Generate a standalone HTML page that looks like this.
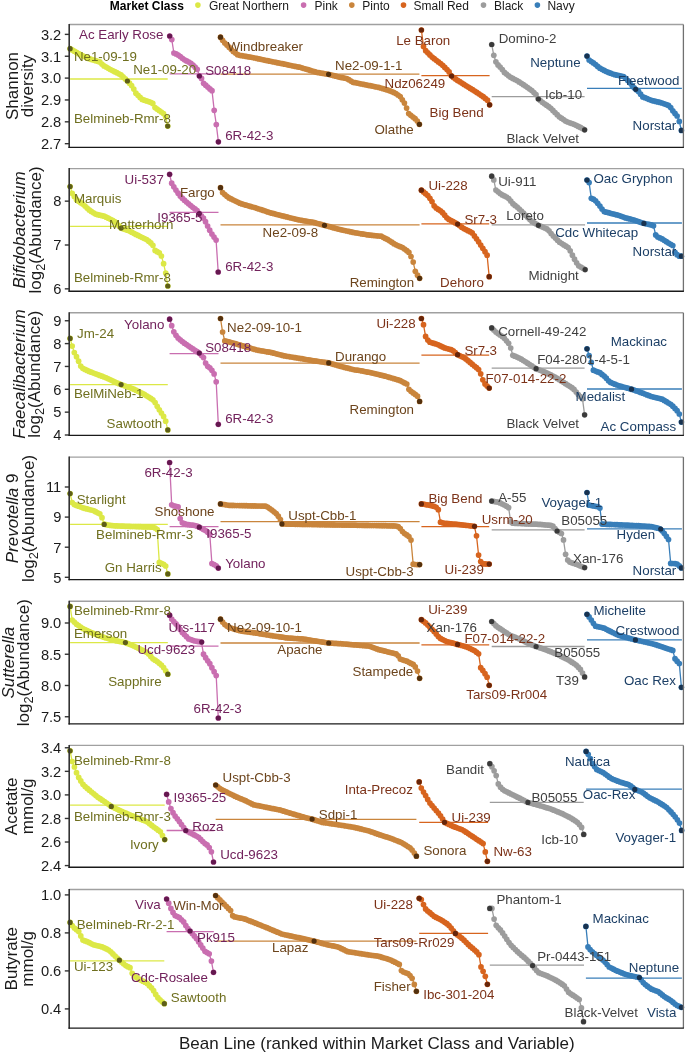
<!DOCTYPE html>
<html><head><meta charset="utf-8"><style>
html,body{margin:0;padding:0;background:#fff;}
svg{display:block;font-family:"Liberation Sans", sans-serif;will-change:transform;}
</style></head><body>
<svg width="685" height="1053" viewBox="0 0 685 1053">
<rect width="685" height="1053" fill="#fff"/>
<text x="109.8" y="9.5" font-size="12" fill="#000" font-weight="bold">Market Class</text>
<circle cx="197.9" cy="5.1" r="2.8" fill="#dce846"/>
<text x="209.0" y="9.5" font-size="12" fill="#1a1a1a">Great Northern</text>
<circle cx="303.6" cy="5.1" r="2.8" fill="#c96eb0"/>
<text x="314.5" y="9.5" font-size="12" fill="#1a1a1a">Pink</text>
<circle cx="351.8" cy="5.1" r="2.8" fill="#c9853c"/>
<text x="362.3" y="9.5" font-size="12" fill="#1a1a1a">Pinto</text>
<circle cx="403.5" cy="5.1" r="2.8" fill="#d7641e"/>
<text x="413.6" y="9.5" font-size="12" fill="#1a1a1a">Small Red</text>
<circle cx="483.5" cy="5.1" r="2.8" fill="#9c9c9c"/>
<text x="494.0" y="9.5" font-size="12" fill="#1a1a1a">Black</text>
<circle cx="537.4" cy="5.1" r="2.8" fill="#387eb9"/>
<text x="547.4" y="9.5" font-size="12" fill="#1a1a1a">Navy</text>
<line x1="64.8" y1="34.38" x2="69.20" y2="34.38" stroke="#333" stroke-width="1.4"/>
<text x="61.3" y="39.6" font-size="14.7" fill="#1a1a1a" text-anchor="end">3.2</text>
<line x1="64.8" y1="56.24" x2="69.20" y2="56.24" stroke="#333" stroke-width="1.4"/>
<text x="61.3" y="61.5" font-size="14.7" fill="#1a1a1a" text-anchor="end">3.1</text>
<line x1="64.8" y1="78.10" x2="69.20" y2="78.10" stroke="#333" stroke-width="1.4"/>
<text x="61.3" y="83.4" font-size="14.7" fill="#1a1a1a" text-anchor="end">3.0</text>
<line x1="64.8" y1="99.96" x2="69.20" y2="99.96" stroke="#333" stroke-width="1.4"/>
<text x="61.3" y="105.2" font-size="14.7" fill="#1a1a1a" text-anchor="end">2.9</text>
<line x1="64.8" y1="121.82" x2="69.20" y2="121.82" stroke="#333" stroke-width="1.4"/>
<text x="61.3" y="127.1" font-size="14.7" fill="#1a1a1a" text-anchor="end">2.8</text>
<line x1="64.8" y1="143.68" x2="69.20" y2="143.68" stroke="#333" stroke-width="1.4"/>
<text x="61.3" y="148.9" font-size="14.7" fill="#1a1a1a" text-anchor="end">2.7</text>
<text transform="translate(17.5,86.0) rotate(-90)" font-size="17" text-anchor="middle" fill="#1a1a1a">Shannon</text>
<text transform="translate(32.9,86.0) rotate(-90)" font-size="17" text-anchor="middle" fill="#1a1a1a">diversity</text>
<g>
<line x1="70.1" y1="79.0" x2="167.7" y2="79.0" stroke="#dce846" stroke-width="1.3"/>
<path d="M70.1,48.7 L72.2,49.9 L74.3,51.2 L76.5,52.4 L78.6,53.7 L80.7,54.7 L82.8,55.8 L85.0,56.8 L87.1,57.9 L89.2,58.7 L91.3,59.4 L93.4,60.0 L95.6,60.7 L97.7,61.3 L99.8,61.9 L101.9,64.0 L104.0,65.9 L106.2,67.1 L108.3,68.3 L110.4,69.5 L112.5,70.6 L114.7,71.7 L116.8,72.7 L118.9,73.8 L121.0,74.9 L123.1,76.9 L125.3,78.9 L127.4,81.0 L129.5,83.2 L131.6,85.5 L133.8,89.1 L135.9,93.2 L138.0,95.3 L140.1,97.4 L142.2,99.4 L144.4,100.2 L146.5,100.9 L148.6,101.6 L150.7,102.3 L152.8,103.4 L155.0,107.6 L157.1,109.1 L159.2,110.5 L161.3,112.0 L163.5,113.5 L165.6,116.8 L167.7,126.1" fill="none" stroke="#dce846" stroke-width="1.3"/>
<g fill="#dce846"><circle cx="70.1" cy="48.7" r="2.85"/><circle cx="72.2" cy="49.9" r="2.85"/><circle cx="74.3" cy="51.2" r="2.85"/><circle cx="76.5" cy="52.4" r="2.85"/><circle cx="78.6" cy="53.7" r="2.85"/><circle cx="80.7" cy="54.7" r="2.85"/><circle cx="82.8" cy="55.8" r="2.85"/><circle cx="85.0" cy="56.8" r="2.85"/><circle cx="87.1" cy="57.9" r="2.85"/><circle cx="89.2" cy="58.7" r="2.85"/><circle cx="91.3" cy="59.4" r="2.85"/><circle cx="93.4" cy="60.0" r="2.85"/><circle cx="95.6" cy="60.7" r="2.85"/><circle cx="97.7" cy="61.3" r="2.85"/><circle cx="99.8" cy="61.9" r="2.85"/><circle cx="101.9" cy="64.0" r="2.85"/><circle cx="104.0" cy="65.9" r="2.85"/><circle cx="106.2" cy="67.1" r="2.85"/><circle cx="108.3" cy="68.3" r="2.85"/><circle cx="110.4" cy="69.5" r="2.85"/><circle cx="112.5" cy="70.6" r="2.85"/><circle cx="114.7" cy="71.7" r="2.85"/><circle cx="116.8" cy="72.7" r="2.85"/><circle cx="118.9" cy="73.8" r="2.85"/><circle cx="121.0" cy="74.9" r="2.85"/><circle cx="123.1" cy="76.9" r="2.85"/><circle cx="125.3" cy="78.9" r="2.85"/><circle cx="127.4" cy="81.0" r="2.85"/><circle cx="129.5" cy="83.2" r="2.85"/><circle cx="131.6" cy="85.5" r="2.85"/><circle cx="133.8" cy="89.1" r="2.85"/><circle cx="135.9" cy="93.2" r="2.85"/><circle cx="138.0" cy="95.3" r="2.85"/><circle cx="140.1" cy="97.4" r="2.85"/><circle cx="142.2" cy="99.4" r="2.85"/><circle cx="144.4" cy="100.2" r="2.85"/><circle cx="146.5" cy="100.9" r="2.85"/><circle cx="148.6" cy="101.6" r="2.85"/><circle cx="150.7" cy="102.3" r="2.85"/><circle cx="152.8" cy="103.4" r="2.85"/><circle cx="155.0" cy="107.6" r="2.85"/><circle cx="157.1" cy="109.1" r="2.85"/><circle cx="159.2" cy="110.5" r="2.85"/><circle cx="161.3" cy="112.0" r="2.85"/><circle cx="163.5" cy="113.5" r="2.85"/><circle cx="165.6" cy="116.8" r="2.85"/><circle cx="167.7" cy="126.1" r="2.85"/></g>
<g fill="#5e5e18"><circle cx="70.1" cy="48.7" r="2.6"/><circle cx="167.7" cy="126.1" r="2.6"/><circle cx="127.4" cy="81.0" r="2.6"/></g>
<line x1="169.7" y1="73.8" x2="220.0" y2="73.8" stroke="#c96eb0" stroke-width="1.3"/>
<path d="M169.7,36.0 L171.8,39.6 L173.9,53.0 L176.1,53.9 L178.2,55.1 L180.3,56.5 L182.4,58.3 L184.5,59.8 L186.6,60.9 L188.8,62.0 L190.9,63.4 L193.0,65.1 L195.1,67.2 L197.2,69.3 L199.3,75.8 L201.5,78.4 L203.6,83.3 L205.7,85.2 L207.8,87.1 L209.9,88.9 L212.0,90.7 L214.2,110.3 L216.3,124.5 L218.4,141.8" fill="none" stroke="#c96eb0" stroke-width="1.3"/>
<g fill="#c96eb0"><circle cx="169.7" cy="36.0" r="2.85"/><circle cx="171.8" cy="39.6" r="2.85"/><circle cx="173.9" cy="53.0" r="2.85"/><circle cx="176.1" cy="53.9" r="2.85"/><circle cx="178.2" cy="55.1" r="2.85"/><circle cx="180.3" cy="56.5" r="2.85"/><circle cx="182.4" cy="58.3" r="2.85"/><circle cx="184.5" cy="59.8" r="2.85"/><circle cx="186.6" cy="60.9" r="2.85"/><circle cx="188.8" cy="62.0" r="2.85"/><circle cx="190.9" cy="63.4" r="2.85"/><circle cx="193.0" cy="65.1" r="2.85"/><circle cx="195.1" cy="67.2" r="2.85"/><circle cx="197.2" cy="69.3" r="2.85"/><circle cx="199.3" cy="75.8" r="2.85"/><circle cx="201.5" cy="78.4" r="2.85"/><circle cx="203.6" cy="83.3" r="2.85"/><circle cx="205.7" cy="85.2" r="2.85"/><circle cx="207.8" cy="87.1" r="2.85"/><circle cx="209.9" cy="88.9" r="2.85"/><circle cx="212.0" cy="90.7" r="2.85"/><circle cx="214.2" cy="110.3" r="2.85"/><circle cx="216.3" cy="124.5" r="2.85"/><circle cx="218.4" cy="141.8" r="2.85"/></g>
<g fill="#64184f"><circle cx="169.7" cy="36.0" r="2.6"/><circle cx="218.4" cy="141.8" r="2.6"/><circle cx="199.4" cy="76.0" r="2.6"/></g>
<line x1="220.5" y1="74.1" x2="419.4" y2="74.1" stroke="#c9853c" stroke-width="1.3"/>
<path d="M220.5,37.2 L222.6,40.3 L224.8,43.0 L226.9,45.1 L229.1,47.2 L231.2,49.3 L233.3,51.4 L235.5,53.1 L237.6,54.7 L239.7,55.3 L241.9,55.7 L244.0,56.0 L246.2,56.4 L248.3,56.8 L250.4,57.1 L252.6,57.5 L254.7,58.0 L256.9,58.4 L259.0,58.9 L261.1,59.3 L263.3,59.8 L265.4,60.3 L267.6,60.7 L269.7,61.2 L271.8,61.6 L274.0,62.0 L276.1,62.4 L278.2,62.9 L280.4,63.3 L282.5,63.7 L284.7,64.2 L286.8,64.6 L288.9,65.1 L291.1,65.5 L293.2,66.0 L295.4,66.4 L297.5,66.8 L299.6,67.2 L301.8,67.8 L303.9,68.5 L306.0,69.1 L308.2,69.7 L310.3,70.4 L312.5,71.0 L314.6,71.6 L316.7,72.3 L318.9,72.7 L321.0,73.1 L323.2,73.4 L325.3,73.8 L327.4,74.1 L329.6,74.6 L331.7,75.1 L333.9,75.7 L336.0,76.2 L338.1,76.8 L340.3,77.3 L342.4,77.7 L344.5,78.1 L346.7,78.6 L348.8,79.7 L351.0,81.1 L353.1,82.3 L355.2,82.7 L357.4,83.1 L359.5,83.6 L361.7,84.0 L363.8,84.4 L365.9,84.8 L368.1,85.3 L370.2,85.7 L372.3,86.1 L374.5,86.6 L376.6,87.0 L378.8,87.4 L380.9,88.0 L383.0,88.7 L385.2,89.3 L387.3,89.9 L389.5,90.7 L391.6,91.5 L393.7,92.4 L395.9,93.5 L398.0,95.0 L400.2,96.6 L402.3,99.8 L404.4,103.1 L406.6,108.1 L408.7,113.6 L410.8,115.3 L413.0,117.0 L415.1,118.7 L417.3,121.0 L419.4,124.3" fill="none" stroke="#c9853c" stroke-width="1.3"/>
<g fill="#c9853c"><circle cx="220.5" cy="37.2" r="2.85"/><circle cx="222.6" cy="40.3" r="2.85"/><circle cx="224.8" cy="43.0" r="2.85"/><circle cx="226.9" cy="45.1" r="2.85"/><circle cx="229.1" cy="47.2" r="2.85"/><circle cx="231.2" cy="49.3" r="2.85"/><circle cx="233.3" cy="51.4" r="2.85"/><circle cx="235.5" cy="53.1" r="2.85"/><circle cx="237.6" cy="54.7" r="2.85"/><circle cx="239.7" cy="55.3" r="2.85"/><circle cx="241.9" cy="55.7" r="2.85"/><circle cx="244.0" cy="56.0" r="2.85"/><circle cx="246.2" cy="56.4" r="2.85"/><circle cx="248.3" cy="56.8" r="2.85"/><circle cx="250.4" cy="57.1" r="2.85"/><circle cx="252.6" cy="57.5" r="2.85"/><circle cx="254.7" cy="58.0" r="2.85"/><circle cx="256.9" cy="58.4" r="2.85"/><circle cx="259.0" cy="58.9" r="2.85"/><circle cx="261.1" cy="59.3" r="2.85"/><circle cx="263.3" cy="59.8" r="2.85"/><circle cx="265.4" cy="60.3" r="2.85"/><circle cx="267.6" cy="60.7" r="2.85"/><circle cx="269.7" cy="61.2" r="2.85"/><circle cx="271.8" cy="61.6" r="2.85"/><circle cx="274.0" cy="62.0" r="2.85"/><circle cx="276.1" cy="62.4" r="2.85"/><circle cx="278.2" cy="62.9" r="2.85"/><circle cx="280.4" cy="63.3" r="2.85"/><circle cx="282.5" cy="63.7" r="2.85"/><circle cx="284.7" cy="64.2" r="2.85"/><circle cx="286.8" cy="64.6" r="2.85"/><circle cx="288.9" cy="65.1" r="2.85"/><circle cx="291.1" cy="65.5" r="2.85"/><circle cx="293.2" cy="66.0" r="2.85"/><circle cx="295.4" cy="66.4" r="2.85"/><circle cx="297.5" cy="66.8" r="2.85"/><circle cx="299.6" cy="67.2" r="2.85"/><circle cx="301.8" cy="67.8" r="2.85"/><circle cx="303.9" cy="68.5" r="2.85"/><circle cx="306.0" cy="69.1" r="2.85"/><circle cx="308.2" cy="69.7" r="2.85"/><circle cx="310.3" cy="70.4" r="2.85"/><circle cx="312.5" cy="71.0" r="2.85"/><circle cx="314.6" cy="71.6" r="2.85"/><circle cx="316.7" cy="72.3" r="2.85"/><circle cx="318.9" cy="72.7" r="2.85"/><circle cx="321.0" cy="73.1" r="2.85"/><circle cx="323.2" cy="73.4" r="2.85"/><circle cx="325.3" cy="73.8" r="2.85"/><circle cx="327.4" cy="74.1" r="2.85"/><circle cx="329.6" cy="74.6" r="2.85"/><circle cx="331.7" cy="75.1" r="2.85"/><circle cx="333.9" cy="75.7" r="2.85"/><circle cx="336.0" cy="76.2" r="2.85"/><circle cx="338.1" cy="76.8" r="2.85"/><circle cx="340.3" cy="77.3" r="2.85"/><circle cx="342.4" cy="77.7" r="2.85"/><circle cx="344.5" cy="78.1" r="2.85"/><circle cx="346.7" cy="78.6" r="2.85"/><circle cx="348.8" cy="79.7" r="2.85"/><circle cx="351.0" cy="81.1" r="2.85"/><circle cx="353.1" cy="82.3" r="2.85"/><circle cx="355.2" cy="82.7" r="2.85"/><circle cx="357.4" cy="83.1" r="2.85"/><circle cx="359.5" cy="83.6" r="2.85"/><circle cx="361.7" cy="84.0" r="2.85"/><circle cx="363.8" cy="84.4" r="2.85"/><circle cx="365.9" cy="84.8" r="2.85"/><circle cx="368.1" cy="85.3" r="2.85"/><circle cx="370.2" cy="85.7" r="2.85"/><circle cx="372.3" cy="86.1" r="2.85"/><circle cx="374.5" cy="86.6" r="2.85"/><circle cx="376.6" cy="87.0" r="2.85"/><circle cx="378.8" cy="87.4" r="2.85"/><circle cx="380.9" cy="88.0" r="2.85"/><circle cx="383.0" cy="88.7" r="2.85"/><circle cx="385.2" cy="89.3" r="2.85"/><circle cx="387.3" cy="89.9" r="2.85"/><circle cx="389.5" cy="90.7" r="2.85"/><circle cx="391.6" cy="91.5" r="2.85"/><circle cx="393.7" cy="92.4" r="2.85"/><circle cx="395.9" cy="93.5" r="2.85"/><circle cx="398.0" cy="95.0" r="2.85"/><circle cx="400.2" cy="96.6" r="2.85"/><circle cx="402.3" cy="99.8" r="2.85"/><circle cx="404.4" cy="103.1" r="2.85"/><circle cx="406.6" cy="108.1" r="2.85"/><circle cx="408.7" cy="113.6" r="2.85"/><circle cx="410.8" cy="115.3" r="2.85"/><circle cx="413.0" cy="117.0" r="2.85"/><circle cx="415.1" cy="118.7" r="2.85"/><circle cx="417.3" cy="121.0" r="2.85"/><circle cx="419.4" cy="124.3" r="2.85"/></g>
<g fill="#52300e"><circle cx="220.5" cy="37.2" r="2.6"/><circle cx="419.4" cy="124.3" r="2.6"/><circle cx="328.6" cy="74.3" r="2.6"/></g>
<line x1="421.4" y1="75.6" x2="489.6" y2="75.6" stroke="#d7641e" stroke-width="1.3"/>
<path d="M421.4,30.0 L423.5,46.6 L425.7,50.7 L427.8,52.8 L429.9,54.9 L432.1,57.1 L434.2,58.7 L436.3,60.3 L438.4,61.9 L440.6,63.5 L442.7,65.3 L444.8,67.4 L447.0,69.6 L449.1,71.9 L451.2,75.5 L453.4,77.4 L455.5,78.9 L457.6,80.4 L459.8,81.7 L461.9,83.1 L464.0,84.4 L466.2,85.8 L468.3,87.1 L470.4,88.4 L472.6,89.7 L474.7,91.1 L476.8,92.4 L478.9,93.8 L481.1,95.3 L483.2,96.7 L485.3,98.4 L487.5,100.2 L489.6,104.8" fill="none" stroke="#d7641e" stroke-width="1.3"/>
<g fill="#d7641e"><circle cx="421.4" cy="30.0" r="2.85"/><circle cx="423.5" cy="46.6" r="2.85"/><circle cx="425.7" cy="50.7" r="2.85"/><circle cx="427.8" cy="52.8" r="2.85"/><circle cx="429.9" cy="54.9" r="2.85"/><circle cx="432.1" cy="57.1" r="2.85"/><circle cx="434.2" cy="58.7" r="2.85"/><circle cx="436.3" cy="60.3" r="2.85"/><circle cx="438.4" cy="61.9" r="2.85"/><circle cx="440.6" cy="63.5" r="2.85"/><circle cx="442.7" cy="65.3" r="2.85"/><circle cx="444.8" cy="67.4" r="2.85"/><circle cx="447.0" cy="69.6" r="2.85"/><circle cx="449.1" cy="71.9" r="2.85"/><circle cx="451.2" cy="75.5" r="2.85"/><circle cx="453.4" cy="77.4" r="2.85"/><circle cx="455.5" cy="78.9" r="2.85"/><circle cx="457.6" cy="80.4" r="2.85"/><circle cx="459.8" cy="81.7" r="2.85"/><circle cx="461.9" cy="83.1" r="2.85"/><circle cx="464.0" cy="84.4" r="2.85"/><circle cx="466.2" cy="85.8" r="2.85"/><circle cx="468.3" cy="87.1" r="2.85"/><circle cx="470.4" cy="88.4" r="2.85"/><circle cx="472.6" cy="89.7" r="2.85"/><circle cx="474.7" cy="91.1" r="2.85"/><circle cx="476.8" cy="92.4" r="2.85"/><circle cx="478.9" cy="93.8" r="2.85"/><circle cx="481.1" cy="95.3" r="2.85"/><circle cx="483.2" cy="96.7" r="2.85"/><circle cx="485.3" cy="98.4" r="2.85"/><circle cx="487.5" cy="100.2" r="2.85"/><circle cx="489.6" cy="104.8" r="2.85"/></g>
<g fill="#66250a"><circle cx="421.4" cy="30.0" r="2.6"/><circle cx="489.6" cy="104.8" r="2.6"/><circle cx="451.6" cy="76.1" r="2.6"/></g>
<line x1="491.7" y1="96.6" x2="584.6" y2="96.6" stroke="#9c9c9c" stroke-width="1.3"/>
<path d="M491.7,44.5 L493.8,55.3 L495.9,61.8 L498.0,64.9 L500.1,67.0 L502.3,69.6 L504.4,72.4 L506.5,74.1 L508.6,75.8 L510.7,77.4 L512.8,78.4 L514.9,79.5 L517.0,80.5 L519.1,81.9 L521.3,83.3 L523.4,84.7 L525.5,86.1 L527.6,87.5 L529.7,89.0 L531.8,90.5 L533.9,92.6 L536.0,94.6 L538.1,98.5 L540.3,100.5 L542.4,102.3 L544.5,103.8 L546.6,105.2 L548.7,106.7 L550.8,108.3 L552.9,110.4 L555.0,112.5 L557.2,114.7 L559.3,116.8 L561.4,118.2 L563.5,119.6 L565.6,121.1 L567.7,122.0 L569.8,122.8 L571.9,123.5 L574.0,124.3 L576.2,125.3 L578.3,126.4 L580.4,127.4 L582.5,128.6 L584.6,129.8" fill="none" stroke="#9c9c9c" stroke-width="1.3"/>
<g fill="#9c9c9c"><circle cx="491.7" cy="44.5" r="2.85"/><circle cx="493.8" cy="55.3" r="2.85"/><circle cx="495.9" cy="61.8" r="2.85"/><circle cx="498.0" cy="64.9" r="2.85"/><circle cx="500.1" cy="67.0" r="2.85"/><circle cx="502.3" cy="69.6" r="2.85"/><circle cx="504.4" cy="72.4" r="2.85"/><circle cx="506.5" cy="74.1" r="2.85"/><circle cx="508.6" cy="75.8" r="2.85"/><circle cx="510.7" cy="77.4" r="2.85"/><circle cx="512.8" cy="78.4" r="2.85"/><circle cx="514.9" cy="79.5" r="2.85"/><circle cx="517.0" cy="80.5" r="2.85"/><circle cx="519.1" cy="81.9" r="2.85"/><circle cx="521.3" cy="83.3" r="2.85"/><circle cx="523.4" cy="84.7" r="2.85"/><circle cx="525.5" cy="86.1" r="2.85"/><circle cx="527.6" cy="87.5" r="2.85"/><circle cx="529.7" cy="89.0" r="2.85"/><circle cx="531.8" cy="90.5" r="2.85"/><circle cx="533.9" cy="92.6" r="2.85"/><circle cx="536.0" cy="94.6" r="2.85"/><circle cx="538.1" cy="98.5" r="2.85"/><circle cx="540.3" cy="100.5" r="2.85"/><circle cx="542.4" cy="102.3" r="2.85"/><circle cx="544.5" cy="103.8" r="2.85"/><circle cx="546.6" cy="105.2" r="2.85"/><circle cx="548.7" cy="106.7" r="2.85"/><circle cx="550.8" cy="108.3" r="2.85"/><circle cx="552.9" cy="110.4" r="2.85"/><circle cx="555.0" cy="112.5" r="2.85"/><circle cx="557.2" cy="114.7" r="2.85"/><circle cx="559.3" cy="116.8" r="2.85"/><circle cx="561.4" cy="118.2" r="2.85"/><circle cx="563.5" cy="119.6" r="2.85"/><circle cx="565.6" cy="121.1" r="2.85"/><circle cx="567.7" cy="122.0" r="2.85"/><circle cx="569.8" cy="122.8" r="2.85"/><circle cx="571.9" cy="123.5" r="2.85"/><circle cx="574.0" cy="124.3" r="2.85"/><circle cx="576.2" cy="125.3" r="2.85"/><circle cx="578.3" cy="126.4" r="2.85"/><circle cx="580.4" cy="127.4" r="2.85"/><circle cx="582.5" cy="128.6" r="2.85"/><circle cx="584.6" cy="129.8" r="2.85"/></g>
<g fill="#3a3a3a"><circle cx="491.7" cy="44.5" r="2.6"/><circle cx="584.6" cy="129.8" r="2.6"/><circle cx="538.4" cy="99.0" r="2.6"/></g>
<line x1="587.0" y1="88.4" x2="681.9" y2="88.4" stroke="#387eb9" stroke-width="1.3"/>
<path d="M587.0,56.1 L589.1,60.0 L591.3,61.5 L593.4,62.9 L595.6,64.6 L597.7,66.4 L599.9,68.2 L602.0,69.3 L604.2,70.4 L606.3,71.5 L608.5,72.4 L610.6,73.2 L612.7,74.0 L614.9,74.7 L617.0,75.2 L619.2,75.6 L621.3,76.1 L623.5,76.5 L625.6,78.3 L627.8,80.5 L629.9,82.8 L632.1,85.6 L634.2,87.8 L636.3,89.8 L638.5,91.4 L640.6,94.2 L642.8,96.9 L644.9,97.7 L647.1,98.6 L649.2,99.5 L651.4,100.3 L653.5,100.9 L655.7,101.4 L657.8,101.9 L659.9,102.4 L662.1,103.0 L664.2,103.8 L666.4,104.6 L668.5,105.4 L670.7,107.6 L672.8,110.8 L675.0,113.4 L677.1,116.0 L679.3,121.4 L681.4,130.4" fill="none" stroke="#387eb9" stroke-width="1.3"/>
<g fill="#387eb9"><circle cx="587.0" cy="56.1" r="2.85"/><circle cx="589.1" cy="60.0" r="2.85"/><circle cx="591.3" cy="61.5" r="2.85"/><circle cx="593.4" cy="62.9" r="2.85"/><circle cx="595.6" cy="64.6" r="2.85"/><circle cx="597.7" cy="66.4" r="2.85"/><circle cx="599.9" cy="68.2" r="2.85"/><circle cx="602.0" cy="69.3" r="2.85"/><circle cx="604.2" cy="70.4" r="2.85"/><circle cx="606.3" cy="71.5" r="2.85"/><circle cx="608.5" cy="72.4" r="2.85"/><circle cx="610.6" cy="73.2" r="2.85"/><circle cx="612.7" cy="74.0" r="2.85"/><circle cx="614.9" cy="74.7" r="2.85"/><circle cx="617.0" cy="75.2" r="2.85"/><circle cx="619.2" cy="75.6" r="2.85"/><circle cx="621.3" cy="76.1" r="2.85"/><circle cx="623.5" cy="76.5" r="2.85"/><circle cx="625.6" cy="78.3" r="2.85"/><circle cx="627.8" cy="80.5" r="2.85"/><circle cx="629.9" cy="82.8" r="2.85"/><circle cx="632.1" cy="85.6" r="2.85"/><circle cx="634.2" cy="87.8" r="2.85"/><circle cx="636.3" cy="89.8" r="2.85"/><circle cx="638.5" cy="91.4" r="2.85"/><circle cx="640.6" cy="94.2" r="2.85"/><circle cx="642.8" cy="96.9" r="2.85"/><circle cx="644.9" cy="97.7" r="2.85"/><circle cx="647.1" cy="98.6" r="2.85"/><circle cx="649.2" cy="99.5" r="2.85"/><circle cx="651.4" cy="100.3" r="2.85"/><circle cx="653.5" cy="100.9" r="2.85"/><circle cx="655.7" cy="101.4" r="2.85"/><circle cx="657.8" cy="101.9" r="2.85"/><circle cx="659.9" cy="102.4" r="2.85"/><circle cx="662.1" cy="103.0" r="2.85"/><circle cx="664.2" cy="103.8" r="2.85"/><circle cx="666.4" cy="104.6" r="2.85"/><circle cx="668.5" cy="105.4" r="2.85"/><circle cx="670.7" cy="107.6" r="2.85"/><circle cx="672.8" cy="110.8" r="2.85"/><circle cx="675.0" cy="113.4" r="2.85"/><circle cx="677.1" cy="116.0" r="2.85"/><circle cx="679.3" cy="121.4" r="2.85"/><circle cx="681.4" cy="130.4" r="2.85"/></g>
<g fill="#18324f"><circle cx="587.0" cy="56.1" r="2.6"/><circle cx="681.4" cy="130.4" r="2.6"/><circle cx="635.7" cy="89.3" r="2.6"/></g>
</g>
<text x="79.0" y="38.6" font-size="13.33" fill="#72225c">Ac Early Rose</text>
<text x="73.9" y="60.6" font-size="13.33" fill="#6f6f1f">Ne1-09-19</text>
<text x="133.2" y="73.7" font-size="13.33" fill="#6f6f1f">Ne1-09-20</text>
<text x="73.9" y="122.5" font-size="13.33" fill="#6f6f1f">Belmineb-Rmr-8</text>
<text x="205.2" y="75.3" font-size="13.33" fill="#72225c">S08418</text>
<text x="225.2" y="140.2" font-size="13.33" fill="#72225c">6R-42-3</text>
<text x="227.5" y="50.8" font-size="13.33" fill="#6c441c">Windbreaker</text>
<text x="335.0" y="70.2" font-size="13.33" fill="#6c441c">Ne2-09-1-1</text>
<text x="374.5" y="133.7" font-size="13.33" fill="#6c441c">Olathe</text>
<text x="396.2" y="44.5" font-size="13.33" fill="#7c3218">Le Baron</text>
<text x="384.5" y="88.1" font-size="13.33" fill="#7c3218">Ndz06249</text>
<text x="429.6" y="116.6" font-size="13.33" fill="#7c3218">Big Bend</text>
<text x="498.7" y="43.1" font-size="13.33" fill="#3f3f3f">Domino-2</text>
<text x="545.0" y="98.9" font-size="13.33" fill="#3f3f3f">Icb-10</text>
<text x="506.4" y="143.0" font-size="13.33" fill="#3f3f3f">Black Velvet</text>
<text x="530.2" y="67.1" font-size="13.33" fill="#1c3f66">Neptune</text>
<text x="618.0" y="84.6" font-size="13.33" fill="#1c3f66">Fleetwood</text>
<text x="632.6" y="129.9" font-size="13.33" fill="#1c3f66">Norstar</text>
<line x1="69.20" y1="24.50" x2="683.40" y2="24.50" stroke="#a0a0a0" stroke-width="1.4"/>
<line x1="683.40" y1="24.50" x2="683.40" y2="147.40" stroke="#707070" stroke-width="1.3"/>
<line x1="69.20" y1="24.00" x2="69.20" y2="148.00" stroke="#333" stroke-width="1.6"/>
<line x1="68.50" y1="147.40" x2="683.90" y2="147.40" stroke="#1a1a1a" stroke-width="1.4"/>
<line x1="64.8" y1="201.15" x2="69.20" y2="201.15" stroke="#333" stroke-width="1.4"/>
<text x="61.3" y="206.4" font-size="14.7" fill="#1a1a1a" text-anchor="end">8</text>
<line x1="64.8" y1="245.00" x2="69.20" y2="245.00" stroke="#333" stroke-width="1.4"/>
<text x="61.3" y="250.3" font-size="14.7" fill="#1a1a1a" text-anchor="end">7</text>
<line x1="64.8" y1="288.85" x2="69.20" y2="288.85" stroke="#333" stroke-width="1.4"/>
<text x="61.3" y="294.1" font-size="14.7" fill="#1a1a1a" text-anchor="end">6</text>
<text transform="translate(25.3,229.9) rotate(-90)" font-size="17" text-anchor="middle" fill="#1a1a1a"><tspan font-style="italic">Bifidobacterium</tspan></text>
<text transform="translate(40.6,229.9) rotate(-90)" font-size="17" text-anchor="middle" fill="#1a1a1a">log<tspan font-size="12.75" dy="4">2</tspan><tspan dy="-4">(Abundance)</tspan></text>
<g>
<line x1="70.1" y1="226.4" x2="167.8" y2="226.4" stroke="#dce846" stroke-width="1.3"/>
<path d="M70.1,186.5 L72.2,193.3 L74.3,196.5 L76.5,199.7 L78.6,201.3 L80.7,202.7 L82.8,204.1 L85.0,206.0 L87.1,208.1 L89.2,209.9 L91.3,211.4 L93.5,212.8 L95.6,214.1 L97.7,214.7 L99.8,215.2 L102.0,215.7 L104.1,216.2 L106.2,217.2 L108.3,218.2 L110.5,219.3 L112.6,220.3 L114.7,221.7 L116.8,223.8 L119.0,225.9 L121.1,228.1 L123.2,228.8 L125.3,229.5 L127.4,230.2 L129.6,231.1 L131.7,232.2 L133.8,233.3 L135.9,234.4 L138.1,235.4 L140.2,236.5 L142.3,237.5 L144.4,238.5 L146.6,239.6 L148.7,241.2 L150.8,242.9 L152.9,245.3 L155.1,250.4 L157.2,251.7 L159.3,252.9 L161.4,256.0 L163.6,263.7 L165.7,273.0 L167.8,286.0" fill="none" stroke="#dce846" stroke-width="1.3"/>
<g fill="#dce846"><circle cx="70.1" cy="186.5" r="2.85"/><circle cx="72.2" cy="193.3" r="2.85"/><circle cx="74.3" cy="196.5" r="2.85"/><circle cx="76.5" cy="199.7" r="2.85"/><circle cx="78.6" cy="201.3" r="2.85"/><circle cx="80.7" cy="202.7" r="2.85"/><circle cx="82.8" cy="204.1" r="2.85"/><circle cx="85.0" cy="206.0" r="2.85"/><circle cx="87.1" cy="208.1" r="2.85"/><circle cx="89.2" cy="209.9" r="2.85"/><circle cx="91.3" cy="211.4" r="2.85"/><circle cx="93.5" cy="212.8" r="2.85"/><circle cx="95.6" cy="214.1" r="2.85"/><circle cx="97.7" cy="214.7" r="2.85"/><circle cx="99.8" cy="215.2" r="2.85"/><circle cx="102.0" cy="215.7" r="2.85"/><circle cx="104.1" cy="216.2" r="2.85"/><circle cx="106.2" cy="217.2" r="2.85"/><circle cx="108.3" cy="218.2" r="2.85"/><circle cx="110.5" cy="219.3" r="2.85"/><circle cx="112.6" cy="220.3" r="2.85"/><circle cx="114.7" cy="221.7" r="2.85"/><circle cx="116.8" cy="223.8" r="2.85"/><circle cx="119.0" cy="225.9" r="2.85"/><circle cx="121.1" cy="228.1" r="2.85"/><circle cx="123.2" cy="228.8" r="2.85"/><circle cx="125.3" cy="229.5" r="2.85"/><circle cx="127.4" cy="230.2" r="2.85"/><circle cx="129.6" cy="231.1" r="2.85"/><circle cx="131.7" cy="232.2" r="2.85"/><circle cx="133.8" cy="233.3" r="2.85"/><circle cx="135.9" cy="234.4" r="2.85"/><circle cx="138.1" cy="235.4" r="2.85"/><circle cx="140.2" cy="236.5" r="2.85"/><circle cx="142.3" cy="237.5" r="2.85"/><circle cx="144.4" cy="238.5" r="2.85"/><circle cx="146.6" cy="239.6" r="2.85"/><circle cx="148.7" cy="241.2" r="2.85"/><circle cx="150.8" cy="242.9" r="2.85"/><circle cx="152.9" cy="245.3" r="2.85"/><circle cx="155.1" cy="250.4" r="2.85"/><circle cx="157.2" cy="251.7" r="2.85"/><circle cx="159.3" cy="252.9" r="2.85"/><circle cx="161.4" cy="256.0" r="2.85"/><circle cx="163.6" cy="263.7" r="2.85"/><circle cx="165.7" cy="273.0" r="2.85"/><circle cx="167.8" cy="286.0" r="2.85"/></g>
<g fill="#5e5e18"><circle cx="70.1" cy="186.5" r="2.6"/><circle cx="167.8" cy="286.0" r="2.6"/><circle cx="121.1" cy="228.1" r="2.6"/></g>
<line x1="169.6" y1="212.4" x2="218.5" y2="212.4" stroke="#c96eb0" stroke-width="1.3"/>
<path d="M169.6,174.3 L171.7,183.2 L173.8,186.8 L175.9,190.1 L178.1,193.2 L180.2,196.1 L182.3,198.2 L184.4,200.2 L186.5,202.0 L188.6,203.8 L190.7,205.6 L192.8,207.3 L195.0,208.9 L197.1,210.6 L199.2,213.4 L201.3,215.8 L203.4,218.1 L205.5,221.7 L207.6,226.0 L209.7,230.2 L211.9,234.0 L214.0,237.1 L216.1,240.1 L218.2,272.0" fill="none" stroke="#c96eb0" stroke-width="1.3"/>
<g fill="#c96eb0"><circle cx="169.6" cy="174.3" r="2.85"/><circle cx="171.7" cy="183.2" r="2.85"/><circle cx="173.8" cy="186.8" r="2.85"/><circle cx="175.9" cy="190.1" r="2.85"/><circle cx="178.1" cy="193.2" r="2.85"/><circle cx="180.2" cy="196.1" r="2.85"/><circle cx="182.3" cy="198.2" r="2.85"/><circle cx="184.4" cy="200.2" r="2.85"/><circle cx="186.5" cy="202.0" r="2.85"/><circle cx="188.6" cy="203.8" r="2.85"/><circle cx="190.7" cy="205.6" r="2.85"/><circle cx="192.8" cy="207.3" r="2.85"/><circle cx="195.0" cy="208.9" r="2.85"/><circle cx="197.1" cy="210.6" r="2.85"/><circle cx="199.2" cy="213.4" r="2.85"/><circle cx="201.3" cy="215.8" r="2.85"/><circle cx="203.4" cy="218.1" r="2.85"/><circle cx="205.5" cy="221.7" r="2.85"/><circle cx="207.6" cy="226.0" r="2.85"/><circle cx="209.7" cy="230.2" r="2.85"/><circle cx="211.9" cy="234.0" r="2.85"/><circle cx="214.0" cy="237.1" r="2.85"/><circle cx="216.1" cy="240.1" r="2.85"/><circle cx="218.2" cy="272.0" r="2.85"/></g>
<g fill="#64184f"><circle cx="169.6" cy="174.3" r="2.6"/><circle cx="218.2" cy="272.0" r="2.6"/><circle cx="199.3" cy="213.6" r="2.6"/></g>
<line x1="220.5" y1="224.9" x2="419.6" y2="224.9" stroke="#c9853c" stroke-width="1.3"/>
<path d="M220.5,187.7 L222.6,192.6 L224.8,194.6 L226.9,196.3 L229.1,197.9 L231.2,198.9 L233.3,200.0 L235.5,201.1 L237.6,202.1 L239.8,203.2 L241.9,203.9 L244.0,204.6 L246.2,205.2 L248.3,205.8 L250.5,206.4 L252.6,207.0 L254.8,207.6 L256.9,208.3 L259.0,209.0 L261.2,209.7 L263.3,210.4 L265.5,211.1 L267.6,211.9 L269.7,212.6 L271.9,213.2 L274.0,213.7 L276.2,214.3 L278.3,214.8 L280.4,215.3 L282.6,215.9 L284.7,216.4 L286.9,216.9 L289.0,217.5 L291.1,218.0 L293.3,218.5 L295.4,219.1 L297.6,219.6 L299.7,220.0 L301.9,220.4 L304.0,220.8 L306.1,221.1 L308.3,221.5 L310.4,221.8 L312.6,222.2 L314.7,222.7 L316.8,223.3 L319.0,223.8 L321.1,224.4 L323.3,225.0 L325.4,225.6 L327.5,226.1 L329.7,226.7 L331.8,227.3 L334.0,227.9 L336.1,228.5 L338.2,229.1 L340.4,229.6 L342.5,230.1 L344.7,230.5 L346.8,231.0 L349.0,231.4 L351.1,231.9 L353.2,232.4 L355.4,232.8 L357.5,233.1 L359.7,233.5 L361.8,233.9 L363.9,234.2 L366.1,234.6 L368.2,234.9 L370.4,235.2 L372.5,235.4 L374.6,235.6 L376.8,235.8 L378.9,236.0 L381.1,236.2 L383.2,237.3 L385.3,238.4 L387.5,239.4 L389.6,240.8 L391.8,242.2 L393.9,243.7 L396.1,244.8 L398.2,245.8 L400.3,246.7 L402.5,247.6 L404.6,249.0 L406.8,250.7 L408.9,252.4 L411.0,256.5 L413.2,262.1 L415.3,271.3 L417.5,275.2 L419.6,278.3" fill="none" stroke="#c9853c" stroke-width="1.3"/>
<g fill="#c9853c"><circle cx="220.5" cy="187.7" r="2.85"/><circle cx="222.6" cy="192.6" r="2.85"/><circle cx="224.8" cy="194.6" r="2.85"/><circle cx="226.9" cy="196.3" r="2.85"/><circle cx="229.1" cy="197.9" r="2.85"/><circle cx="231.2" cy="198.9" r="2.85"/><circle cx="233.3" cy="200.0" r="2.85"/><circle cx="235.5" cy="201.1" r="2.85"/><circle cx="237.6" cy="202.1" r="2.85"/><circle cx="239.8" cy="203.2" r="2.85"/><circle cx="241.9" cy="203.9" r="2.85"/><circle cx="244.0" cy="204.6" r="2.85"/><circle cx="246.2" cy="205.2" r="2.85"/><circle cx="248.3" cy="205.8" r="2.85"/><circle cx="250.5" cy="206.4" r="2.85"/><circle cx="252.6" cy="207.0" r="2.85"/><circle cx="254.8" cy="207.6" r="2.85"/><circle cx="256.9" cy="208.3" r="2.85"/><circle cx="259.0" cy="209.0" r="2.85"/><circle cx="261.2" cy="209.7" r="2.85"/><circle cx="263.3" cy="210.4" r="2.85"/><circle cx="265.5" cy="211.1" r="2.85"/><circle cx="267.6" cy="211.9" r="2.85"/><circle cx="269.7" cy="212.6" r="2.85"/><circle cx="271.9" cy="213.2" r="2.85"/><circle cx="274.0" cy="213.7" r="2.85"/><circle cx="276.2" cy="214.3" r="2.85"/><circle cx="278.3" cy="214.8" r="2.85"/><circle cx="280.4" cy="215.3" r="2.85"/><circle cx="282.6" cy="215.9" r="2.85"/><circle cx="284.7" cy="216.4" r="2.85"/><circle cx="286.9" cy="216.9" r="2.85"/><circle cx="289.0" cy="217.5" r="2.85"/><circle cx="291.1" cy="218.0" r="2.85"/><circle cx="293.3" cy="218.5" r="2.85"/><circle cx="295.4" cy="219.1" r="2.85"/><circle cx="297.6" cy="219.6" r="2.85"/><circle cx="299.7" cy="220.0" r="2.85"/><circle cx="301.9" cy="220.4" r="2.85"/><circle cx="304.0" cy="220.8" r="2.85"/><circle cx="306.1" cy="221.1" r="2.85"/><circle cx="308.3" cy="221.5" r="2.85"/><circle cx="310.4" cy="221.8" r="2.85"/><circle cx="312.6" cy="222.2" r="2.85"/><circle cx="314.7" cy="222.7" r="2.85"/><circle cx="316.8" cy="223.3" r="2.85"/><circle cx="319.0" cy="223.8" r="2.85"/><circle cx="321.1" cy="224.4" r="2.85"/><circle cx="323.3" cy="225.0" r="2.85"/><circle cx="325.4" cy="225.6" r="2.85"/><circle cx="327.5" cy="226.1" r="2.85"/><circle cx="329.7" cy="226.7" r="2.85"/><circle cx="331.8" cy="227.3" r="2.85"/><circle cx="334.0" cy="227.9" r="2.85"/><circle cx="336.1" cy="228.5" r="2.85"/><circle cx="338.2" cy="229.1" r="2.85"/><circle cx="340.4" cy="229.6" r="2.85"/><circle cx="342.5" cy="230.1" r="2.85"/><circle cx="344.7" cy="230.5" r="2.85"/><circle cx="346.8" cy="231.0" r="2.85"/><circle cx="349.0" cy="231.4" r="2.85"/><circle cx="351.1" cy="231.9" r="2.85"/><circle cx="353.2" cy="232.4" r="2.85"/><circle cx="355.4" cy="232.8" r="2.85"/><circle cx="357.5" cy="233.1" r="2.85"/><circle cx="359.7" cy="233.5" r="2.85"/><circle cx="361.8" cy="233.9" r="2.85"/><circle cx="363.9" cy="234.2" r="2.85"/><circle cx="366.1" cy="234.6" r="2.85"/><circle cx="368.2" cy="234.9" r="2.85"/><circle cx="370.4" cy="235.2" r="2.85"/><circle cx="372.5" cy="235.4" r="2.85"/><circle cx="374.6" cy="235.6" r="2.85"/><circle cx="376.8" cy="235.8" r="2.85"/><circle cx="378.9" cy="236.0" r="2.85"/><circle cx="381.1" cy="236.2" r="2.85"/><circle cx="383.2" cy="237.3" r="2.85"/><circle cx="385.3" cy="238.4" r="2.85"/><circle cx="387.5" cy="239.4" r="2.85"/><circle cx="389.6" cy="240.8" r="2.85"/><circle cx="391.8" cy="242.2" r="2.85"/><circle cx="393.9" cy="243.7" r="2.85"/><circle cx="396.1" cy="244.8" r="2.85"/><circle cx="398.2" cy="245.8" r="2.85"/><circle cx="400.3" cy="246.7" r="2.85"/><circle cx="402.5" cy="247.6" r="2.85"/><circle cx="404.6" cy="249.0" r="2.85"/><circle cx="406.8" cy="250.7" r="2.85"/><circle cx="408.9" cy="252.4" r="2.85"/><circle cx="411.0" cy="256.5" r="2.85"/><circle cx="413.2" cy="262.1" r="2.85"/><circle cx="415.3" cy="271.3" r="2.85"/><circle cx="417.5" cy="275.2" r="2.85"/><circle cx="419.6" cy="278.3" r="2.85"/></g>
<g fill="#52300e"><circle cx="220.5" cy="187.7" r="2.6"/><circle cx="419.6" cy="278.3" r="2.6"/><circle cx="324.5" cy="225.3" r="2.6"/></g>
<line x1="421.4" y1="223.9" x2="489.2" y2="223.9" stroke="#d7641e" stroke-width="1.3"/>
<path d="M421.4,190.2 L423.5,191.9 L425.6,193.7 L427.8,195.5 L429.9,198.3 L432.0,201.6 L434.1,205.8 L436.2,208.0 L438.3,209.4 L440.5,210.8 L442.6,212.7 L444.7,215.2 L446.8,217.8 L448.9,219.4 L451.1,220.6 L453.2,221.7 L455.3,222.9 L457.4,224.0 L459.5,225.6 L461.7,227.2 L463.8,228.6 L465.9,229.6 L468.0,230.7 L470.1,231.7 L472.2,232.9 L474.4,235.9 L476.5,238.8 L478.6,241.8 L480.7,245.0 L482.8,248.3 L485.0,251.7 L487.1,255.2 L489.2,276.7" fill="none" stroke="#d7641e" stroke-width="1.3"/>
<g fill="#d7641e"><circle cx="421.4" cy="190.2" r="2.85"/><circle cx="423.5" cy="191.9" r="2.85"/><circle cx="425.6" cy="193.7" r="2.85"/><circle cx="427.8" cy="195.5" r="2.85"/><circle cx="429.9" cy="198.3" r="2.85"/><circle cx="432.0" cy="201.6" r="2.85"/><circle cx="434.1" cy="205.8" r="2.85"/><circle cx="436.2" cy="208.0" r="2.85"/><circle cx="438.3" cy="209.4" r="2.85"/><circle cx="440.5" cy="210.8" r="2.85"/><circle cx="442.6" cy="212.7" r="2.85"/><circle cx="444.7" cy="215.2" r="2.85"/><circle cx="446.8" cy="217.8" r="2.85"/><circle cx="448.9" cy="219.4" r="2.85"/><circle cx="451.1" cy="220.6" r="2.85"/><circle cx="453.2" cy="221.7" r="2.85"/><circle cx="455.3" cy="222.9" r="2.85"/><circle cx="457.4" cy="224.0" r="2.85"/><circle cx="459.5" cy="225.6" r="2.85"/><circle cx="461.7" cy="227.2" r="2.85"/><circle cx="463.8" cy="228.6" r="2.85"/><circle cx="465.9" cy="229.6" r="2.85"/><circle cx="468.0" cy="230.7" r="2.85"/><circle cx="470.1" cy="231.7" r="2.85"/><circle cx="472.2" cy="232.9" r="2.85"/><circle cx="474.4" cy="235.9" r="2.85"/><circle cx="476.5" cy="238.8" r="2.85"/><circle cx="478.6" cy="241.8" r="2.85"/><circle cx="480.7" cy="245.0" r="2.85"/><circle cx="482.8" cy="248.3" r="2.85"/><circle cx="485.0" cy="251.7" r="2.85"/><circle cx="487.1" cy="255.2" r="2.85"/><circle cx="489.2" cy="276.7" r="2.85"/></g>
<g fill="#66250a"><circle cx="421.4" cy="190.2" r="2.6"/><circle cx="489.2" cy="276.7" r="2.6"/><circle cx="457.6" cy="224.1" r="2.6"/></g>
<line x1="491.7" y1="224.9" x2="585.1" y2="224.9" stroke="#9c9c9c" stroke-width="1.3"/>
<path d="M491.7,176.2 L493.8,179.9 L495.9,190.1 L498.1,191.8 L500.2,193.5 L502.3,194.9 L504.4,195.9 L506.6,197.0 L508.7,198.5 L510.8,201.2 L512.9,203.7 L515.0,205.4 L517.2,207.1 L519.3,209.0 L521.4,211.1 L523.5,213.2 L525.7,215.4 L527.8,217.5 L529.9,219.6 L532.0,221.5 L534.2,222.8 L536.3,224.0 L538.4,225.3 L540.5,226.2 L542.6,227.1 L544.8,228.0 L546.9,228.9 L549.0,230.8 L551.1,233.5 L553.3,236.0 L555.4,238.1 L557.5,240.2 L559.6,242.2 L561.8,243.6 L563.9,244.9 L566.0,246.2 L568.1,247.5 L570.2,250.8 L572.4,255.2 L574.5,259.2 L576.6,262.8 L578.7,265.8 L580.9,267.1 L583.0,268.3 L585.1,269.6" fill="none" stroke="#9c9c9c" stroke-width="1.3"/>
<g fill="#9c9c9c"><circle cx="491.7" cy="176.2" r="2.85"/><circle cx="493.8" cy="179.9" r="2.85"/><circle cx="495.9" cy="190.1" r="2.85"/><circle cx="498.1" cy="191.8" r="2.85"/><circle cx="500.2" cy="193.5" r="2.85"/><circle cx="502.3" cy="194.9" r="2.85"/><circle cx="504.4" cy="195.9" r="2.85"/><circle cx="506.6" cy="197.0" r="2.85"/><circle cx="508.7" cy="198.5" r="2.85"/><circle cx="510.8" cy="201.2" r="2.85"/><circle cx="512.9" cy="203.7" r="2.85"/><circle cx="515.0" cy="205.4" r="2.85"/><circle cx="517.2" cy="207.1" r="2.85"/><circle cx="519.3" cy="209.0" r="2.85"/><circle cx="521.4" cy="211.1" r="2.85"/><circle cx="523.5" cy="213.2" r="2.85"/><circle cx="525.7" cy="215.4" r="2.85"/><circle cx="527.8" cy="217.5" r="2.85"/><circle cx="529.9" cy="219.6" r="2.85"/><circle cx="532.0" cy="221.5" r="2.85"/><circle cx="534.2" cy="222.8" r="2.85"/><circle cx="536.3" cy="224.0" r="2.85"/><circle cx="538.4" cy="225.3" r="2.85"/><circle cx="540.5" cy="226.2" r="2.85"/><circle cx="542.6" cy="227.1" r="2.85"/><circle cx="544.8" cy="228.0" r="2.85"/><circle cx="546.9" cy="228.9" r="2.85"/><circle cx="549.0" cy="230.8" r="2.85"/><circle cx="551.1" cy="233.5" r="2.85"/><circle cx="553.3" cy="236.0" r="2.85"/><circle cx="555.4" cy="238.1" r="2.85"/><circle cx="557.5" cy="240.2" r="2.85"/><circle cx="559.6" cy="242.2" r="2.85"/><circle cx="561.8" cy="243.6" r="2.85"/><circle cx="563.9" cy="244.9" r="2.85"/><circle cx="566.0" cy="246.2" r="2.85"/><circle cx="568.1" cy="247.5" r="2.85"/><circle cx="570.2" cy="250.8" r="2.85"/><circle cx="572.4" cy="255.2" r="2.85"/><circle cx="574.5" cy="259.2" r="2.85"/><circle cx="576.6" cy="262.8" r="2.85"/><circle cx="578.7" cy="265.8" r="2.85"/><circle cx="580.9" cy="267.1" r="2.85"/><circle cx="583.0" cy="268.3" r="2.85"/><circle cx="585.1" cy="269.6" r="2.85"/></g>
<g fill="#3a3a3a"><circle cx="491.7" cy="176.2" r="2.6"/><circle cx="585.1" cy="269.6" r="2.6"/><circle cx="538.4" cy="225.3" r="2.6"/></g>
<line x1="587.0" y1="223.0" x2="681.9" y2="223.0" stroke="#387eb9" stroke-width="1.3"/>
<path d="M587.0,180.1 L589.1,182.6 L591.3,198.3 L593.4,199.2 L595.6,200.8 L597.7,203.3 L599.9,206.0 L602.0,209.0 L604.2,211.6 L606.3,212.2 L608.5,212.7 L610.6,213.3 L612.7,213.8 L614.9,214.3 L617.0,214.9 L619.2,215.5 L621.3,216.3 L623.5,217.1 L625.6,217.9 L627.8,218.4 L629.9,218.9 L632.1,219.5 L634.2,220.1 L636.3,220.8 L638.5,221.6 L640.6,222.3 L642.8,223.0 L644.9,223.6 L647.1,224.0 L649.2,224.4 L651.4,224.9 L653.5,225.8 L655.7,234.9 L657.8,237.0 L659.9,237.9 L662.1,238.9 L664.2,240.3 L666.4,241.7 L668.5,243.1 L670.7,244.3 L672.8,245.5 L675.0,252.3 L677.1,254.7 L679.3,256.2 L681.4,256.2" fill="none" stroke="#387eb9" stroke-width="1.3"/>
<g fill="#387eb9"><circle cx="587.0" cy="180.1" r="2.85"/><circle cx="589.1" cy="182.6" r="2.85"/><circle cx="591.3" cy="198.3" r="2.85"/><circle cx="593.4" cy="199.2" r="2.85"/><circle cx="595.6" cy="200.8" r="2.85"/><circle cx="597.7" cy="203.3" r="2.85"/><circle cx="599.9" cy="206.0" r="2.85"/><circle cx="602.0" cy="209.0" r="2.85"/><circle cx="604.2" cy="211.6" r="2.85"/><circle cx="606.3" cy="212.2" r="2.85"/><circle cx="608.5" cy="212.7" r="2.85"/><circle cx="610.6" cy="213.3" r="2.85"/><circle cx="612.7" cy="213.8" r="2.85"/><circle cx="614.9" cy="214.3" r="2.85"/><circle cx="617.0" cy="214.9" r="2.85"/><circle cx="619.2" cy="215.5" r="2.85"/><circle cx="621.3" cy="216.3" r="2.85"/><circle cx="623.5" cy="217.1" r="2.85"/><circle cx="625.6" cy="217.9" r="2.85"/><circle cx="627.8" cy="218.4" r="2.85"/><circle cx="629.9" cy="218.9" r="2.85"/><circle cx="632.1" cy="219.5" r="2.85"/><circle cx="634.2" cy="220.1" r="2.85"/><circle cx="636.3" cy="220.8" r="2.85"/><circle cx="638.5" cy="221.6" r="2.85"/><circle cx="640.6" cy="222.3" r="2.85"/><circle cx="642.8" cy="223.0" r="2.85"/><circle cx="644.9" cy="223.6" r="2.85"/><circle cx="647.1" cy="224.0" r="2.85"/><circle cx="649.2" cy="224.4" r="2.85"/><circle cx="651.4" cy="224.9" r="2.85"/><circle cx="653.5" cy="225.8" r="2.85"/><circle cx="655.7" cy="234.9" r="2.85"/><circle cx="657.8" cy="237.0" r="2.85"/><circle cx="659.9" cy="237.9" r="2.85"/><circle cx="662.1" cy="238.9" r="2.85"/><circle cx="664.2" cy="240.3" r="2.85"/><circle cx="666.4" cy="241.7" r="2.85"/><circle cx="668.5" cy="243.1" r="2.85"/><circle cx="670.7" cy="244.3" r="2.85"/><circle cx="672.8" cy="245.5" r="2.85"/><circle cx="675.0" cy="252.3" r="2.85"/><circle cx="677.1" cy="254.7" r="2.85"/><circle cx="679.3" cy="256.2" r="2.85"/><circle cx="681.4" cy="256.2" r="2.85"/></g>
<g fill="#18324f"><circle cx="587.0" cy="180.1" r="2.6"/><circle cx="681.4" cy="256.2" r="2.6"/><circle cx="643.9" cy="223.4" r="2.6"/></g>
</g>
<text x="124.6" y="183.6" font-size="13.33" fill="#72225c">Ui-537</text>
<text x="73.9" y="202.8" font-size="13.33" fill="#6f6f1f">Marquis</text>
<text x="108.9" y="228.9" font-size="13.33" fill="#6f6f1f">Matterhorn</text>
<text x="73.9" y="281.5" font-size="13.33" fill="#6f6f1f">Belmineb-Rmr-8</text>
<text x="179.9" y="196.9" font-size="13.33" fill="#6c441c">Fargo</text>
<text x="157.3" y="221.5" font-size="13.33" fill="#72225c">I9365-5</text>
<text x="225.2" y="270.5" font-size="13.33" fill="#72225c">6R-42-3</text>
<text x="262.6" y="236.6" font-size="13.33" fill="#6c441c">Ne2-09-8</text>
<text x="349.7" y="287.3" font-size="13.33" fill="#6c441c">Remington</text>
<text x="428.4" y="189.9" font-size="13.33" fill="#7c3218">Ui-228</text>
<text x="464.4" y="223.8" font-size="13.33" fill="#7c3218">Sr7-3</text>
<text x="440.1" y="287.3" font-size="13.33" fill="#7c3218">Dehoro</text>
<text x="498.2" y="186.4" font-size="13.33" fill="#3f3f3f">Ui-911</text>
<text x="506.2" y="220.3" font-size="13.33" fill="#3f3f3f">Loreto</text>
<text x="528.4" y="280.3" font-size="13.33" fill="#3f3f3f">Midnight</text>
<text x="593.4" y="182.8" font-size="13.33" fill="#1c3f66">Oac Gryphon</text>
<text x="555.2" y="237.0" font-size="13.33" fill="#1c3f66">Cdc Whitecap</text>
<text x="632.6" y="255.7" font-size="13.33" fill="#1c3f66">Norstar</text>
<line x1="69.20" y1="168.60" x2="683.40" y2="168.60" stroke="#a0a0a0" stroke-width="1.4"/>
<line x1="683.40" y1="168.60" x2="683.40" y2="291.20" stroke="#707070" stroke-width="1.3"/>
<line x1="69.20" y1="168.10" x2="69.20" y2="291.80" stroke="#333" stroke-width="1.6"/>
<line x1="68.50" y1="291.20" x2="683.90" y2="291.20" stroke="#1a1a1a" stroke-width="1.4"/>
<line x1="64.8" y1="320.75" x2="69.20" y2="320.75" stroke="#333" stroke-width="1.4"/>
<text x="61.3" y="326.0" font-size="14.7" fill="#1a1a1a" text-anchor="end">9</text>
<line x1="64.8" y1="343.60" x2="69.20" y2="343.60" stroke="#333" stroke-width="1.4"/>
<text x="61.3" y="348.9" font-size="14.7" fill="#1a1a1a" text-anchor="end">8</text>
<line x1="64.8" y1="366.45" x2="69.20" y2="366.45" stroke="#333" stroke-width="1.4"/>
<text x="61.3" y="371.7" font-size="14.7" fill="#1a1a1a" text-anchor="end">7</text>
<line x1="64.8" y1="389.30" x2="69.20" y2="389.30" stroke="#333" stroke-width="1.4"/>
<text x="61.3" y="394.6" font-size="14.7" fill="#1a1a1a" text-anchor="end">6</text>
<line x1="64.8" y1="412.15" x2="69.20" y2="412.15" stroke="#333" stroke-width="1.4"/>
<text x="61.3" y="417.4" font-size="14.7" fill="#1a1a1a" text-anchor="end">5</text>
<line x1="64.8" y1="435.00" x2="69.20" y2="435.00" stroke="#333" stroke-width="1.4"/>
<text x="61.3" y="440.3" font-size="14.7" fill="#1a1a1a" text-anchor="end">4</text>
<text transform="translate(24.9,374.1) rotate(-90)" font-size="17" text-anchor="middle" fill="#1a1a1a"><tspan font-style="italic">Faecalibacterium</tspan></text>
<text transform="translate(40.3,374.1) rotate(-90)" font-size="17" text-anchor="middle" fill="#1a1a1a">log<tspan font-size="12.75" dy="4">2</tspan><tspan dy="-4">(Abundance)</tspan></text>
<g>
<line x1="70.1" y1="384.6" x2="167.8" y2="384.6" stroke="#dce846" stroke-width="1.3"/>
<path d="M70.1,338.4 L72.2,346.1 L74.3,352.5 L76.5,356.7 L78.6,361.2 L80.7,366.1 L82.8,368.3 L85.0,369.4 L87.1,370.4 L89.2,371.4 L91.3,372.2 L93.5,373.0 L95.6,373.8 L97.7,374.6 L99.8,375.4 L102.0,376.2 L104.1,377.0 L106.2,377.8 L108.3,378.8 L110.5,379.8 L112.6,380.8 L114.7,381.9 L116.8,382.8 L119.0,383.7 L121.1,384.6 L123.2,385.3 L125.3,386.1 L127.4,386.8 L129.6,387.5 L131.7,388.3 L133.8,389.2 L135.9,390.2 L138.1,391.3 L140.2,392.3 L142.3,393.4 L144.4,394.4 L146.6,395.8 L148.7,397.1 L150.8,398.4 L152.9,399.8 L155.1,402.5 L157.2,406.3 L159.3,409.8 L161.4,413.0 L163.6,416.4 L165.7,421.2 L167.8,429.9" fill="none" stroke="#dce846" stroke-width="1.3"/>
<g fill="#dce846"><circle cx="70.1" cy="338.4" r="2.85"/><circle cx="72.2" cy="346.1" r="2.85"/><circle cx="74.3" cy="352.5" r="2.85"/><circle cx="76.5" cy="356.7" r="2.85"/><circle cx="78.6" cy="361.2" r="2.85"/><circle cx="80.7" cy="366.1" r="2.85"/><circle cx="82.8" cy="368.3" r="2.85"/><circle cx="85.0" cy="369.4" r="2.85"/><circle cx="87.1" cy="370.4" r="2.85"/><circle cx="89.2" cy="371.4" r="2.85"/><circle cx="91.3" cy="372.2" r="2.85"/><circle cx="93.5" cy="373.0" r="2.85"/><circle cx="95.6" cy="373.8" r="2.85"/><circle cx="97.7" cy="374.6" r="2.85"/><circle cx="99.8" cy="375.4" r="2.85"/><circle cx="102.0" cy="376.2" r="2.85"/><circle cx="104.1" cy="377.0" r="2.85"/><circle cx="106.2" cy="377.8" r="2.85"/><circle cx="108.3" cy="378.8" r="2.85"/><circle cx="110.5" cy="379.8" r="2.85"/><circle cx="112.6" cy="380.8" r="2.85"/><circle cx="114.7" cy="381.9" r="2.85"/><circle cx="116.8" cy="382.8" r="2.85"/><circle cx="119.0" cy="383.7" r="2.85"/><circle cx="121.1" cy="384.6" r="2.85"/><circle cx="123.2" cy="385.3" r="2.85"/><circle cx="125.3" cy="386.1" r="2.85"/><circle cx="127.4" cy="386.8" r="2.85"/><circle cx="129.6" cy="387.5" r="2.85"/><circle cx="131.7" cy="388.3" r="2.85"/><circle cx="133.8" cy="389.2" r="2.85"/><circle cx="135.9" cy="390.2" r="2.85"/><circle cx="138.1" cy="391.3" r="2.85"/><circle cx="140.2" cy="392.3" r="2.85"/><circle cx="142.3" cy="393.4" r="2.85"/><circle cx="144.4" cy="394.4" r="2.85"/><circle cx="146.6" cy="395.8" r="2.85"/><circle cx="148.7" cy="397.1" r="2.85"/><circle cx="150.8" cy="398.4" r="2.85"/><circle cx="152.9" cy="399.8" r="2.85"/><circle cx="155.1" cy="402.5" r="2.85"/><circle cx="157.2" cy="406.3" r="2.85"/><circle cx="159.3" cy="409.8" r="2.85"/><circle cx="161.4" cy="413.0" r="2.85"/><circle cx="163.6" cy="416.4" r="2.85"/><circle cx="165.7" cy="421.2" r="2.85"/><circle cx="167.8" cy="429.9" r="2.85"/></g>
<g fill="#5e5e18"><circle cx="70.1" cy="338.4" r="2.6"/><circle cx="167.8" cy="429.9" r="2.6"/><circle cx="121.1" cy="384.6" r="2.6"/></g>
<line x1="169.6" y1="353.7" x2="218.5" y2="353.7" stroke="#c96eb0" stroke-width="1.3"/>
<path d="M169.6,319.2 L171.7,325.7 L173.8,331.8 L176.0,335.3 L178.1,338.0 L180.2,339.8 L182.3,341.5 L184.4,343.2 L186.5,344.6 L188.7,346.1 L190.8,347.5 L192.9,348.9 L195.0,350.3 L197.1,351.7 L199.2,353.1 L201.4,355.3 L203.5,357.6 L205.6,363.1 L207.7,366.3 L209.8,367.8 L211.9,370.3 L214.1,373.9 L216.2,381.8 L218.3,424.3" fill="none" stroke="#c96eb0" stroke-width="1.3"/>
<g fill="#c96eb0"><circle cx="169.6" cy="319.2" r="2.85"/><circle cx="171.7" cy="325.7" r="2.85"/><circle cx="173.8" cy="331.8" r="2.85"/><circle cx="176.0" cy="335.3" r="2.85"/><circle cx="178.1" cy="338.0" r="2.85"/><circle cx="180.2" cy="339.8" r="2.85"/><circle cx="182.3" cy="341.5" r="2.85"/><circle cx="184.4" cy="343.2" r="2.85"/><circle cx="186.5" cy="344.6" r="2.85"/><circle cx="188.7" cy="346.1" r="2.85"/><circle cx="190.8" cy="347.5" r="2.85"/><circle cx="192.9" cy="348.9" r="2.85"/><circle cx="195.0" cy="350.3" r="2.85"/><circle cx="197.1" cy="351.7" r="2.85"/><circle cx="199.2" cy="353.1" r="2.85"/><circle cx="201.4" cy="355.3" r="2.85"/><circle cx="203.5" cy="357.6" r="2.85"/><circle cx="205.6" cy="363.1" r="2.85"/><circle cx="207.7" cy="366.3" r="2.85"/><circle cx="209.8" cy="367.8" r="2.85"/><circle cx="211.9" cy="370.3" r="2.85"/><circle cx="214.1" cy="373.9" r="2.85"/><circle cx="216.2" cy="381.8" r="2.85"/><circle cx="218.3" cy="424.3" r="2.85"/></g>
<g fill="#64184f"><circle cx="169.6" cy="319.2" r="2.6"/><circle cx="218.3" cy="424.3" r="2.6"/><circle cx="199.3" cy="353.1" r="2.6"/></g>
<line x1="220.5" y1="363.1" x2="419.6" y2="363.1" stroke="#c9853c" stroke-width="1.3"/>
<path d="M220.5,318.5 L222.6,332.0 L224.8,340.9 L226.9,341.4 L229.1,341.9 L231.2,342.5 L233.3,343.0 L235.5,343.6 L237.6,344.3 L239.8,344.9 L241.9,345.6 L244.0,346.2 L246.2,346.9 L248.3,347.5 L250.5,348.1 L252.6,348.8 L254.8,349.4 L256.9,350.0 L259.0,350.4 L261.2,350.8 L263.3,351.1 L265.5,351.5 L267.6,351.9 L269.7,352.2 L271.9,352.7 L274.0,353.2 L276.2,353.8 L278.3,354.3 L280.4,354.8 L282.6,355.4 L284.7,355.9 L286.9,356.3 L289.0,356.6 L291.1,357.0 L293.3,357.3 L295.4,357.7 L297.6,358.0 L299.7,358.4 L301.9,358.7 L304.0,359.1 L306.1,359.5 L308.3,359.8 L310.4,360.2 L312.6,360.6 L314.7,360.9 L316.8,361.2 L319.0,361.5 L321.1,361.8 L323.3,362.1 L325.4,362.4 L327.5,362.7 L329.7,363.2 L331.8,363.8 L334.0,364.4 L336.1,365.0 L338.2,365.7 L340.4,366.3 L342.5,366.8 L344.7,367.4 L346.8,367.9 L349.0,368.4 L351.1,369.0 L353.2,369.5 L355.4,370.0 L357.5,370.2 L359.7,370.5 L361.8,370.9 L363.9,371.3 L366.1,371.8 L368.2,372.2 L370.4,372.6 L372.5,373.1 L374.6,373.6 L376.8,374.1 L378.9,374.6 L381.1,375.2 L383.2,375.7 L385.3,376.2 L387.5,376.8 L389.6,377.4 L391.8,378.0 L393.9,378.7 L396.1,379.3 L398.2,379.9 L400.3,380.7 L402.5,381.8 L404.6,382.9 L406.8,384.0 L408.9,389.3 L411.0,391.3 L413.2,392.9 L415.3,394.4 L417.5,396.2 L419.6,401.4" fill="none" stroke="#c9853c" stroke-width="1.3"/>
<g fill="#c9853c"><circle cx="220.5" cy="318.5" r="2.85"/><circle cx="222.6" cy="332.0" r="2.85"/><circle cx="224.8" cy="340.9" r="2.85"/><circle cx="226.9" cy="341.4" r="2.85"/><circle cx="229.1" cy="341.9" r="2.85"/><circle cx="231.2" cy="342.5" r="2.85"/><circle cx="233.3" cy="343.0" r="2.85"/><circle cx="235.5" cy="343.6" r="2.85"/><circle cx="237.6" cy="344.3" r="2.85"/><circle cx="239.8" cy="344.9" r="2.85"/><circle cx="241.9" cy="345.6" r="2.85"/><circle cx="244.0" cy="346.2" r="2.85"/><circle cx="246.2" cy="346.9" r="2.85"/><circle cx="248.3" cy="347.5" r="2.85"/><circle cx="250.5" cy="348.1" r="2.85"/><circle cx="252.6" cy="348.8" r="2.85"/><circle cx="254.8" cy="349.4" r="2.85"/><circle cx="256.9" cy="350.0" r="2.85"/><circle cx="259.0" cy="350.4" r="2.85"/><circle cx="261.2" cy="350.8" r="2.85"/><circle cx="263.3" cy="351.1" r="2.85"/><circle cx="265.5" cy="351.5" r="2.85"/><circle cx="267.6" cy="351.9" r="2.85"/><circle cx="269.7" cy="352.2" r="2.85"/><circle cx="271.9" cy="352.7" r="2.85"/><circle cx="274.0" cy="353.2" r="2.85"/><circle cx="276.2" cy="353.8" r="2.85"/><circle cx="278.3" cy="354.3" r="2.85"/><circle cx="280.4" cy="354.8" r="2.85"/><circle cx="282.6" cy="355.4" r="2.85"/><circle cx="284.7" cy="355.9" r="2.85"/><circle cx="286.9" cy="356.3" r="2.85"/><circle cx="289.0" cy="356.6" r="2.85"/><circle cx="291.1" cy="357.0" r="2.85"/><circle cx="293.3" cy="357.3" r="2.85"/><circle cx="295.4" cy="357.7" r="2.85"/><circle cx="297.6" cy="358.0" r="2.85"/><circle cx="299.7" cy="358.4" r="2.85"/><circle cx="301.9" cy="358.7" r="2.85"/><circle cx="304.0" cy="359.1" r="2.85"/><circle cx="306.1" cy="359.5" r="2.85"/><circle cx="308.3" cy="359.8" r="2.85"/><circle cx="310.4" cy="360.2" r="2.85"/><circle cx="312.6" cy="360.6" r="2.85"/><circle cx="314.7" cy="360.9" r="2.85"/><circle cx="316.8" cy="361.2" r="2.85"/><circle cx="319.0" cy="361.5" r="2.85"/><circle cx="321.1" cy="361.8" r="2.85"/><circle cx="323.3" cy="362.1" r="2.85"/><circle cx="325.4" cy="362.4" r="2.85"/><circle cx="327.5" cy="362.7" r="2.85"/><circle cx="329.7" cy="363.2" r="2.85"/><circle cx="331.8" cy="363.8" r="2.85"/><circle cx="334.0" cy="364.4" r="2.85"/><circle cx="336.1" cy="365.0" r="2.85"/><circle cx="338.2" cy="365.7" r="2.85"/><circle cx="340.4" cy="366.3" r="2.85"/><circle cx="342.5" cy="366.8" r="2.85"/><circle cx="344.7" cy="367.4" r="2.85"/><circle cx="346.8" cy="367.9" r="2.85"/><circle cx="349.0" cy="368.4" r="2.85"/><circle cx="351.1" cy="369.0" r="2.85"/><circle cx="353.2" cy="369.5" r="2.85"/><circle cx="355.4" cy="370.0" r="2.85"/><circle cx="357.5" cy="370.2" r="2.85"/><circle cx="359.7" cy="370.5" r="2.85"/><circle cx="361.8" cy="370.9" r="2.85"/><circle cx="363.9" cy="371.3" r="2.85"/><circle cx="366.1" cy="371.8" r="2.85"/><circle cx="368.2" cy="372.2" r="2.85"/><circle cx="370.4" cy="372.6" r="2.85"/><circle cx="372.5" cy="373.1" r="2.85"/><circle cx="374.6" cy="373.6" r="2.85"/><circle cx="376.8" cy="374.1" r="2.85"/><circle cx="378.9" cy="374.6" r="2.85"/><circle cx="381.1" cy="375.2" r="2.85"/><circle cx="383.2" cy="375.7" r="2.85"/><circle cx="385.3" cy="376.2" r="2.85"/><circle cx="387.5" cy="376.8" r="2.85"/><circle cx="389.6" cy="377.4" r="2.85"/><circle cx="391.8" cy="378.0" r="2.85"/><circle cx="393.9" cy="378.7" r="2.85"/><circle cx="396.1" cy="379.3" r="2.85"/><circle cx="398.2" cy="379.9" r="2.85"/><circle cx="400.3" cy="380.7" r="2.85"/><circle cx="402.5" cy="381.8" r="2.85"/><circle cx="404.6" cy="382.9" r="2.85"/><circle cx="406.8" cy="384.0" r="2.85"/><circle cx="408.9" cy="389.3" r="2.85"/><circle cx="411.0" cy="391.3" r="2.85"/><circle cx="413.2" cy="392.9" r="2.85"/><circle cx="415.3" cy="394.4" r="2.85"/><circle cx="417.5" cy="396.2" r="2.85"/><circle cx="419.6" cy="401.4" r="2.85"/></g>
<g fill="#52300e"><circle cx="220.5" cy="318.5" r="2.6"/><circle cx="419.6" cy="401.4" r="2.6"/><circle cx="328.7" cy="362.9" r="2.6"/></g>
<line x1="421.4" y1="355.2" x2="489.2" y2="355.2" stroke="#d7641e" stroke-width="1.3"/>
<path d="M421.4,318.5 L423.5,324.7 L425.6,336.4 L427.8,340.0 L429.9,342.2 L432.0,342.8 L434.1,343.4 L436.2,344.0 L438.3,344.8 L440.5,345.9 L442.6,346.9 L444.7,347.9 L446.8,348.5 L448.9,349.1 L451.1,349.7 L453.2,350.8 L455.3,352.7 L457.4,354.5 L459.5,355.6 L461.7,356.6 L463.8,357.6 L465.9,358.9 L468.0,360.7 L470.1,362.4 L472.2,364.2 L474.4,366.0 L476.5,367.7 L478.6,369.5 L480.7,373.8 L482.8,379.8 L485.0,383.9 L487.1,386.0 L489.2,388.1" fill="none" stroke="#d7641e" stroke-width="1.3"/>
<g fill="#d7641e"><circle cx="421.4" cy="318.5" r="2.85"/><circle cx="423.5" cy="324.7" r="2.85"/><circle cx="425.6" cy="336.4" r="2.85"/><circle cx="427.8" cy="340.0" r="2.85"/><circle cx="429.9" cy="342.2" r="2.85"/><circle cx="432.0" cy="342.8" r="2.85"/><circle cx="434.1" cy="343.4" r="2.85"/><circle cx="436.2" cy="344.0" r="2.85"/><circle cx="438.3" cy="344.8" r="2.85"/><circle cx="440.5" cy="345.9" r="2.85"/><circle cx="442.6" cy="346.9" r="2.85"/><circle cx="444.7" cy="347.9" r="2.85"/><circle cx="446.8" cy="348.5" r="2.85"/><circle cx="448.9" cy="349.1" r="2.85"/><circle cx="451.1" cy="349.7" r="2.85"/><circle cx="453.2" cy="350.8" r="2.85"/><circle cx="455.3" cy="352.7" r="2.85"/><circle cx="457.4" cy="354.5" r="2.85"/><circle cx="459.5" cy="355.6" r="2.85"/><circle cx="461.7" cy="356.6" r="2.85"/><circle cx="463.8" cy="357.6" r="2.85"/><circle cx="465.9" cy="358.9" r="2.85"/><circle cx="468.0" cy="360.7" r="2.85"/><circle cx="470.1" cy="362.4" r="2.85"/><circle cx="472.2" cy="364.2" r="2.85"/><circle cx="474.4" cy="366.0" r="2.85"/><circle cx="476.5" cy="367.7" r="2.85"/><circle cx="478.6" cy="369.5" r="2.85"/><circle cx="480.7" cy="373.8" r="2.85"/><circle cx="482.8" cy="379.8" r="2.85"/><circle cx="485.0" cy="383.9" r="2.85"/><circle cx="487.1" cy="386.0" r="2.85"/><circle cx="489.2" cy="388.1" r="2.85"/></g>
<g fill="#66250a"><circle cx="421.4" cy="318.5" r="2.6"/><circle cx="489.2" cy="388.1" r="2.6"/><circle cx="457.6" cy="354.7" r="2.6"/></g>
<line x1="491.7" y1="368.2" x2="584.6" y2="368.2" stroke="#9c9c9c" stroke-width="1.3"/>
<path d="M491.7,327.9 L493.8,330.0 L495.9,332.0 L498.0,333.6 L500.1,335.0 L502.3,336.4 L504.4,338.3 L506.5,340.8 L508.6,343.3 L510.7,348.0 L512.8,355.3 L514.9,356.2 L517.0,357.1 L519.1,358.0 L521.3,359.2 L523.4,360.5 L525.5,361.8 L527.6,363.2 L529.7,364.5 L531.8,365.9 L533.9,367.3 L536.0,368.7 L538.1,369.5 L540.3,370.3 L542.4,371.1 L544.5,371.9 L546.6,372.8 L548.7,373.9 L550.8,374.9 L552.9,376.0 L555.0,377.1 L557.2,378.4 L559.3,379.7 L561.4,381.0 L563.5,382.3 L565.6,383.7 L567.7,385.0 L569.8,386.3 L571.9,387.7 L574.0,389.4 L576.2,392.0 L578.3,394.6 L580.4,396.7 L582.5,398.8 L584.6,414.8" fill="none" stroke="#9c9c9c" stroke-width="1.3"/>
<g fill="#9c9c9c"><circle cx="491.7" cy="327.9" r="2.85"/><circle cx="493.8" cy="330.0" r="2.85"/><circle cx="495.9" cy="332.0" r="2.85"/><circle cx="498.0" cy="333.6" r="2.85"/><circle cx="500.1" cy="335.0" r="2.85"/><circle cx="502.3" cy="336.4" r="2.85"/><circle cx="504.4" cy="338.3" r="2.85"/><circle cx="506.5" cy="340.8" r="2.85"/><circle cx="508.6" cy="343.3" r="2.85"/><circle cx="510.7" cy="348.0" r="2.85"/><circle cx="512.8" cy="355.3" r="2.85"/><circle cx="514.9" cy="356.2" r="2.85"/><circle cx="517.0" cy="357.1" r="2.85"/><circle cx="519.1" cy="358.0" r="2.85"/><circle cx="521.3" cy="359.2" r="2.85"/><circle cx="523.4" cy="360.5" r="2.85"/><circle cx="525.5" cy="361.8" r="2.85"/><circle cx="527.6" cy="363.2" r="2.85"/><circle cx="529.7" cy="364.5" r="2.85"/><circle cx="531.8" cy="365.9" r="2.85"/><circle cx="533.9" cy="367.3" r="2.85"/><circle cx="536.0" cy="368.7" r="2.85"/><circle cx="538.1" cy="369.5" r="2.85"/><circle cx="540.3" cy="370.3" r="2.85"/><circle cx="542.4" cy="371.1" r="2.85"/><circle cx="544.5" cy="371.9" r="2.85"/><circle cx="546.6" cy="372.8" r="2.85"/><circle cx="548.7" cy="373.9" r="2.85"/><circle cx="550.8" cy="374.9" r="2.85"/><circle cx="552.9" cy="376.0" r="2.85"/><circle cx="555.0" cy="377.1" r="2.85"/><circle cx="557.2" cy="378.4" r="2.85"/><circle cx="559.3" cy="379.7" r="2.85"/><circle cx="561.4" cy="381.0" r="2.85"/><circle cx="563.5" cy="382.3" r="2.85"/><circle cx="565.6" cy="383.7" r="2.85"/><circle cx="567.7" cy="385.0" r="2.85"/><circle cx="569.8" cy="386.3" r="2.85"/><circle cx="571.9" cy="387.7" r="2.85"/><circle cx="574.0" cy="389.4" r="2.85"/><circle cx="576.2" cy="392.0" r="2.85"/><circle cx="578.3" cy="394.6" r="2.85"/><circle cx="580.4" cy="396.7" r="2.85"/><circle cx="582.5" cy="398.8" r="2.85"/><circle cx="584.6" cy="414.8" r="2.85"/></g>
<g fill="#3a3a3a"><circle cx="491.7" cy="327.9" r="2.6"/><circle cx="584.6" cy="414.8" r="2.6"/><circle cx="536.1" cy="368.7" r="2.6"/></g>
<line x1="587.0" y1="389.0" x2="681.9" y2="389.0" stroke="#387eb9" stroke-width="1.3"/>
<path d="M587.0,348.8 L589.1,355.5 L591.3,362.4 L593.4,370.2 L595.6,371.1 L597.7,371.9 L599.9,372.7 L602.0,374.4 L604.2,376.1 L606.3,378.2 L608.5,380.8 L610.6,382.4 L612.7,383.3 L614.9,384.2 L617.0,385.0 L619.2,385.8 L621.3,386.4 L623.5,387.0 L625.6,387.6 L627.8,388.2 L629.9,388.8 L632.1,389.4 L634.2,390.1 L636.3,390.9 L638.5,391.6 L640.6,392.4 L642.8,393.2 L644.9,394.0 L647.1,394.9 L649.2,395.7 L651.4,396.5 L653.5,397.1 L655.7,397.6 L657.8,398.1 L659.9,398.6 L662.1,399.2 L664.2,400.4 L666.4,401.7 L668.5,403.0 L670.7,404.3 L672.8,406.2 L675.0,408.4 L677.1,410.7 L679.3,414.0 L681.4,422.1" fill="none" stroke="#387eb9" stroke-width="1.3"/>
<g fill="#387eb9"><circle cx="587.0" cy="348.8" r="2.85"/><circle cx="589.1" cy="355.5" r="2.85"/><circle cx="591.3" cy="362.4" r="2.85"/><circle cx="593.4" cy="370.2" r="2.85"/><circle cx="595.6" cy="371.1" r="2.85"/><circle cx="597.7" cy="371.9" r="2.85"/><circle cx="599.9" cy="372.7" r="2.85"/><circle cx="602.0" cy="374.4" r="2.85"/><circle cx="604.2" cy="376.1" r="2.85"/><circle cx="606.3" cy="378.2" r="2.85"/><circle cx="608.5" cy="380.8" r="2.85"/><circle cx="610.6" cy="382.4" r="2.85"/><circle cx="612.7" cy="383.3" r="2.85"/><circle cx="614.9" cy="384.2" r="2.85"/><circle cx="617.0" cy="385.0" r="2.85"/><circle cx="619.2" cy="385.8" r="2.85"/><circle cx="621.3" cy="386.4" r="2.85"/><circle cx="623.5" cy="387.0" r="2.85"/><circle cx="625.6" cy="387.6" r="2.85"/><circle cx="627.8" cy="388.2" r="2.85"/><circle cx="629.9" cy="388.8" r="2.85"/><circle cx="632.1" cy="389.4" r="2.85"/><circle cx="634.2" cy="390.1" r="2.85"/><circle cx="636.3" cy="390.9" r="2.85"/><circle cx="638.5" cy="391.6" r="2.85"/><circle cx="640.6" cy="392.4" r="2.85"/><circle cx="642.8" cy="393.2" r="2.85"/><circle cx="644.9" cy="394.0" r="2.85"/><circle cx="647.1" cy="394.9" r="2.85"/><circle cx="649.2" cy="395.7" r="2.85"/><circle cx="651.4" cy="396.5" r="2.85"/><circle cx="653.5" cy="397.1" r="2.85"/><circle cx="655.7" cy="397.6" r="2.85"/><circle cx="657.8" cy="398.1" r="2.85"/><circle cx="659.9" cy="398.6" r="2.85"/><circle cx="662.1" cy="399.2" r="2.85"/><circle cx="664.2" cy="400.4" r="2.85"/><circle cx="666.4" cy="401.7" r="2.85"/><circle cx="668.5" cy="403.0" r="2.85"/><circle cx="670.7" cy="404.3" r="2.85"/><circle cx="672.8" cy="406.2" r="2.85"/><circle cx="675.0" cy="408.4" r="2.85"/><circle cx="677.1" cy="410.7" r="2.85"/><circle cx="679.3" cy="414.0" r="2.85"/><circle cx="681.4" cy="422.1" r="2.85"/></g>
<g fill="#18324f"><circle cx="587.0" cy="348.8" r="2.6"/><circle cx="681.4" cy="422.1" r="2.6"/><circle cx="631.5" cy="389.2" r="2.6"/></g>
</g>
<text x="124.1" y="329.4" font-size="13.33" fill="#72225c">Yolano</text>
<text x="77.1" y="337.6" font-size="13.33" fill="#6f6f1f">Jm-24</text>
<text x="73.9" y="398.3" font-size="13.33" fill="#6f6f1f">BelMiNeb-1</text>
<text x="106.6" y="427.5" font-size="13.33" fill="#6f6f1f">Sawtooth</text>
<text x="205.2" y="351.6" font-size="13.33" fill="#72225c">S08418</text>
<text x="225.2" y="422.9" font-size="13.33" fill="#72225c">6R-42-3</text>
<text x="227.1" y="331.8" font-size="13.33" fill="#6c441c">Ne2-09-10-1</text>
<text x="335.0" y="361.0" font-size="13.33" fill="#6c441c">Durango</text>
<text x="349.5" y="413.5" font-size="13.33" fill="#6c441c">Remington</text>
<text x="376.4" y="328.3" font-size="13.33" fill="#7c3218">Ui-228</text>
<text x="464.4" y="354.7" font-size="13.33" fill="#7c3218">Sr7-3</text>
<text x="485.6" y="382.9" font-size="13.33" fill="#7c3218">F07-014-22-2</text>
<text x="498.2" y="336.4" font-size="13.33" fill="#3f3f3f">Cornell-49-242</text>
<text x="537.2" y="363.8" font-size="13.33" fill="#3f3f3f">F04-2801-4-5-1</text>
<text x="506.4" y="428.0" font-size="13.33" fill="#3f3f3f">Black Velvet</text>
<text x="610.7" y="345.8" font-size="13.33" fill="#1c3f66">Mackinac</text>
<text x="575.6" y="400.6" font-size="13.33" fill="#1c3f66">Medalist</text>
<text x="600.6" y="430.8" font-size="13.33" fill="#1c3f66">Ac Compass</text>
<line x1="69.20" y1="312.80" x2="683.40" y2="312.80" stroke="#a0a0a0" stroke-width="1.4"/>
<line x1="683.40" y1="312.80" x2="683.40" y2="435.40" stroke="#707070" stroke-width="1.3"/>
<line x1="69.20" y1="312.30" x2="69.20" y2="436.00" stroke="#333" stroke-width="1.6"/>
<line x1="68.50" y1="435.40" x2="683.90" y2="435.40" stroke="#1a1a1a" stroke-width="1.4"/>
<line x1="64.8" y1="487.00" x2="69.20" y2="487.00" stroke="#333" stroke-width="1.4"/>
<text x="61.3" y="492.3" font-size="14.7" fill="#1a1a1a" text-anchor="end">11</text>
<line x1="64.8" y1="517.10" x2="69.20" y2="517.10" stroke="#333" stroke-width="1.4"/>
<text x="61.3" y="522.4" font-size="14.7" fill="#1a1a1a" text-anchor="end">9</text>
<line x1="64.8" y1="547.20" x2="69.20" y2="547.20" stroke="#333" stroke-width="1.4"/>
<text x="61.3" y="552.5" font-size="14.7" fill="#1a1a1a" text-anchor="end">7</text>
<line x1="64.8" y1="577.30" x2="69.20" y2="577.30" stroke="#333" stroke-width="1.4"/>
<text x="61.3" y="582.6" font-size="14.7" fill="#1a1a1a" text-anchor="end">5</text>
<text transform="translate(18.4,518.4) rotate(-90)" font-size="17" text-anchor="middle" fill="#1a1a1a"><tspan font-style="italic">Prevotella</tspan> 9</text>
<text transform="translate(33.8,518.4) rotate(-90)" font-size="17" text-anchor="middle" fill="#1a1a1a">log<tspan font-size="12.75" dy="4">2</tspan><tspan dy="-4">(Abundance)</tspan></text>
<g>
<line x1="70.1" y1="524.4" x2="167.8" y2="524.4" stroke="#dce846" stroke-width="1.3"/>
<path d="M70.1,493.6 L72.2,502.5 L74.3,504.6 L76.5,505.4 L78.6,506.2 L80.7,507.0 L82.8,507.8 L85.0,508.4 L87.1,508.9 L89.2,509.5 L91.3,510.0 L93.5,510.6 L95.6,511.7 L97.7,512.8 L99.8,513.8 L102.0,517.7 L104.1,524.0 L106.2,524.7 L108.3,525.1 L110.5,525.4 L112.6,525.6 L114.7,525.8 L116.8,525.9 L119.0,526.0 L121.1,526.1 L123.2,526.2 L125.3,526.3 L127.4,526.3 L129.6,526.4 L131.7,526.5 L133.8,526.5 L135.9,526.6 L138.1,526.7 L140.2,526.7 L142.3,526.8 L144.4,526.9 L146.6,526.9 L148.7,527.0 L150.8,527.1 L152.9,527.2 L155.1,528.0 L157.2,529.5 L159.3,562.4 L161.4,563.3 L163.6,564.3 L165.7,566.0 L167.8,573.9" fill="none" stroke="#dce846" stroke-width="1.3"/>
<g fill="#dce846"><circle cx="70.1" cy="493.6" r="2.85"/><circle cx="72.2" cy="502.5" r="2.85"/><circle cx="74.3" cy="504.6" r="2.85"/><circle cx="76.5" cy="505.4" r="2.85"/><circle cx="78.6" cy="506.2" r="2.85"/><circle cx="80.7" cy="507.0" r="2.85"/><circle cx="82.8" cy="507.8" r="2.85"/><circle cx="85.0" cy="508.4" r="2.85"/><circle cx="87.1" cy="508.9" r="2.85"/><circle cx="89.2" cy="509.5" r="2.85"/><circle cx="91.3" cy="510.0" r="2.85"/><circle cx="93.5" cy="510.6" r="2.85"/><circle cx="95.6" cy="511.7" r="2.85"/><circle cx="97.7" cy="512.8" r="2.85"/><circle cx="99.8" cy="513.8" r="2.85"/><circle cx="102.0" cy="517.7" r="2.85"/><circle cx="104.1" cy="524.0" r="2.85"/><circle cx="106.2" cy="524.7" r="2.85"/><circle cx="108.3" cy="525.1" r="2.85"/><circle cx="110.5" cy="525.4" r="2.85"/><circle cx="112.6" cy="525.6" r="2.85"/><circle cx="114.7" cy="525.8" r="2.85"/><circle cx="116.8" cy="525.9" r="2.85"/><circle cx="119.0" cy="526.0" r="2.85"/><circle cx="121.1" cy="526.1" r="2.85"/><circle cx="123.2" cy="526.2" r="2.85"/><circle cx="125.3" cy="526.3" r="2.85"/><circle cx="127.4" cy="526.3" r="2.85"/><circle cx="129.6" cy="526.4" r="2.85"/><circle cx="131.7" cy="526.5" r="2.85"/><circle cx="133.8" cy="526.5" r="2.85"/><circle cx="135.9" cy="526.6" r="2.85"/><circle cx="138.1" cy="526.7" r="2.85"/><circle cx="140.2" cy="526.7" r="2.85"/><circle cx="142.3" cy="526.8" r="2.85"/><circle cx="144.4" cy="526.9" r="2.85"/><circle cx="146.6" cy="526.9" r="2.85"/><circle cx="148.7" cy="527.0" r="2.85"/><circle cx="150.8" cy="527.1" r="2.85"/><circle cx="152.9" cy="527.2" r="2.85"/><circle cx="155.1" cy="528.0" r="2.85"/><circle cx="157.2" cy="529.5" r="2.85"/><circle cx="159.3" cy="562.4" r="2.85"/><circle cx="161.4" cy="563.3" r="2.85"/><circle cx="163.6" cy="564.3" r="2.85"/><circle cx="165.7" cy="566.0" r="2.85"/><circle cx="167.8" cy="573.9" r="2.85"/></g>
<g fill="#5e5e18"><circle cx="70.1" cy="493.6" r="2.6"/><circle cx="167.8" cy="573.9" r="2.6"/><circle cx="104.2" cy="524.4" r="2.6"/></g>
<line x1="169.6" y1="526.7" x2="218.5" y2="526.7" stroke="#c96eb0" stroke-width="1.3"/>
<path d="M169.6,462.5 L171.7,504.8 L173.8,505.8 L176.0,506.4 L178.1,506.9 L180.2,518.6 L182.3,522.8 L184.4,523.6 L186.5,524.4 L188.7,524.7 L190.8,525.0 L192.9,525.2 L195.0,525.5 L197.1,526.2 L199.2,527.2 L201.4,528.3 L203.5,529.4 L205.6,530.6 L207.7,532.2 L209.8,534.5 L211.9,563.5 L214.1,564.5 L216.2,565.8 L218.3,568.1" fill="none" stroke="#c96eb0" stroke-width="1.3"/>
<g fill="#c96eb0"><circle cx="169.6" cy="462.5" r="2.85"/><circle cx="171.7" cy="504.8" r="2.85"/><circle cx="173.8" cy="505.8" r="2.85"/><circle cx="176.0" cy="506.4" r="2.85"/><circle cx="178.1" cy="506.9" r="2.85"/><circle cx="180.2" cy="518.6" r="2.85"/><circle cx="182.3" cy="522.8" r="2.85"/><circle cx="184.4" cy="523.6" r="2.85"/><circle cx="186.5" cy="524.4" r="2.85"/><circle cx="188.7" cy="524.7" r="2.85"/><circle cx="190.8" cy="525.0" r="2.85"/><circle cx="192.9" cy="525.2" r="2.85"/><circle cx="195.0" cy="525.5" r="2.85"/><circle cx="197.1" cy="526.2" r="2.85"/><circle cx="199.2" cy="527.2" r="2.85"/><circle cx="201.4" cy="528.3" r="2.85"/><circle cx="203.5" cy="529.4" r="2.85"/><circle cx="205.6" cy="530.6" r="2.85"/><circle cx="207.7" cy="532.2" r="2.85"/><circle cx="209.8" cy="534.5" r="2.85"/><circle cx="211.9" cy="563.5" r="2.85"/><circle cx="214.1" cy="564.5" r="2.85"/><circle cx="216.2" cy="565.8" r="2.85"/><circle cx="218.3" cy="568.1" r="2.85"/></g>
<g fill="#64184f"><circle cx="169.6" cy="462.5" r="2.6"/><circle cx="218.3" cy="568.1" r="2.6"/><circle cx="199.3" cy="527.2" r="2.6"/></g>
<line x1="220.5" y1="521.6" x2="419.6" y2="521.6" stroke="#c9853c" stroke-width="1.3"/>
<path d="M220.5,503.9 L222.6,504.3 L224.8,504.6 L226.9,505.0 L229.1,505.3 L231.2,505.4 L233.3,505.4 L235.5,505.5 L237.6,505.5 L239.8,505.6 L241.9,505.6 L244.0,505.7 L246.2,505.7 L248.3,505.8 L250.5,505.8 L252.6,505.9 L254.8,505.9 L256.9,506.0 L259.0,506.0 L261.2,506.1 L263.3,506.1 L265.5,506.2 L267.6,507.2 L269.7,508.6 L271.9,510.1 L274.0,511.8 L276.2,513.6 L278.3,516.2 L280.4,519.6 L282.6,523.9 L284.7,524.0 L286.9,524.1 L289.0,524.1 L291.1,524.2 L293.3,524.2 L295.4,524.3 L297.6,524.3 L299.7,524.3 L301.9,524.4 L304.0,524.4 L306.1,524.4 L308.3,524.5 L310.4,524.5 L312.6,524.6 L314.7,524.6 L316.8,524.6 L319.0,524.7 L321.1,524.7 L323.3,524.7 L325.4,524.8 L327.5,524.8 L329.7,524.8 L331.8,524.9 L334.0,524.9 L336.1,525.0 L338.2,525.0 L340.4,525.0 L342.5,525.1 L344.7,525.1 L346.8,525.1 L349.0,525.1 L351.1,525.2 L353.2,525.2 L355.4,525.2 L357.5,525.3 L359.7,525.3 L361.8,525.3 L363.9,525.4 L366.1,525.4 L368.2,525.4 L370.4,525.5 L372.5,525.5 L374.6,525.5 L376.8,525.6 L378.9,525.6 L381.1,525.7 L383.2,525.7 L385.3,525.7 L387.5,525.8 L389.6,525.8 L391.8,525.9 L393.9,525.9 L396.1,526.0 L398.2,526.7 L400.3,528.6 L402.5,531.5 L404.6,533.5 L406.8,534.9 L408.9,536.5 L411.0,540.1 L413.2,564.2 L415.3,564.5 L417.5,564.6 L419.6,564.6" fill="none" stroke="#c9853c" stroke-width="1.3"/>
<g fill="#c9853c"><circle cx="220.5" cy="503.9" r="2.85"/><circle cx="222.6" cy="504.3" r="2.85"/><circle cx="224.8" cy="504.6" r="2.85"/><circle cx="226.9" cy="505.0" r="2.85"/><circle cx="229.1" cy="505.3" r="2.85"/><circle cx="231.2" cy="505.4" r="2.85"/><circle cx="233.3" cy="505.4" r="2.85"/><circle cx="235.5" cy="505.5" r="2.85"/><circle cx="237.6" cy="505.5" r="2.85"/><circle cx="239.8" cy="505.6" r="2.85"/><circle cx="241.9" cy="505.6" r="2.85"/><circle cx="244.0" cy="505.7" r="2.85"/><circle cx="246.2" cy="505.7" r="2.85"/><circle cx="248.3" cy="505.8" r="2.85"/><circle cx="250.5" cy="505.8" r="2.85"/><circle cx="252.6" cy="505.9" r="2.85"/><circle cx="254.8" cy="505.9" r="2.85"/><circle cx="256.9" cy="506.0" r="2.85"/><circle cx="259.0" cy="506.0" r="2.85"/><circle cx="261.2" cy="506.1" r="2.85"/><circle cx="263.3" cy="506.1" r="2.85"/><circle cx="265.5" cy="506.2" r="2.85"/><circle cx="267.6" cy="507.2" r="2.85"/><circle cx="269.7" cy="508.6" r="2.85"/><circle cx="271.9" cy="510.1" r="2.85"/><circle cx="274.0" cy="511.8" r="2.85"/><circle cx="276.2" cy="513.6" r="2.85"/><circle cx="278.3" cy="516.2" r="2.85"/><circle cx="280.4" cy="519.6" r="2.85"/><circle cx="282.6" cy="523.9" r="2.85"/><circle cx="284.7" cy="524.0" r="2.85"/><circle cx="286.9" cy="524.1" r="2.85"/><circle cx="289.0" cy="524.1" r="2.85"/><circle cx="291.1" cy="524.2" r="2.85"/><circle cx="293.3" cy="524.2" r="2.85"/><circle cx="295.4" cy="524.3" r="2.85"/><circle cx="297.6" cy="524.3" r="2.85"/><circle cx="299.7" cy="524.3" r="2.85"/><circle cx="301.9" cy="524.4" r="2.85"/><circle cx="304.0" cy="524.4" r="2.85"/><circle cx="306.1" cy="524.4" r="2.85"/><circle cx="308.3" cy="524.5" r="2.85"/><circle cx="310.4" cy="524.5" r="2.85"/><circle cx="312.6" cy="524.6" r="2.85"/><circle cx="314.7" cy="524.6" r="2.85"/><circle cx="316.8" cy="524.6" r="2.85"/><circle cx="319.0" cy="524.7" r="2.85"/><circle cx="321.1" cy="524.7" r="2.85"/><circle cx="323.3" cy="524.7" r="2.85"/><circle cx="325.4" cy="524.8" r="2.85"/><circle cx="327.5" cy="524.8" r="2.85"/><circle cx="329.7" cy="524.8" r="2.85"/><circle cx="331.8" cy="524.9" r="2.85"/><circle cx="334.0" cy="524.9" r="2.85"/><circle cx="336.1" cy="525.0" r="2.85"/><circle cx="338.2" cy="525.0" r="2.85"/><circle cx="340.4" cy="525.0" r="2.85"/><circle cx="342.5" cy="525.1" r="2.85"/><circle cx="344.7" cy="525.1" r="2.85"/><circle cx="346.8" cy="525.1" r="2.85"/><circle cx="349.0" cy="525.1" r="2.85"/><circle cx="351.1" cy="525.2" r="2.85"/><circle cx="353.2" cy="525.2" r="2.85"/><circle cx="355.4" cy="525.2" r="2.85"/><circle cx="357.5" cy="525.3" r="2.85"/><circle cx="359.7" cy="525.3" r="2.85"/><circle cx="361.8" cy="525.3" r="2.85"/><circle cx="363.9" cy="525.4" r="2.85"/><circle cx="366.1" cy="525.4" r="2.85"/><circle cx="368.2" cy="525.4" r="2.85"/><circle cx="370.4" cy="525.5" r="2.85"/><circle cx="372.5" cy="525.5" r="2.85"/><circle cx="374.6" cy="525.5" r="2.85"/><circle cx="376.8" cy="525.6" r="2.85"/><circle cx="378.9" cy="525.6" r="2.85"/><circle cx="381.1" cy="525.7" r="2.85"/><circle cx="383.2" cy="525.7" r="2.85"/><circle cx="385.3" cy="525.7" r="2.85"/><circle cx="387.5" cy="525.8" r="2.85"/><circle cx="389.6" cy="525.8" r="2.85"/><circle cx="391.8" cy="525.9" r="2.85"/><circle cx="393.9" cy="525.9" r="2.85"/><circle cx="396.1" cy="526.0" r="2.85"/><circle cx="398.2" cy="526.7" r="2.85"/><circle cx="400.3" cy="528.6" r="2.85"/><circle cx="402.5" cy="531.5" r="2.85"/><circle cx="404.6" cy="533.5" r="2.85"/><circle cx="406.8" cy="534.9" r="2.85"/><circle cx="408.9" cy="536.5" r="2.85"/><circle cx="411.0" cy="540.1" r="2.85"/><circle cx="413.2" cy="564.2" r="2.85"/><circle cx="415.3" cy="564.5" r="2.85"/><circle cx="417.5" cy="564.6" r="2.85"/><circle cx="419.6" cy="564.6" r="2.85"/></g>
<g fill="#52300e"><circle cx="220.5" cy="503.9" r="2.6"/><circle cx="419.6" cy="564.6" r="2.6"/><circle cx="281.9" cy="523.9" r="2.6"/></g>
<line x1="421.4" y1="526.7" x2="489.2" y2="526.7" stroke="#d7641e" stroke-width="1.3"/>
<path d="M421.4,503.9 L423.5,504.2 L425.6,504.6 L427.8,504.9 L429.9,505.3 L432.0,505.8 L434.1,506.4 L436.2,507.3 L438.3,509.7 L440.5,522.2 L442.6,522.8 L444.7,523.3 L446.8,523.4 L448.9,523.6 L451.1,523.8 L453.2,524.0 L455.3,524.2 L457.4,524.3 L459.5,524.6 L461.7,524.8 L463.8,525.1 L465.9,525.3 L468.0,525.5 L470.1,525.8 L472.2,526.0 L474.4,526.3 L476.5,535.8 L478.6,555.1 L480.7,561.6 L482.8,563.8 L485.0,563.9 L487.1,564.0 L489.2,564.1" fill="none" stroke="#d7641e" stroke-width="1.3"/>
<g fill="#d7641e"><circle cx="421.4" cy="503.9" r="2.85"/><circle cx="423.5" cy="504.2" r="2.85"/><circle cx="425.6" cy="504.6" r="2.85"/><circle cx="427.8" cy="504.9" r="2.85"/><circle cx="429.9" cy="505.3" r="2.85"/><circle cx="432.0" cy="505.8" r="2.85"/><circle cx="434.1" cy="506.4" r="2.85"/><circle cx="436.2" cy="507.3" r="2.85"/><circle cx="438.3" cy="509.7" r="2.85"/><circle cx="440.5" cy="522.2" r="2.85"/><circle cx="442.6" cy="522.8" r="2.85"/><circle cx="444.7" cy="523.3" r="2.85"/><circle cx="446.8" cy="523.4" r="2.85"/><circle cx="448.9" cy="523.6" r="2.85"/><circle cx="451.1" cy="523.8" r="2.85"/><circle cx="453.2" cy="524.0" r="2.85"/><circle cx="455.3" cy="524.2" r="2.85"/><circle cx="457.4" cy="524.3" r="2.85"/><circle cx="459.5" cy="524.6" r="2.85"/><circle cx="461.7" cy="524.8" r="2.85"/><circle cx="463.8" cy="525.1" r="2.85"/><circle cx="465.9" cy="525.3" r="2.85"/><circle cx="468.0" cy="525.5" r="2.85"/><circle cx="470.1" cy="525.8" r="2.85"/><circle cx="472.2" cy="526.0" r="2.85"/><circle cx="474.4" cy="526.3" r="2.85"/><circle cx="476.5" cy="535.8" r="2.85"/><circle cx="478.6" cy="555.1" r="2.85"/><circle cx="480.7" cy="561.6" r="2.85"/><circle cx="482.8" cy="563.8" r="2.85"/><circle cx="485.0" cy="563.9" r="2.85"/><circle cx="487.1" cy="564.0" r="2.85"/><circle cx="489.2" cy="564.1" r="2.85"/></g>
<g fill="#66250a"><circle cx="421.4" cy="503.9" r="2.6"/><circle cx="489.2" cy="564.1" r="2.6"/><circle cx="474.5" cy="526.3" r="2.6"/></g>
<line x1="491.7" y1="529.8" x2="584.6" y2="529.8" stroke="#9c9c9c" stroke-width="1.3"/>
<path d="M491.7,501.1 L493.8,501.4 L495.9,501.8 L498.0,502.1 L500.1,502.9 L502.3,504.0 L504.4,505.0 L506.5,506.2 L508.6,507.7 L510.7,521.9 L512.8,523.2 L514.9,523.3 L517.0,523.4 L519.1,523.5 L521.3,523.6 L523.4,523.7 L525.5,523.8 L527.6,523.9 L529.7,524.0 L531.8,524.1 L533.9,524.2 L536.0,524.2 L538.1,524.3 L540.3,524.4 L542.4,524.6 L544.5,524.8 L546.6,525.0 L548.7,525.2 L550.8,525.4 L552.9,526.2 L555.0,528.6 L557.2,531.0 L559.3,532.3 L561.4,533.5 L563.5,539.9 L565.6,554.3 L567.7,560.0 L569.8,562.1 L571.9,562.8 L574.0,563.5 L576.2,564.2 L578.3,565.1 L580.4,566.0 L582.5,566.8 L584.6,567.6" fill="none" stroke="#9c9c9c" stroke-width="1.3"/>
<g fill="#9c9c9c"><circle cx="491.7" cy="501.1" r="2.85"/><circle cx="493.8" cy="501.4" r="2.85"/><circle cx="495.9" cy="501.8" r="2.85"/><circle cx="498.0" cy="502.1" r="2.85"/><circle cx="500.1" cy="502.9" r="2.85"/><circle cx="502.3" cy="504.0" r="2.85"/><circle cx="504.4" cy="505.0" r="2.85"/><circle cx="506.5" cy="506.2" r="2.85"/><circle cx="508.6" cy="507.7" r="2.85"/><circle cx="510.7" cy="521.9" r="2.85"/><circle cx="512.8" cy="523.2" r="2.85"/><circle cx="514.9" cy="523.3" r="2.85"/><circle cx="517.0" cy="523.4" r="2.85"/><circle cx="519.1" cy="523.5" r="2.85"/><circle cx="521.3" cy="523.6" r="2.85"/><circle cx="523.4" cy="523.7" r="2.85"/><circle cx="525.5" cy="523.8" r="2.85"/><circle cx="527.6" cy="523.9" r="2.85"/><circle cx="529.7" cy="524.0" r="2.85"/><circle cx="531.8" cy="524.1" r="2.85"/><circle cx="533.9" cy="524.2" r="2.85"/><circle cx="536.0" cy="524.2" r="2.85"/><circle cx="538.1" cy="524.3" r="2.85"/><circle cx="540.3" cy="524.4" r="2.85"/><circle cx="542.4" cy="524.6" r="2.85"/><circle cx="544.5" cy="524.8" r="2.85"/><circle cx="546.6" cy="525.0" r="2.85"/><circle cx="548.7" cy="525.2" r="2.85"/><circle cx="550.8" cy="525.4" r="2.85"/><circle cx="552.9" cy="526.2" r="2.85"/><circle cx="555.0" cy="528.6" r="2.85"/><circle cx="557.2" cy="531.0" r="2.85"/><circle cx="559.3" cy="532.3" r="2.85"/><circle cx="561.4" cy="533.5" r="2.85"/><circle cx="563.5" cy="539.9" r="2.85"/><circle cx="565.6" cy="554.3" r="2.85"/><circle cx="567.7" cy="560.0" r="2.85"/><circle cx="569.8" cy="562.1" r="2.85"/><circle cx="571.9" cy="562.8" r="2.85"/><circle cx="574.0" cy="563.5" r="2.85"/><circle cx="576.2" cy="564.2" r="2.85"/><circle cx="578.3" cy="565.1" r="2.85"/><circle cx="580.4" cy="566.0" r="2.85"/><circle cx="582.5" cy="566.8" r="2.85"/><circle cx="584.6" cy="567.6" r="2.85"/></g>
<g fill="#3a3a3a"><circle cx="491.7" cy="501.1" r="2.6"/><circle cx="584.6" cy="567.6" r="2.6"/><circle cx="557.1" cy="531.0" r="2.6"/></g>
<line x1="587.0" y1="528.8" x2="681.9" y2="528.8" stroke="#387eb9" stroke-width="1.3"/>
<path d="M587.0,492.5 L589.1,505.2 L591.3,505.5 L593.4,505.9 L595.6,506.3 L597.7,506.7 L599.9,508.1 L602.0,524.1 L604.2,524.2 L606.3,524.3 L608.5,524.4 L610.6,524.4 L612.7,524.5 L614.9,524.6 L617.0,524.7 L619.2,524.8 L621.3,524.9 L623.5,525.0 L625.6,525.1 L627.8,525.2 L629.9,525.3 L632.1,525.4 L634.2,525.5 L636.3,525.6 L638.5,525.7 L640.6,525.9 L642.8,526.0 L644.9,526.1 L647.1,526.3 L649.2,526.4 L651.4,526.5 L653.5,527.1 L655.7,527.7 L657.8,528.2 L659.9,528.8 L662.1,530.7 L664.2,533.3 L666.4,536.3 L668.5,539.5 L670.7,563.4 L672.8,563.5 L675.0,563.6 L677.1,564.0 L679.3,565.9 L681.4,567.9" fill="none" stroke="#387eb9" stroke-width="1.3"/>
<g fill="#387eb9"><circle cx="587.0" cy="492.5" r="2.85"/><circle cx="589.1" cy="505.2" r="2.85"/><circle cx="591.3" cy="505.5" r="2.85"/><circle cx="593.4" cy="505.9" r="2.85"/><circle cx="595.6" cy="506.3" r="2.85"/><circle cx="597.7" cy="506.7" r="2.85"/><circle cx="599.9" cy="508.1" r="2.85"/><circle cx="602.0" cy="524.1" r="2.85"/><circle cx="604.2" cy="524.2" r="2.85"/><circle cx="606.3" cy="524.3" r="2.85"/><circle cx="608.5" cy="524.4" r="2.85"/><circle cx="610.6" cy="524.4" r="2.85"/><circle cx="612.7" cy="524.5" r="2.85"/><circle cx="614.9" cy="524.6" r="2.85"/><circle cx="617.0" cy="524.7" r="2.85"/><circle cx="619.2" cy="524.8" r="2.85"/><circle cx="621.3" cy="524.9" r="2.85"/><circle cx="623.5" cy="525.0" r="2.85"/><circle cx="625.6" cy="525.1" r="2.85"/><circle cx="627.8" cy="525.2" r="2.85"/><circle cx="629.9" cy="525.3" r="2.85"/><circle cx="632.1" cy="525.4" r="2.85"/><circle cx="634.2" cy="525.5" r="2.85"/><circle cx="636.3" cy="525.6" r="2.85"/><circle cx="638.5" cy="525.7" r="2.85"/><circle cx="640.6" cy="525.9" r="2.85"/><circle cx="642.8" cy="526.0" r="2.85"/><circle cx="644.9" cy="526.1" r="2.85"/><circle cx="647.1" cy="526.3" r="2.85"/><circle cx="649.2" cy="526.4" r="2.85"/><circle cx="651.4" cy="526.5" r="2.85"/><circle cx="653.5" cy="527.1" r="2.85"/><circle cx="655.7" cy="527.7" r="2.85"/><circle cx="657.8" cy="528.2" r="2.85"/><circle cx="659.9" cy="528.8" r="2.85"/><circle cx="662.1" cy="530.7" r="2.85"/><circle cx="664.2" cy="533.3" r="2.85"/><circle cx="666.4" cy="536.3" r="2.85"/><circle cx="668.5" cy="539.5" r="2.85"/><circle cx="670.7" cy="563.4" r="2.85"/><circle cx="672.8" cy="563.5" r="2.85"/><circle cx="675.0" cy="563.6" r="2.85"/><circle cx="677.1" cy="564.0" r="2.85"/><circle cx="679.3" cy="565.9" r="2.85"/><circle cx="681.4" cy="567.9" r="2.85"/></g>
<g fill="#18324f"><circle cx="587.0" cy="492.5" r="2.6"/><circle cx="681.4" cy="567.9" r="2.6"/><circle cx="660.7" cy="529.0" r="2.6"/></g>
</g>
<text x="144.4" y="476.9" font-size="13.33" fill="#72225c">6R-42-3</text>
<text x="76.7" y="504.3" font-size="13.33" fill="#6f6f1f">Starlight</text>
<text x="96.1" y="538.8" font-size="13.33" fill="#6f6f1f">Belmineb-Rmr-3</text>
<text x="104.7" y="571.5" font-size="13.33" fill="#6f6f1f">Gn Harris</text>
<text x="154.5" y="515.9" font-size="13.33" fill="#6c441c">Shoshone</text>
<text x="206.3" y="537.7" font-size="13.33" fill="#72225c">I9365-5</text>
<text x="225.2" y="568.0" font-size="13.33" fill="#72225c">Yolano</text>
<text x="288.3" y="520.1" font-size="13.33" fill="#6c441c">Uspt-Cbb-1</text>
<text x="345.5" y="576.2" font-size="13.33" fill="#6c441c">Uspt-Cbb-3</text>
<text x="428.4" y="502.6" font-size="13.33" fill="#7c3218">Big Bend</text>
<text x="481.7" y="523.6" font-size="13.33" fill="#7c3218">Usrm-20</text>
<text x="444.6" y="574.3" font-size="13.33" fill="#7c3218">Ui-239</text>
<text x="498.2" y="501.7" font-size="13.33" fill="#3f3f3f">A-55</text>
<text x="561.3" y="525.3" font-size="13.33" fill="#3f3f3f">B05055</text>
<text x="573.0" y="562.7" font-size="13.33" fill="#3f3f3f">Xan-176</text>
<text x="541.4" y="506.6" font-size="13.33" fill="#1c3f66">Voyager-1</text>
<text x="616.6" y="538.6" font-size="13.33" fill="#1c3f66">Hyden</text>
<text x="632.6" y="575.0" font-size="13.33" fill="#1c3f66">Norstar</text>
<line x1="69.20" y1="457.10" x2="683.40" y2="457.10" stroke="#a0a0a0" stroke-width="1.4"/>
<line x1="683.40" y1="457.10" x2="683.40" y2="579.60" stroke="#707070" stroke-width="1.3"/>
<line x1="69.20" y1="456.60" x2="69.20" y2="580.20" stroke="#333" stroke-width="1.6"/>
<line x1="68.50" y1="579.60" x2="683.90" y2="579.60" stroke="#1a1a1a" stroke-width="1.4"/>
<line x1="64.8" y1="623.00" x2="69.20" y2="623.00" stroke="#333" stroke-width="1.4"/>
<text x="61.3" y="628.3" font-size="14.7" fill="#1a1a1a" text-anchor="end">9.0</text>
<line x1="64.8" y1="654.25" x2="69.20" y2="654.25" stroke="#333" stroke-width="1.4"/>
<text x="61.3" y="659.5" font-size="14.7" fill="#1a1a1a" text-anchor="end">8.5</text>
<line x1="64.8" y1="685.50" x2="69.20" y2="685.50" stroke="#333" stroke-width="1.4"/>
<text x="61.3" y="690.8" font-size="14.7" fill="#1a1a1a" text-anchor="end">8.0</text>
<line x1="64.8" y1="716.75" x2="69.20" y2="716.75" stroke="#333" stroke-width="1.4"/>
<text x="61.3" y="722.0" font-size="14.7" fill="#1a1a1a" text-anchor="end">7.5</text>
<text transform="translate(13.9,662.6) rotate(-90)" font-size="17" text-anchor="middle" fill="#1a1a1a"><tspan font-style="italic">Sutterella</tspan></text>
<text transform="translate(29.1,662.6) rotate(-90)" font-size="17" text-anchor="middle" fill="#1a1a1a">log<tspan font-size="12.75" dy="4">2</tspan><tspan dy="-4">(Abundance)</tspan></text>
<g>
<line x1="70.1" y1="642.6" x2="167.8" y2="642.6" stroke="#dce846" stroke-width="1.3"/>
<path d="M70.1,606.4 L72.2,620.0 L74.3,622.1 L76.5,624.2 L78.6,625.6 L80.7,627.1 L82.8,628.5 L85.0,629.5 L87.1,630.6 L89.2,631.7 L91.3,632.6 L93.5,633.4 L95.6,634.3 L97.7,635.1 L99.8,635.9 L102.0,636.6 L104.1,637.3 L106.2,638.0 L108.3,638.6 L110.5,639.2 L112.6,639.7 L114.7,640.3 L116.8,640.9 L119.0,641.3 L121.1,641.7 L123.2,642.2 L125.3,642.6 L127.4,643.4 L129.6,644.3 L131.7,645.1 L133.8,646.0 L135.9,647.1 L138.1,648.1 L140.2,649.2 L142.3,650.2 L144.4,651.3 L146.6,652.3 L148.7,653.9 L150.8,656.4 L152.9,658.8 L155.1,660.2 L157.2,661.6 L159.3,663.3 L161.4,665.0 L163.6,667.6 L165.7,670.8 L167.8,674.2" fill="none" stroke="#dce846" stroke-width="1.3"/>
<g fill="#dce846"><circle cx="70.1" cy="606.4" r="2.85"/><circle cx="72.2" cy="620.0" r="2.85"/><circle cx="74.3" cy="622.1" r="2.85"/><circle cx="76.5" cy="624.2" r="2.85"/><circle cx="78.6" cy="625.6" r="2.85"/><circle cx="80.7" cy="627.1" r="2.85"/><circle cx="82.8" cy="628.5" r="2.85"/><circle cx="85.0" cy="629.5" r="2.85"/><circle cx="87.1" cy="630.6" r="2.85"/><circle cx="89.2" cy="631.7" r="2.85"/><circle cx="91.3" cy="632.6" r="2.85"/><circle cx="93.5" cy="633.4" r="2.85"/><circle cx="95.6" cy="634.3" r="2.85"/><circle cx="97.7" cy="635.1" r="2.85"/><circle cx="99.8" cy="635.9" r="2.85"/><circle cx="102.0" cy="636.6" r="2.85"/><circle cx="104.1" cy="637.3" r="2.85"/><circle cx="106.2" cy="638.0" r="2.85"/><circle cx="108.3" cy="638.6" r="2.85"/><circle cx="110.5" cy="639.2" r="2.85"/><circle cx="112.6" cy="639.7" r="2.85"/><circle cx="114.7" cy="640.3" r="2.85"/><circle cx="116.8" cy="640.9" r="2.85"/><circle cx="119.0" cy="641.3" r="2.85"/><circle cx="121.1" cy="641.7" r="2.85"/><circle cx="123.2" cy="642.2" r="2.85"/><circle cx="125.3" cy="642.6" r="2.85"/><circle cx="127.4" cy="643.4" r="2.85"/><circle cx="129.6" cy="644.3" r="2.85"/><circle cx="131.7" cy="645.1" r="2.85"/><circle cx="133.8" cy="646.0" r="2.85"/><circle cx="135.9" cy="647.1" r="2.85"/><circle cx="138.1" cy="648.1" r="2.85"/><circle cx="140.2" cy="649.2" r="2.85"/><circle cx="142.3" cy="650.2" r="2.85"/><circle cx="144.4" cy="651.3" r="2.85"/><circle cx="146.6" cy="652.3" r="2.85"/><circle cx="148.7" cy="653.9" r="2.85"/><circle cx="150.8" cy="656.4" r="2.85"/><circle cx="152.9" cy="658.8" r="2.85"/><circle cx="155.1" cy="660.2" r="2.85"/><circle cx="157.2" cy="661.6" r="2.85"/><circle cx="159.3" cy="663.3" r="2.85"/><circle cx="161.4" cy="665.0" r="2.85"/><circle cx="163.6" cy="667.6" r="2.85"/><circle cx="165.7" cy="670.8" r="2.85"/><circle cx="167.8" cy="674.2" r="2.85"/></g>
<g fill="#5e5e18"><circle cx="70.1" cy="606.4" r="2.6"/><circle cx="167.8" cy="674.2" r="2.6"/><circle cx="125.4" cy="642.6" r="2.6"/></g>
<line x1="169.6" y1="646.1" x2="218.5" y2="646.1" stroke="#c96eb0" stroke-width="1.3"/>
<path d="M169.6,615.2 L171.7,619.0 L173.8,621.7 L176.0,623.9 L178.1,626.4 L180.2,629.6 L182.3,632.5 L184.4,634.6 L186.5,636.7 L188.7,638.9 L190.8,639.6 L192.9,640.3 L195.0,641.0 L197.1,641.3 L199.2,641.7 L201.4,642.0 L203.5,654.2 L205.6,657.7 L207.7,660.8 L209.8,663.7 L211.9,667.7 L214.1,671.7 L216.2,675.6 L218.3,718.0" fill="none" stroke="#c96eb0" stroke-width="1.3"/>
<g fill="#c96eb0"><circle cx="169.6" cy="615.2" r="2.85"/><circle cx="171.7" cy="619.0" r="2.85"/><circle cx="173.8" cy="621.7" r="2.85"/><circle cx="176.0" cy="623.9" r="2.85"/><circle cx="178.1" cy="626.4" r="2.85"/><circle cx="180.2" cy="629.6" r="2.85"/><circle cx="182.3" cy="632.5" r="2.85"/><circle cx="184.4" cy="634.6" r="2.85"/><circle cx="186.5" cy="636.7" r="2.85"/><circle cx="188.7" cy="638.9" r="2.85"/><circle cx="190.8" cy="639.6" r="2.85"/><circle cx="192.9" cy="640.3" r="2.85"/><circle cx="195.0" cy="641.0" r="2.85"/><circle cx="197.1" cy="641.3" r="2.85"/><circle cx="199.2" cy="641.7" r="2.85"/><circle cx="201.4" cy="642.0" r="2.85"/><circle cx="203.5" cy="654.2" r="2.85"/><circle cx="205.6" cy="657.7" r="2.85"/><circle cx="207.7" cy="660.8" r="2.85"/><circle cx="209.8" cy="663.7" r="2.85"/><circle cx="211.9" cy="667.7" r="2.85"/><circle cx="214.1" cy="671.7" r="2.85"/><circle cx="216.2" cy="675.6" r="2.85"/><circle cx="218.3" cy="718.0" r="2.85"/></g>
<g fill="#64184f"><circle cx="169.6" cy="615.2" r="2.6"/><circle cx="218.3" cy="718.0" r="2.6"/><circle cx="201.7" cy="642.1" r="2.6"/></g>
<line x1="220.5" y1="643.0" x2="419.6" y2="643.0" stroke="#c9853c" stroke-width="1.3"/>
<path d="M220.5,619.2 L222.6,622.1 L224.8,624.5 L226.9,626.1 L229.1,627.5 L231.2,628.1 L233.3,628.8 L235.5,629.4 L237.6,630.1 L239.8,630.7 L241.9,631.1 L244.0,631.4 L246.2,631.7 L248.3,632.0 L250.5,632.3 L252.6,632.6 L254.8,632.9 L256.9,633.2 L259.0,633.6 L261.2,633.9 L263.3,634.3 L265.5,634.6 L267.6,635.0 L269.7,635.3 L271.9,635.7 L274.0,636.0 L276.2,636.3 L278.3,636.6 L280.4,636.9 L282.6,637.2 L284.7,637.6 L286.9,637.9 L289.0,638.0 L291.1,638.2 L293.3,638.3 L295.4,638.5 L297.6,638.6 L299.7,638.8 L301.9,638.9 L304.0,639.1 L306.1,639.4 L308.3,639.8 L310.4,640.1 L312.6,640.5 L314.7,640.8 L316.8,641.2 L319.0,641.5 L321.1,641.8 L323.3,642.2 L325.4,642.5 L327.5,642.8 L329.7,643.1 L331.8,643.2 L334.0,643.3 L336.1,643.4 L338.2,643.6 L340.4,643.7 L342.5,643.8 L344.7,644.0 L346.8,644.2 L349.0,644.4 L351.1,644.6 L353.2,644.8 L355.4,644.9 L357.5,645.1 L359.7,645.3 L361.8,645.5 L363.9,645.7 L366.1,645.8 L368.2,646.0 L370.4,646.5 L372.5,647.3 L374.6,648.1 L376.8,648.9 L378.9,649.7 L381.1,650.2 L383.2,650.7 L385.3,651.2 L387.5,651.8 L389.6,652.3 L391.8,652.8 L393.9,653.3 L396.1,653.9 L398.2,655.8 L400.3,659.1 L402.5,659.8 L404.6,660.5 L406.8,661.2 L408.9,662.3 L411.0,663.4 L413.2,664.4 L415.3,666.9 L417.5,671.1 L419.6,678.3" fill="none" stroke="#c9853c" stroke-width="1.3"/>
<g fill="#c9853c"><circle cx="220.5" cy="619.2" r="2.85"/><circle cx="222.6" cy="622.1" r="2.85"/><circle cx="224.8" cy="624.5" r="2.85"/><circle cx="226.9" cy="626.1" r="2.85"/><circle cx="229.1" cy="627.5" r="2.85"/><circle cx="231.2" cy="628.1" r="2.85"/><circle cx="233.3" cy="628.8" r="2.85"/><circle cx="235.5" cy="629.4" r="2.85"/><circle cx="237.6" cy="630.1" r="2.85"/><circle cx="239.8" cy="630.7" r="2.85"/><circle cx="241.9" cy="631.1" r="2.85"/><circle cx="244.0" cy="631.4" r="2.85"/><circle cx="246.2" cy="631.7" r="2.85"/><circle cx="248.3" cy="632.0" r="2.85"/><circle cx="250.5" cy="632.3" r="2.85"/><circle cx="252.6" cy="632.6" r="2.85"/><circle cx="254.8" cy="632.9" r="2.85"/><circle cx="256.9" cy="633.2" r="2.85"/><circle cx="259.0" cy="633.6" r="2.85"/><circle cx="261.2" cy="633.9" r="2.85"/><circle cx="263.3" cy="634.3" r="2.85"/><circle cx="265.5" cy="634.6" r="2.85"/><circle cx="267.6" cy="635.0" r="2.85"/><circle cx="269.7" cy="635.3" r="2.85"/><circle cx="271.9" cy="635.7" r="2.85"/><circle cx="274.0" cy="636.0" r="2.85"/><circle cx="276.2" cy="636.3" r="2.85"/><circle cx="278.3" cy="636.6" r="2.85"/><circle cx="280.4" cy="636.9" r="2.85"/><circle cx="282.6" cy="637.2" r="2.85"/><circle cx="284.7" cy="637.6" r="2.85"/><circle cx="286.9" cy="637.9" r="2.85"/><circle cx="289.0" cy="638.0" r="2.85"/><circle cx="291.1" cy="638.2" r="2.85"/><circle cx="293.3" cy="638.3" r="2.85"/><circle cx="295.4" cy="638.5" r="2.85"/><circle cx="297.6" cy="638.6" r="2.85"/><circle cx="299.7" cy="638.8" r="2.85"/><circle cx="301.9" cy="638.9" r="2.85"/><circle cx="304.0" cy="639.1" r="2.85"/><circle cx="306.1" cy="639.4" r="2.85"/><circle cx="308.3" cy="639.8" r="2.85"/><circle cx="310.4" cy="640.1" r="2.85"/><circle cx="312.6" cy="640.5" r="2.85"/><circle cx="314.7" cy="640.8" r="2.85"/><circle cx="316.8" cy="641.2" r="2.85"/><circle cx="319.0" cy="641.5" r="2.85"/><circle cx="321.1" cy="641.8" r="2.85"/><circle cx="323.3" cy="642.2" r="2.85"/><circle cx="325.4" cy="642.5" r="2.85"/><circle cx="327.5" cy="642.8" r="2.85"/><circle cx="329.7" cy="643.1" r="2.85"/><circle cx="331.8" cy="643.2" r="2.85"/><circle cx="334.0" cy="643.3" r="2.85"/><circle cx="336.1" cy="643.4" r="2.85"/><circle cx="338.2" cy="643.6" r="2.85"/><circle cx="340.4" cy="643.7" r="2.85"/><circle cx="342.5" cy="643.8" r="2.85"/><circle cx="344.7" cy="644.0" r="2.85"/><circle cx="346.8" cy="644.2" r="2.85"/><circle cx="349.0" cy="644.4" r="2.85"/><circle cx="351.1" cy="644.6" r="2.85"/><circle cx="353.2" cy="644.8" r="2.85"/><circle cx="355.4" cy="644.9" r="2.85"/><circle cx="357.5" cy="645.1" r="2.85"/><circle cx="359.7" cy="645.3" r="2.85"/><circle cx="361.8" cy="645.5" r="2.85"/><circle cx="363.9" cy="645.7" r="2.85"/><circle cx="366.1" cy="645.8" r="2.85"/><circle cx="368.2" cy="646.0" r="2.85"/><circle cx="370.4" cy="646.5" r="2.85"/><circle cx="372.5" cy="647.3" r="2.85"/><circle cx="374.6" cy="648.1" r="2.85"/><circle cx="376.8" cy="648.9" r="2.85"/><circle cx="378.9" cy="649.7" r="2.85"/><circle cx="381.1" cy="650.2" r="2.85"/><circle cx="383.2" cy="650.7" r="2.85"/><circle cx="385.3" cy="651.2" r="2.85"/><circle cx="387.5" cy="651.8" r="2.85"/><circle cx="389.6" cy="652.3" r="2.85"/><circle cx="391.8" cy="652.8" r="2.85"/><circle cx="393.9" cy="653.3" r="2.85"/><circle cx="396.1" cy="653.9" r="2.85"/><circle cx="398.2" cy="655.8" r="2.85"/><circle cx="400.3" cy="659.1" r="2.85"/><circle cx="402.5" cy="659.8" r="2.85"/><circle cx="404.6" cy="660.5" r="2.85"/><circle cx="406.8" cy="661.2" r="2.85"/><circle cx="408.9" cy="662.3" r="2.85"/><circle cx="411.0" cy="663.4" r="2.85"/><circle cx="413.2" cy="664.4" r="2.85"/><circle cx="415.3" cy="666.9" r="2.85"/><circle cx="417.5" cy="671.1" r="2.85"/><circle cx="419.6" cy="678.3" r="2.85"/></g>
<g fill="#52300e"><circle cx="220.5" cy="619.2" r="2.6"/><circle cx="419.6" cy="678.3" r="2.6"/><circle cx="328.7" cy="643.0" r="2.6"/></g>
<line x1="421.4" y1="644.9" x2="489.2" y2="644.9" stroke="#d7641e" stroke-width="1.3"/>
<path d="M421.4,619.7 L423.5,621.3 L425.6,622.9 L427.8,625.1 L429.9,627.2 L432.0,629.3 L434.1,631.4 L436.2,633.9 L438.3,636.6 L440.5,638.4 L442.6,639.5 L444.7,640.6 L446.8,641.5 L448.9,642.1 L451.1,642.6 L453.2,643.2 L455.3,643.8 L457.4,644.4 L459.5,644.9 L461.7,645.5 L463.8,646.1 L465.9,646.7 L468.0,647.5 L470.1,648.5 L472.2,649.6 L474.4,650.6 L476.5,652.2 L478.6,653.8 L480.7,667.7 L482.8,670.4 L485.0,673.7 L487.1,677.2 L489.2,685.3" fill="none" stroke="#d7641e" stroke-width="1.3"/>
<g fill="#d7641e"><circle cx="421.4" cy="619.7" r="2.85"/><circle cx="423.5" cy="621.3" r="2.85"/><circle cx="425.6" cy="622.9" r="2.85"/><circle cx="427.8" cy="625.1" r="2.85"/><circle cx="429.9" cy="627.2" r="2.85"/><circle cx="432.0" cy="629.3" r="2.85"/><circle cx="434.1" cy="631.4" r="2.85"/><circle cx="436.2" cy="633.9" r="2.85"/><circle cx="438.3" cy="636.6" r="2.85"/><circle cx="440.5" cy="638.4" r="2.85"/><circle cx="442.6" cy="639.5" r="2.85"/><circle cx="444.7" cy="640.6" r="2.85"/><circle cx="446.8" cy="641.5" r="2.85"/><circle cx="448.9" cy="642.1" r="2.85"/><circle cx="451.1" cy="642.6" r="2.85"/><circle cx="453.2" cy="643.2" r="2.85"/><circle cx="455.3" cy="643.8" r="2.85"/><circle cx="457.4" cy="644.4" r="2.85"/><circle cx="459.5" cy="644.9" r="2.85"/><circle cx="461.7" cy="645.5" r="2.85"/><circle cx="463.8" cy="646.1" r="2.85"/><circle cx="465.9" cy="646.7" r="2.85"/><circle cx="468.0" cy="647.5" r="2.85"/><circle cx="470.1" cy="648.5" r="2.85"/><circle cx="472.2" cy="649.6" r="2.85"/><circle cx="474.4" cy="650.6" r="2.85"/><circle cx="476.5" cy="652.2" r="2.85"/><circle cx="478.6" cy="653.8" r="2.85"/><circle cx="480.7" cy="667.7" r="2.85"/><circle cx="482.8" cy="670.4" r="2.85"/><circle cx="485.0" cy="673.7" r="2.85"/><circle cx="487.1" cy="677.2" r="2.85"/><circle cx="489.2" cy="685.3" r="2.85"/></g>
<g fill="#66250a"><circle cx="421.4" cy="619.7" r="2.6"/><circle cx="489.2" cy="685.3" r="2.6"/><circle cx="457.6" cy="644.4" r="2.6"/></g>
<line x1="491.7" y1="646.5" x2="584.6" y2="646.5" stroke="#9c9c9c" stroke-width="1.3"/>
<path d="M491.7,621.5 L493.8,623.6 L495.9,625.7 L498.0,627.3 L500.1,628.7 L502.3,630.1 L504.4,631.5 L506.5,632.9 L508.6,634.3 L510.7,635.6 L512.8,636.4 L514.9,637.2 L517.0,638.0 L519.1,638.8 L521.3,639.8 L523.4,640.8 L525.5,641.9 L527.6,642.9 L529.7,643.9 L531.8,644.8 L533.9,645.6 L536.0,646.5 L538.1,647.2 L540.3,647.9 L542.4,648.6 L544.5,649.3 L546.6,650.1 L548.7,650.9 L550.8,651.7 L552.9,652.6 L555.0,653.4 L557.2,654.2 L559.3,655.3 L561.4,656.4 L563.5,657.4 L565.6,658.5 L567.7,659.5 L569.8,660.8 L571.9,662.2 L574.0,663.5 L576.2,665.1 L578.3,667.2 L580.4,669.4 L582.5,673.1 L584.6,676.9" fill="none" stroke="#9c9c9c" stroke-width="1.3"/>
<g fill="#9c9c9c"><circle cx="491.7" cy="621.5" r="2.85"/><circle cx="493.8" cy="623.6" r="2.85"/><circle cx="495.9" cy="625.7" r="2.85"/><circle cx="498.0" cy="627.3" r="2.85"/><circle cx="500.1" cy="628.7" r="2.85"/><circle cx="502.3" cy="630.1" r="2.85"/><circle cx="504.4" cy="631.5" r="2.85"/><circle cx="506.5" cy="632.9" r="2.85"/><circle cx="508.6" cy="634.3" r="2.85"/><circle cx="510.7" cy="635.6" r="2.85"/><circle cx="512.8" cy="636.4" r="2.85"/><circle cx="514.9" cy="637.2" r="2.85"/><circle cx="517.0" cy="638.0" r="2.85"/><circle cx="519.1" cy="638.8" r="2.85"/><circle cx="521.3" cy="639.8" r="2.85"/><circle cx="523.4" cy="640.8" r="2.85"/><circle cx="525.5" cy="641.9" r="2.85"/><circle cx="527.6" cy="642.9" r="2.85"/><circle cx="529.7" cy="643.9" r="2.85"/><circle cx="531.8" cy="644.8" r="2.85"/><circle cx="533.9" cy="645.6" r="2.85"/><circle cx="536.0" cy="646.5" r="2.85"/><circle cx="538.1" cy="647.2" r="2.85"/><circle cx="540.3" cy="647.9" r="2.85"/><circle cx="542.4" cy="648.6" r="2.85"/><circle cx="544.5" cy="649.3" r="2.85"/><circle cx="546.6" cy="650.1" r="2.85"/><circle cx="548.7" cy="650.9" r="2.85"/><circle cx="550.8" cy="651.7" r="2.85"/><circle cx="552.9" cy="652.6" r="2.85"/><circle cx="555.0" cy="653.4" r="2.85"/><circle cx="557.2" cy="654.2" r="2.85"/><circle cx="559.3" cy="655.3" r="2.85"/><circle cx="561.4" cy="656.4" r="2.85"/><circle cx="563.5" cy="657.4" r="2.85"/><circle cx="565.6" cy="658.5" r="2.85"/><circle cx="567.7" cy="659.5" r="2.85"/><circle cx="569.8" cy="660.8" r="2.85"/><circle cx="571.9" cy="662.2" r="2.85"/><circle cx="574.0" cy="663.5" r="2.85"/><circle cx="576.2" cy="665.1" r="2.85"/><circle cx="578.3" cy="667.2" r="2.85"/><circle cx="580.4" cy="669.4" r="2.85"/><circle cx="582.5" cy="673.1" r="2.85"/><circle cx="584.6" cy="676.9" r="2.85"/></g>
<g fill="#3a3a3a"><circle cx="491.7" cy="621.5" r="2.6"/><circle cx="584.6" cy="676.9" r="2.6"/><circle cx="536.1" cy="646.5" r="2.6"/></g>
<line x1="587.0" y1="639.8" x2="681.9" y2="639.8" stroke="#387eb9" stroke-width="1.3"/>
<path d="M587.0,614.3 L589.1,616.9 L591.3,620.0 L593.4,623.3 L595.6,626.2 L597.7,626.7 L599.9,627.1 L602.0,627.6 L604.2,628.2 L606.3,629.3 L608.5,630.4 L610.6,631.4 L612.7,632.5 L614.9,633.6 L617.0,634.6 L619.2,635.5 L621.3,636.1 L623.5,636.7 L625.6,637.3 L627.8,637.8 L629.9,638.4 L632.1,639.0 L634.2,639.6 L636.3,640.1 L638.5,640.6 L640.6,641.0 L642.8,641.5 L644.9,642.0 L647.1,642.5 L649.2,643.0 L651.4,643.5 L653.5,644.1 L655.7,644.7 L657.8,645.4 L659.9,646.1 L662.1,646.8 L664.2,647.6 L666.4,648.3 L668.5,649.0 L670.7,649.7 L672.8,650.4 L675.0,658.7 L677.1,661.2 L679.3,663.5 L681.4,687.3" fill="none" stroke="#387eb9" stroke-width="1.3"/>
<g fill="#387eb9"><circle cx="587.0" cy="614.3" r="2.85"/><circle cx="589.1" cy="616.9" r="2.85"/><circle cx="591.3" cy="620.0" r="2.85"/><circle cx="593.4" cy="623.3" r="2.85"/><circle cx="595.6" cy="626.2" r="2.85"/><circle cx="597.7" cy="626.7" r="2.85"/><circle cx="599.9" cy="627.1" r="2.85"/><circle cx="602.0" cy="627.6" r="2.85"/><circle cx="604.2" cy="628.2" r="2.85"/><circle cx="606.3" cy="629.3" r="2.85"/><circle cx="608.5" cy="630.4" r="2.85"/><circle cx="610.6" cy="631.4" r="2.85"/><circle cx="612.7" cy="632.5" r="2.85"/><circle cx="614.9" cy="633.6" r="2.85"/><circle cx="617.0" cy="634.6" r="2.85"/><circle cx="619.2" cy="635.5" r="2.85"/><circle cx="621.3" cy="636.1" r="2.85"/><circle cx="623.5" cy="636.7" r="2.85"/><circle cx="625.6" cy="637.3" r="2.85"/><circle cx="627.8" cy="637.8" r="2.85"/><circle cx="629.9" cy="638.4" r="2.85"/><circle cx="632.1" cy="639.0" r="2.85"/><circle cx="634.2" cy="639.6" r="2.85"/><circle cx="636.3" cy="640.1" r="2.85"/><circle cx="638.5" cy="640.6" r="2.85"/><circle cx="640.6" cy="641.0" r="2.85"/><circle cx="642.8" cy="641.5" r="2.85"/><circle cx="644.9" cy="642.0" r="2.85"/><circle cx="647.1" cy="642.5" r="2.85"/><circle cx="649.2" cy="643.0" r="2.85"/><circle cx="651.4" cy="643.5" r="2.85"/><circle cx="653.5" cy="644.1" r="2.85"/><circle cx="655.7" cy="644.7" r="2.85"/><circle cx="657.8" cy="645.4" r="2.85"/><circle cx="659.9" cy="646.1" r="2.85"/><circle cx="662.1" cy="646.8" r="2.85"/><circle cx="664.2" cy="647.6" r="2.85"/><circle cx="666.4" cy="648.3" r="2.85"/><circle cx="668.5" cy="649.0" r="2.85"/><circle cx="670.7" cy="649.7" r="2.85"/><circle cx="672.8" cy="650.4" r="2.85"/><circle cx="675.0" cy="658.7" r="2.85"/><circle cx="677.1" cy="661.2" r="2.85"/><circle cx="679.3" cy="663.5" r="2.85"/><circle cx="681.4" cy="687.3" r="2.85"/></g>
<g fill="#18324f"><circle cx="587.0" cy="614.3" r="2.6"/><circle cx="681.4" cy="687.3" r="2.6"/><circle cx="635.4" cy="639.9" r="2.6"/></g>
</g>
<text x="73.9" y="614.9" font-size="13.33" fill="#6f6f1f">Belmineb-Rmr-8</text>
<text x="73.9" y="637.6" font-size="13.33" fill="#6f6f1f">Emerson</text>
<text x="108.2" y="685.7" font-size="13.33" fill="#6f6f1f">Sapphire</text>
<text x="168.5" y="632.4" font-size="13.33" fill="#72225c">Urs-117</text>
<text x="137.4" y="653.5" font-size="13.33" fill="#72225c">Ucd-9623</text>
<text x="193.5" y="713.4" font-size="13.33" fill="#72225c">6R-42-3</text>
<text x="227.1" y="632.0" font-size="13.33" fill="#6c441c">Ne2-09-10-1</text>
<text x="277.3" y="653.5" font-size="13.33" fill="#6c441c">Apache</text>
<text x="352.5" y="675.7" font-size="13.33" fill="#6c441c">Stampede</text>
<text x="428.2" y="614.2" font-size="13.33" fill="#7c3218">Ui-239</text>
<text x="426.6" y="632.4" font-size="13.33" fill="#3f3f3f">Xan-176</text>
<text x="464.4" y="643.0" font-size="13.33" fill="#7c3218">F07-014-22-2</text>
<text x="466.3" y="699.0" font-size="13.33" fill="#7c3218">Tars09-Rr004</text>
<text x="554.3" y="657.0" font-size="13.33" fill="#3f3f3f">B05055</text>
<text x="555.9" y="685.0" font-size="13.33" fill="#3f3f3f">T39</text>
<text x="593.4" y="614.8" font-size="13.33" fill="#1c3f66">Michelite</text>
<text x="615.6" y="634.8" font-size="13.33" fill="#1c3f66">Crestwood</text>
<text x="624.0" y="685.2" font-size="13.33" fill="#1c3f66">Oac Rex</text>
<line x1="69.20" y1="601.30" x2="683.40" y2="601.30" stroke="#a0a0a0" stroke-width="1.4"/>
<line x1="683.40" y1="601.30" x2="683.40" y2="723.90" stroke="#707070" stroke-width="1.3"/>
<line x1="69.20" y1="600.80" x2="69.20" y2="724.50" stroke="#333" stroke-width="1.6"/>
<line x1="68.50" y1="723.90" x2="683.90" y2="723.90" stroke="#1a1a1a" stroke-width="1.4"/>
<line x1="64.8" y1="747.78" x2="69.20" y2="747.78" stroke="#333" stroke-width="1.4"/>
<text x="61.3" y="753.0" font-size="14.7" fill="#1a1a1a" text-anchor="end">3.4</text>
<line x1="64.8" y1="771.34" x2="69.20" y2="771.34" stroke="#333" stroke-width="1.4"/>
<text x="61.3" y="776.6" font-size="14.7" fill="#1a1a1a" text-anchor="end">3.2</text>
<line x1="64.8" y1="794.90" x2="69.20" y2="794.90" stroke="#333" stroke-width="1.4"/>
<text x="61.3" y="800.2" font-size="14.7" fill="#1a1a1a" text-anchor="end">3.0</text>
<line x1="64.8" y1="818.46" x2="69.20" y2="818.46" stroke="#333" stroke-width="1.4"/>
<text x="61.3" y="823.7" font-size="14.7" fill="#1a1a1a" text-anchor="end">2.8</text>
<line x1="64.8" y1="842.02" x2="69.20" y2="842.02" stroke="#333" stroke-width="1.4"/>
<text x="61.3" y="847.3" font-size="14.7" fill="#1a1a1a" text-anchor="end">2.6</text>
<line x1="64.8" y1="865.58" x2="69.20" y2="865.58" stroke="#333" stroke-width="1.4"/>
<text x="61.3" y="870.8" font-size="14.7" fill="#1a1a1a" text-anchor="end">2.4</text>
<text transform="translate(17.1,806.3) rotate(-90)" font-size="17" text-anchor="middle" fill="#1a1a1a">Acetate</text>
<text transform="translate(33.0,806.3) rotate(-90)" font-size="17" text-anchor="middle" fill="#1a1a1a">mmol/g</text>
<g>
<line x1="70.1" y1="805.2" x2="164.7" y2="805.2" stroke="#dce846" stroke-width="1.3"/>
<path d="M70.1,750.8 L72.2,761.6 L74.4,767.0 L76.5,772.7 L78.7,777.4 L80.8,780.9 L83.0,784.3 L85.1,786.6 L87.3,788.4 L89.4,790.2 L91.6,792.0 L93.8,793.8 L95.9,795.6 L98.0,797.3 L100.2,798.7 L102.3,800.2 L104.5,801.6 L106.6,803.1 L108.8,804.6 L110.9,806.2 L113.1,807.3 L115.2,808.3 L117.4,809.3 L119.5,810.4 L121.7,811.4 L123.8,812.4 L126.0,813.2 L128.1,814.1 L130.3,815.0 L132.4,815.8 L134.6,816.7 L136.8,817.6 L138.9,818.4 L141.0,819.3 L143.2,820.2 L145.3,821.0 L147.5,822.1 L149.6,823.7 L151.8,825.4 L153.9,827.0 L156.1,828.6 L158.2,830.2 L160.4,831.8 L162.5,835.5 L164.7,839.6" fill="none" stroke="#dce846" stroke-width="1.3"/>
<g fill="#dce846"><circle cx="70.1" cy="750.8" r="2.85"/><circle cx="72.2" cy="761.6" r="2.85"/><circle cx="74.4" cy="767.0" r="2.85"/><circle cx="76.5" cy="772.7" r="2.85"/><circle cx="78.7" cy="777.4" r="2.85"/><circle cx="80.8" cy="780.9" r="2.85"/><circle cx="83.0" cy="784.3" r="2.85"/><circle cx="85.1" cy="786.6" r="2.85"/><circle cx="87.3" cy="788.4" r="2.85"/><circle cx="89.4" cy="790.2" r="2.85"/><circle cx="91.6" cy="792.0" r="2.85"/><circle cx="93.8" cy="793.8" r="2.85"/><circle cx="95.9" cy="795.6" r="2.85"/><circle cx="98.0" cy="797.3" r="2.85"/><circle cx="100.2" cy="798.7" r="2.85"/><circle cx="102.3" cy="800.2" r="2.85"/><circle cx="104.5" cy="801.6" r="2.85"/><circle cx="106.6" cy="803.1" r="2.85"/><circle cx="108.8" cy="804.6" r="2.85"/><circle cx="110.9" cy="806.2" r="2.85"/><circle cx="113.1" cy="807.3" r="2.85"/><circle cx="115.2" cy="808.3" r="2.85"/><circle cx="117.4" cy="809.3" r="2.85"/><circle cx="119.5" cy="810.4" r="2.85"/><circle cx="121.7" cy="811.4" r="2.85"/><circle cx="123.8" cy="812.4" r="2.85"/><circle cx="126.0" cy="813.2" r="2.85"/><circle cx="128.1" cy="814.1" r="2.85"/><circle cx="130.3" cy="815.0" r="2.85"/><circle cx="132.4" cy="815.8" r="2.85"/><circle cx="134.6" cy="816.7" r="2.85"/><circle cx="136.8" cy="817.6" r="2.85"/><circle cx="138.9" cy="818.4" r="2.85"/><circle cx="141.0" cy="819.3" r="2.85"/><circle cx="143.2" cy="820.2" r="2.85"/><circle cx="145.3" cy="821.0" r="2.85"/><circle cx="147.5" cy="822.1" r="2.85"/><circle cx="149.6" cy="823.7" r="2.85"/><circle cx="151.8" cy="825.4" r="2.85"/><circle cx="153.9" cy="827.0" r="2.85"/><circle cx="156.1" cy="828.6" r="2.85"/><circle cx="158.2" cy="830.2" r="2.85"/><circle cx="160.4" cy="831.8" r="2.85"/><circle cx="162.5" cy="835.5" r="2.85"/><circle cx="164.7" cy="839.6" r="2.85"/></g>
<g fill="#5e5e18"><circle cx="70.1" cy="750.8" r="2.6"/><circle cx="164.7" cy="839.6" r="2.6"/><circle cx="111.3" cy="806.4" r="2.6"/></g>
<line x1="166.6" y1="830.5" x2="213.8" y2="830.5" stroke="#c96eb0" stroke-width="1.3"/>
<path d="M166.6,794.3 L168.7,801.9 L170.9,808.6 L173.0,812.7 L175.1,816.1 L177.3,818.8 L179.4,821.5 L181.5,824.5 L183.7,827.5 L185.8,830.5 L187.9,831.6 L190.1,832.7 L192.2,833.8 L194.3,834.9 L196.4,836.0 L198.6,837.3 L200.7,839.4 L202.8,841.5 L205.0,843.6 L207.1,844.9 L209.2,847.5 L211.4,851.8 L213.5,862.0" fill="none" stroke="#c96eb0" stroke-width="1.3"/>
<g fill="#c96eb0"><circle cx="166.6" cy="794.3" r="2.85"/><circle cx="168.7" cy="801.9" r="2.85"/><circle cx="170.9" cy="808.6" r="2.85"/><circle cx="173.0" cy="812.7" r="2.85"/><circle cx="175.1" cy="816.1" r="2.85"/><circle cx="177.3" cy="818.8" r="2.85"/><circle cx="179.4" cy="821.5" r="2.85"/><circle cx="181.5" cy="824.5" r="2.85"/><circle cx="183.7" cy="827.5" r="2.85"/><circle cx="185.8" cy="830.5" r="2.85"/><circle cx="187.9" cy="831.6" r="2.85"/><circle cx="190.1" cy="832.7" r="2.85"/><circle cx="192.2" cy="833.8" r="2.85"/><circle cx="194.3" cy="834.9" r="2.85"/><circle cx="196.4" cy="836.0" r="2.85"/><circle cx="198.6" cy="837.3" r="2.85"/><circle cx="200.7" cy="839.4" r="2.85"/><circle cx="202.8" cy="841.5" r="2.85"/><circle cx="205.0" cy="843.6" r="2.85"/><circle cx="207.1" cy="844.9" r="2.85"/><circle cx="209.2" cy="847.5" r="2.85"/><circle cx="211.4" cy="851.8" r="2.85"/><circle cx="213.5" cy="862.0" r="2.85"/></g>
<g fill="#64184f"><circle cx="166.6" cy="794.3" r="2.6"/><circle cx="213.5" cy="862.0" r="2.6"/><circle cx="185.8" cy="830.5" r="2.6"/></g>
<line x1="215.7" y1="819.3" x2="416.4" y2="819.3" stroke="#c9853c" stroke-width="1.3"/>
<path d="M215.7,785.0 L217.8,786.8 L220.0,788.6 L222.1,789.8 L224.2,790.9 L226.4,791.9 L228.5,793.0 L230.6,794.1 L232.8,795.1 L234.9,796.2 L237.1,797.2 L239.2,798.1 L241.3,798.9 L243.5,799.8 L245.6,800.7 L247.7,801.8 L249.9,802.8 L252.0,803.9 L254.1,804.9 L256.3,805.3 L258.4,805.7 L260.5,806.1 L262.7,806.5 L264.8,807.0 L266.9,807.4 L269.1,807.8 L271.2,808.3 L273.3,808.7 L275.5,809.1 L277.6,809.5 L279.8,809.9 L281.9,810.6 L284.0,811.2 L286.2,811.9 L288.3,812.5 L290.4,813.2 L292.6,813.8 L294.7,814.4 L296.8,815.1 L299.0,815.7 L301.1,816.3 L303.2,816.9 L305.4,817.6 L307.5,818.1 L309.6,818.5 L311.8,819.0 L313.9,819.7 L316.0,820.4 L318.2,821.0 L320.3,821.7 L322.5,822.4 L324.6,822.7 L326.7,823.0 L328.9,823.3 L331.0,823.7 L333.1,824.0 L335.3,824.3 L337.4,824.6 L339.5,825.0 L341.7,825.3 L343.8,825.6 L345.9,826.0 L348.1,826.3 L350.2,826.7 L352.3,827.0 L354.5,827.4 L356.6,827.9 L358.8,828.4 L360.9,828.9 L363.0,829.5 L365.2,830.0 L367.3,830.5 L369.4,831.1 L371.6,831.9 L373.7,832.6 L375.8,833.4 L378.0,834.2 L380.1,834.9 L382.2,835.6 L384.4,836.3 L386.5,836.9 L388.6,837.6 L390.8,838.3 L392.9,839.1 L395.0,840.0 L397.2,840.8 L399.3,841.7 L401.5,842.5 L403.6,843.8 L405.7,845.1 L407.9,846.5 L410.0,847.8 L412.1,850.0 L414.3,853.1 L416.4,856.2" fill="none" stroke="#c9853c" stroke-width="1.3"/>
<g fill="#c9853c"><circle cx="215.7" cy="785.0" r="2.85"/><circle cx="217.8" cy="786.8" r="2.85"/><circle cx="220.0" cy="788.6" r="2.85"/><circle cx="222.1" cy="789.8" r="2.85"/><circle cx="224.2" cy="790.9" r="2.85"/><circle cx="226.4" cy="791.9" r="2.85"/><circle cx="228.5" cy="793.0" r="2.85"/><circle cx="230.6" cy="794.1" r="2.85"/><circle cx="232.8" cy="795.1" r="2.85"/><circle cx="234.9" cy="796.2" r="2.85"/><circle cx="237.1" cy="797.2" r="2.85"/><circle cx="239.2" cy="798.1" r="2.85"/><circle cx="241.3" cy="798.9" r="2.85"/><circle cx="243.5" cy="799.8" r="2.85"/><circle cx="245.6" cy="800.7" r="2.85"/><circle cx="247.7" cy="801.8" r="2.85"/><circle cx="249.9" cy="802.8" r="2.85"/><circle cx="252.0" cy="803.9" r="2.85"/><circle cx="254.1" cy="804.9" r="2.85"/><circle cx="256.3" cy="805.3" r="2.85"/><circle cx="258.4" cy="805.7" r="2.85"/><circle cx="260.5" cy="806.1" r="2.85"/><circle cx="262.7" cy="806.5" r="2.85"/><circle cx="264.8" cy="807.0" r="2.85"/><circle cx="266.9" cy="807.4" r="2.85"/><circle cx="269.1" cy="807.8" r="2.85"/><circle cx="271.2" cy="808.3" r="2.85"/><circle cx="273.3" cy="808.7" r="2.85"/><circle cx="275.5" cy="809.1" r="2.85"/><circle cx="277.6" cy="809.5" r="2.85"/><circle cx="279.8" cy="809.9" r="2.85"/><circle cx="281.9" cy="810.6" r="2.85"/><circle cx="284.0" cy="811.2" r="2.85"/><circle cx="286.2" cy="811.9" r="2.85"/><circle cx="288.3" cy="812.5" r="2.85"/><circle cx="290.4" cy="813.2" r="2.85"/><circle cx="292.6" cy="813.8" r="2.85"/><circle cx="294.7" cy="814.4" r="2.85"/><circle cx="296.8" cy="815.1" r="2.85"/><circle cx="299.0" cy="815.7" r="2.85"/><circle cx="301.1" cy="816.3" r="2.85"/><circle cx="303.2" cy="816.9" r="2.85"/><circle cx="305.4" cy="817.6" r="2.85"/><circle cx="307.5" cy="818.1" r="2.85"/><circle cx="309.6" cy="818.5" r="2.85"/><circle cx="311.8" cy="819.0" r="2.85"/><circle cx="313.9" cy="819.7" r="2.85"/><circle cx="316.0" cy="820.4" r="2.85"/><circle cx="318.2" cy="821.0" r="2.85"/><circle cx="320.3" cy="821.7" r="2.85"/><circle cx="322.5" cy="822.4" r="2.85"/><circle cx="324.6" cy="822.7" r="2.85"/><circle cx="326.7" cy="823.0" r="2.85"/><circle cx="328.9" cy="823.3" r="2.85"/><circle cx="331.0" cy="823.7" r="2.85"/><circle cx="333.1" cy="824.0" r="2.85"/><circle cx="335.3" cy="824.3" r="2.85"/><circle cx="337.4" cy="824.6" r="2.85"/><circle cx="339.5" cy="825.0" r="2.85"/><circle cx="341.7" cy="825.3" r="2.85"/><circle cx="343.8" cy="825.6" r="2.85"/><circle cx="345.9" cy="826.0" r="2.85"/><circle cx="348.1" cy="826.3" r="2.85"/><circle cx="350.2" cy="826.7" r="2.85"/><circle cx="352.3" cy="827.0" r="2.85"/><circle cx="354.5" cy="827.4" r="2.85"/><circle cx="356.6" cy="827.9" r="2.85"/><circle cx="358.8" cy="828.4" r="2.85"/><circle cx="360.9" cy="828.9" r="2.85"/><circle cx="363.0" cy="829.5" r="2.85"/><circle cx="365.2" cy="830.0" r="2.85"/><circle cx="367.3" cy="830.5" r="2.85"/><circle cx="369.4" cy="831.1" r="2.85"/><circle cx="371.6" cy="831.9" r="2.85"/><circle cx="373.7" cy="832.6" r="2.85"/><circle cx="375.8" cy="833.4" r="2.85"/><circle cx="378.0" cy="834.2" r="2.85"/><circle cx="380.1" cy="834.9" r="2.85"/><circle cx="382.2" cy="835.6" r="2.85"/><circle cx="384.4" cy="836.3" r="2.85"/><circle cx="386.5" cy="836.9" r="2.85"/><circle cx="388.6" cy="837.6" r="2.85"/><circle cx="390.8" cy="838.3" r="2.85"/><circle cx="392.9" cy="839.1" r="2.85"/><circle cx="395.0" cy="840.0" r="2.85"/><circle cx="397.2" cy="840.8" r="2.85"/><circle cx="399.3" cy="841.7" r="2.85"/><circle cx="401.5" cy="842.5" r="2.85"/><circle cx="403.6" cy="843.8" r="2.85"/><circle cx="405.7" cy="845.1" r="2.85"/><circle cx="407.9" cy="846.5" r="2.85"/><circle cx="410.0" cy="847.8" r="2.85"/><circle cx="412.1" cy="850.0" r="2.85"/><circle cx="414.3" cy="853.1" r="2.85"/><circle cx="416.4" cy="856.2" r="2.85"/></g>
<g fill="#52300e"><circle cx="215.7" cy="785.0" r="2.6"/><circle cx="416.4" cy="856.2" r="2.6"/><circle cx="312.1" cy="819.1" r="2.6"/></g>
<line x1="419.2" y1="822.3" x2="488.1" y2="822.3" stroke="#d7641e" stroke-width="1.3"/>
<path d="M419.2,781.9 L421.3,788.1 L423.5,792.0 L425.6,795.6 L427.7,799.4 L429.9,803.1 L432.0,805.5 L434.1,808.0 L436.2,810.5 L438.4,813.1 L440.5,815.8 L442.6,819.1 L444.8,822.4 L446.9,823.4 L449.0,824.4 L451.2,825.4 L453.3,826.4 L455.4,827.2 L457.6,828.0 L459.7,828.8 L461.8,829.5 L464.0,830.8 L466.1,832.2 L468.2,833.6 L470.3,835.0 L472.5,836.4 L474.6,837.8 L476.7,839.3 L478.9,840.7 L481.0,842.1 L483.1,843.6 L485.3,851.9 L487.4,861.3" fill="none" stroke="#d7641e" stroke-width="1.3"/>
<g fill="#d7641e"><circle cx="419.2" cy="781.9" r="2.85"/><circle cx="421.3" cy="788.1" r="2.85"/><circle cx="423.5" cy="792.0" r="2.85"/><circle cx="425.6" cy="795.6" r="2.85"/><circle cx="427.7" cy="799.4" r="2.85"/><circle cx="429.9" cy="803.1" r="2.85"/><circle cx="432.0" cy="805.5" r="2.85"/><circle cx="434.1" cy="808.0" r="2.85"/><circle cx="436.2" cy="810.5" r="2.85"/><circle cx="438.4" cy="813.1" r="2.85"/><circle cx="440.5" cy="815.8" r="2.85"/><circle cx="442.6" cy="819.1" r="2.85"/><circle cx="444.8" cy="822.4" r="2.85"/><circle cx="446.9" cy="823.4" r="2.85"/><circle cx="449.0" cy="824.4" r="2.85"/><circle cx="451.2" cy="825.4" r="2.85"/><circle cx="453.3" cy="826.4" r="2.85"/><circle cx="455.4" cy="827.2" r="2.85"/><circle cx="457.6" cy="828.0" r="2.85"/><circle cx="459.7" cy="828.8" r="2.85"/><circle cx="461.8" cy="829.5" r="2.85"/><circle cx="464.0" cy="830.8" r="2.85"/><circle cx="466.1" cy="832.2" r="2.85"/><circle cx="468.2" cy="833.6" r="2.85"/><circle cx="470.3" cy="835.0" r="2.85"/><circle cx="472.5" cy="836.4" r="2.85"/><circle cx="474.6" cy="837.8" r="2.85"/><circle cx="476.7" cy="839.3" r="2.85"/><circle cx="478.9" cy="840.7" r="2.85"/><circle cx="481.0" cy="842.1" r="2.85"/><circle cx="483.1" cy="843.6" r="2.85"/><circle cx="485.3" cy="851.9" r="2.85"/><circle cx="487.4" cy="861.3" r="2.85"/></g>
<g fill="#66250a"><circle cx="419.2" cy="781.9" r="2.6"/><circle cx="487.4" cy="861.3" r="2.6"/><circle cx="444.5" cy="822.3" r="2.6"/></g>
<line x1="489.8" y1="802.4" x2="583.7" y2="802.4" stroke="#9c9c9c" stroke-width="1.3"/>
<path d="M489.8,763.7 L491.9,766.7 L494.1,770.8 L496.2,775.6 L498.3,783.9 L500.5,787.2 L502.6,789.3 L504.7,790.8 L506.9,791.8 L509.0,792.9 L511.1,794.0 L513.3,795.0 L515.4,796.1 L517.5,797.2 L519.7,798.2 L521.8,799.3 L523.9,800.4 L526.1,801.5 L528.2,802.5 L530.3,803.1 L532.5,803.6 L534.6,804.2 L536.8,804.8 L538.9,805.3 L541.0,806.0 L543.2,806.6 L545.3,807.3 L547.4,807.9 L549.6,808.5 L551.7,809.3 L553.8,810.2 L556.0,811.1 L558.1,811.9 L560.2,812.8 L562.4,813.7 L564.5,814.8 L566.6,815.8 L568.8,816.9 L570.9,818.0 L573.0,819.4 L575.2,820.8 L577.3,822.3 L579.4,824.6 L581.6,827.4 L583.7,834.4" fill="none" stroke="#9c9c9c" stroke-width="1.3"/>
<g fill="#9c9c9c"><circle cx="489.8" cy="763.7" r="2.85"/><circle cx="491.9" cy="766.7" r="2.85"/><circle cx="494.1" cy="770.8" r="2.85"/><circle cx="496.2" cy="775.6" r="2.85"/><circle cx="498.3" cy="783.9" r="2.85"/><circle cx="500.5" cy="787.2" r="2.85"/><circle cx="502.6" cy="789.3" r="2.85"/><circle cx="504.7" cy="790.8" r="2.85"/><circle cx="506.9" cy="791.8" r="2.85"/><circle cx="509.0" cy="792.9" r="2.85"/><circle cx="511.1" cy="794.0" r="2.85"/><circle cx="513.3" cy="795.0" r="2.85"/><circle cx="515.4" cy="796.1" r="2.85"/><circle cx="517.5" cy="797.2" r="2.85"/><circle cx="519.7" cy="798.2" r="2.85"/><circle cx="521.8" cy="799.3" r="2.85"/><circle cx="523.9" cy="800.4" r="2.85"/><circle cx="526.1" cy="801.5" r="2.85"/><circle cx="528.2" cy="802.5" r="2.85"/><circle cx="530.3" cy="803.1" r="2.85"/><circle cx="532.5" cy="803.6" r="2.85"/><circle cx="534.6" cy="804.2" r="2.85"/><circle cx="536.8" cy="804.8" r="2.85"/><circle cx="538.9" cy="805.3" r="2.85"/><circle cx="541.0" cy="806.0" r="2.85"/><circle cx="543.2" cy="806.6" r="2.85"/><circle cx="545.3" cy="807.3" r="2.85"/><circle cx="547.4" cy="807.9" r="2.85"/><circle cx="549.6" cy="808.5" r="2.85"/><circle cx="551.7" cy="809.3" r="2.85"/><circle cx="553.8" cy="810.2" r="2.85"/><circle cx="556.0" cy="811.1" r="2.85"/><circle cx="558.1" cy="811.9" r="2.85"/><circle cx="560.2" cy="812.8" r="2.85"/><circle cx="562.4" cy="813.7" r="2.85"/><circle cx="564.5" cy="814.8" r="2.85"/><circle cx="566.6" cy="815.8" r="2.85"/><circle cx="568.8" cy="816.9" r="2.85"/><circle cx="570.9" cy="818.0" r="2.85"/><circle cx="573.0" cy="819.4" r="2.85"/><circle cx="575.2" cy="820.8" r="2.85"/><circle cx="577.3" cy="822.3" r="2.85"/><circle cx="579.4" cy="824.6" r="2.85"/><circle cx="581.6" cy="827.4" r="2.85"/><circle cx="583.7" cy="834.4" r="2.85"/></g>
<g fill="#3a3a3a"><circle cx="489.8" cy="763.7" r="2.6"/><circle cx="583.7" cy="834.4" r="2.6"/><circle cx="527.9" cy="802.4" r="2.6"/></g>
<line x1="586.1" y1="789.2" x2="681.9" y2="789.2" stroke="#387eb9" stroke-width="1.3"/>
<path d="M586.1,751.4 L588.2,754.3 L590.3,758.7 L592.5,763.7 L594.6,766.6 L596.7,769.4 L598.8,770.5 L601.0,771.5 L603.1,772.5 L605.2,774.0 L607.3,775.6 L609.4,777.2 L611.6,778.6 L613.7,779.5 L615.8,780.3 L617.9,781.2 L620.1,782.0 L622.2,782.7 L624.3,783.3 L626.4,783.9 L628.5,784.6 L630.7,785.9 L632.8,787.7 L634.9,789.4 L637.0,790.2 L639.2,791.0 L641.3,791.8 L643.4,793.1 L645.5,794.7 L647.6,796.3 L649.8,797.8 L651.9,798.8 L654.0,799.9 L656.1,800.9 L658.3,802.1 L660.4,803.4 L662.5,804.7 L664.6,806.0 L666.7,807.6 L668.9,809.8 L671.0,811.9 L673.1,814.3 L675.2,816.8 L677.4,819.8 L679.5,823.1 L681.6,830.4" fill="none" stroke="#387eb9" stroke-width="1.3"/>
<g fill="#387eb9"><circle cx="586.1" cy="751.4" r="2.85"/><circle cx="588.2" cy="754.3" r="2.85"/><circle cx="590.3" cy="758.7" r="2.85"/><circle cx="592.5" cy="763.7" r="2.85"/><circle cx="594.6" cy="766.6" r="2.85"/><circle cx="596.7" cy="769.4" r="2.85"/><circle cx="598.8" cy="770.5" r="2.85"/><circle cx="601.0" cy="771.5" r="2.85"/><circle cx="603.1" cy="772.5" r="2.85"/><circle cx="605.2" cy="774.0" r="2.85"/><circle cx="607.3" cy="775.6" r="2.85"/><circle cx="609.4" cy="777.2" r="2.85"/><circle cx="611.6" cy="778.6" r="2.85"/><circle cx="613.7" cy="779.5" r="2.85"/><circle cx="615.8" cy="780.3" r="2.85"/><circle cx="617.9" cy="781.2" r="2.85"/><circle cx="620.1" cy="782.0" r="2.85"/><circle cx="622.2" cy="782.7" r="2.85"/><circle cx="624.3" cy="783.3" r="2.85"/><circle cx="626.4" cy="783.9" r="2.85"/><circle cx="628.5" cy="784.6" r="2.85"/><circle cx="630.7" cy="785.9" r="2.85"/><circle cx="632.8" cy="787.7" r="2.85"/><circle cx="634.9" cy="789.4" r="2.85"/><circle cx="637.0" cy="790.2" r="2.85"/><circle cx="639.2" cy="791.0" r="2.85"/><circle cx="641.3" cy="791.8" r="2.85"/><circle cx="643.4" cy="793.1" r="2.85"/><circle cx="645.5" cy="794.7" r="2.85"/><circle cx="647.6" cy="796.3" r="2.85"/><circle cx="649.8" cy="797.8" r="2.85"/><circle cx="651.9" cy="798.8" r="2.85"/><circle cx="654.0" cy="799.9" r="2.85"/><circle cx="656.1" cy="800.9" r="2.85"/><circle cx="658.3" cy="802.1" r="2.85"/><circle cx="660.4" cy="803.4" r="2.85"/><circle cx="662.5" cy="804.7" r="2.85"/><circle cx="664.6" cy="806.0" r="2.85"/><circle cx="666.7" cy="807.6" r="2.85"/><circle cx="668.9" cy="809.8" r="2.85"/><circle cx="671.0" cy="811.9" r="2.85"/><circle cx="673.1" cy="814.3" r="2.85"/><circle cx="675.2" cy="816.8" r="2.85"/><circle cx="677.4" cy="819.8" r="2.85"/><circle cx="679.5" cy="823.1" r="2.85"/><circle cx="681.6" cy="830.4" r="2.85"/></g>
<g fill="#18324f"><circle cx="586.1" cy="751.4" r="2.6"/><circle cx="681.6" cy="830.4" r="2.6"/><circle cx="634.8" cy="789.4" r="2.6"/></g>
</g>
<text x="73.9" y="764.8" font-size="13.33" fill="#6f6f1f">Belmineb-Rmr-8</text>
<text x="73.9" y="820.8" font-size="13.33" fill="#6f6f1f">Belmineb-Rmr-3</text>
<text x="129.9" y="848.9" font-size="13.33" fill="#6f6f1f">Ivory</text>
<text x="173.6" y="801.7" font-size="13.33" fill="#72225c">I9365-25</text>
<text x="192.3" y="831.3" font-size="13.33" fill="#72225c">Roza</text>
<text x="220.2" y="859.4" font-size="13.33" fill="#72225c">Ucd-9623</text>
<text x="222.5" y="781.6" font-size="13.33" fill="#6c441c">Uspt-Cbb-3</text>
<text x="318.8" y="818.5" font-size="13.33" fill="#6c441c">Sdpi-1</text>
<text x="423.4" y="855.4" font-size="13.33" fill="#6c441c">Sonora</text>
<text x="344.7" y="794.3" font-size="13.33" fill="#7c3218">Inta-Precoz</text>
<text x="451.5" y="821.5" font-size="13.33" fill="#7c3218">Ui-239</text>
<text x="493.4" y="856.1" font-size="13.33" fill="#7c3218">Nw-63</text>
<text x="446.1" y="773.6" font-size="13.33" fill="#3f3f3f">Bandit</text>
<text x="531.4" y="801.7" font-size="13.33" fill="#3f3f3f">B05055</text>
<text x="541.2" y="843.7" font-size="13.33" fill="#3f3f3f">Icb-10</text>
<text x="564.9" y="765.8" font-size="13.33" fill="#1c3f66">Nautica</text>
<text x="582.8" y="799.1" font-size="13.33" fill="#1c3f66">Oac-Rex</text>
<text x="615.4" y="842.3" font-size="13.33" fill="#1c3f66">Voyager-1</text>
<line x1="69.20" y1="745.40" x2="683.40" y2="745.40" stroke="#a0a0a0" stroke-width="1.4"/>
<line x1="683.40" y1="745.40" x2="683.40" y2="867.30" stroke="#707070" stroke-width="1.3"/>
<line x1="69.20" y1="744.90" x2="69.20" y2="867.90" stroke="#333" stroke-width="1.6"/>
<line x1="68.50" y1="867.30" x2="683.90" y2="867.30" stroke="#1a1a1a" stroke-width="1.4"/>
<line x1="64.8" y1="894.90" x2="69.20" y2="894.90" stroke="#333" stroke-width="1.4"/>
<text x="61.3" y="900.2" font-size="14.7" fill="#1a1a1a" text-anchor="end">1.0</text>
<line x1="64.8" y1="932.90" x2="69.20" y2="932.90" stroke="#333" stroke-width="1.4"/>
<text x="61.3" y="938.2" font-size="14.7" fill="#1a1a1a" text-anchor="end">0.8</text>
<line x1="64.8" y1="970.90" x2="69.20" y2="970.90" stroke="#333" stroke-width="1.4"/>
<text x="61.3" y="976.2" font-size="14.7" fill="#1a1a1a" text-anchor="end">0.6</text>
<line x1="64.8" y1="1008.90" x2="69.20" y2="1008.90" stroke="#333" stroke-width="1.4"/>
<text x="61.3" y="1014.2" font-size="14.7" fill="#1a1a1a" text-anchor="end">0.4</text>
<text transform="translate(17.0,958.8) rotate(-90)" font-size="17" text-anchor="middle" fill="#1a1a1a">Butyrate</text>
<text transform="translate(32.9,958.8) rotate(-90)" font-size="17" text-anchor="middle" fill="#1a1a1a">mmol/g</text>
<g>
<line x1="70.1" y1="960.9" x2="164.3" y2="960.9" stroke="#dce846" stroke-width="1.3"/>
<path d="M70.1,922.4 L72.2,925.6 L74.4,928.0 L76.5,929.7 L78.7,931.4 L80.8,935.9 L82.9,940.1 L85.1,940.9 L87.2,941.7 L89.4,942.7 L91.5,943.8 L93.7,944.8 L95.8,945.3 L97.9,945.8 L100.1,946.3 L102.2,946.9 L104.4,947.9 L106.5,948.9 L108.6,950.0 L110.8,951.8 L112.9,953.9 L115.1,956.0 L117.2,958.1 L119.3,960.1 L121.5,962.0 L123.6,963.8 L125.8,965.6 L127.9,966.7 L130.0,967.7 L132.2,973.3 L134.3,976.0 L136.5,977.4 L138.6,978.9 L140.8,980.1 L142.9,981.2 L145.0,982.2 L147.2,983.5 L149.3,985.7 L151.5,987.8 L153.6,990.7 L155.7,994.4 L157.9,997.7 L160.0,999.8 L162.2,1001.8 L164.3,1003.7" fill="none" stroke="#dce846" stroke-width="1.3"/>
<g fill="#dce846"><circle cx="70.1" cy="922.4" r="2.85"/><circle cx="72.2" cy="925.6" r="2.85"/><circle cx="74.4" cy="928.0" r="2.85"/><circle cx="76.5" cy="929.7" r="2.85"/><circle cx="78.7" cy="931.4" r="2.85"/><circle cx="80.8" cy="935.9" r="2.85"/><circle cx="82.9" cy="940.1" r="2.85"/><circle cx="85.1" cy="940.9" r="2.85"/><circle cx="87.2" cy="941.7" r="2.85"/><circle cx="89.4" cy="942.7" r="2.85"/><circle cx="91.5" cy="943.8" r="2.85"/><circle cx="93.7" cy="944.8" r="2.85"/><circle cx="95.8" cy="945.3" r="2.85"/><circle cx="97.9" cy="945.8" r="2.85"/><circle cx="100.1" cy="946.3" r="2.85"/><circle cx="102.2" cy="946.9" r="2.85"/><circle cx="104.4" cy="947.9" r="2.85"/><circle cx="106.5" cy="948.9" r="2.85"/><circle cx="108.6" cy="950.0" r="2.85"/><circle cx="110.8" cy="951.8" r="2.85"/><circle cx="112.9" cy="953.9" r="2.85"/><circle cx="115.1" cy="956.0" r="2.85"/><circle cx="117.2" cy="958.1" r="2.85"/><circle cx="119.3" cy="960.1" r="2.85"/><circle cx="121.5" cy="962.0" r="2.85"/><circle cx="123.6" cy="963.8" r="2.85"/><circle cx="125.8" cy="965.6" r="2.85"/><circle cx="127.9" cy="966.7" r="2.85"/><circle cx="130.0" cy="967.7" r="2.85"/><circle cx="132.2" cy="973.3" r="2.85"/><circle cx="134.3" cy="976.0" r="2.85"/><circle cx="136.5" cy="977.4" r="2.85"/><circle cx="138.6" cy="978.9" r="2.85"/><circle cx="140.8" cy="980.1" r="2.85"/><circle cx="142.9" cy="981.2" r="2.85"/><circle cx="145.0" cy="982.2" r="2.85"/><circle cx="147.2" cy="983.5" r="2.85"/><circle cx="149.3" cy="985.7" r="2.85"/><circle cx="151.5" cy="987.8" r="2.85"/><circle cx="153.6" cy="990.7" r="2.85"/><circle cx="155.7" cy="994.4" r="2.85"/><circle cx="157.9" cy="997.7" r="2.85"/><circle cx="160.0" cy="999.8" r="2.85"/><circle cx="162.2" cy="1001.8" r="2.85"/><circle cx="164.3" cy="1003.7" r="2.85"/></g>
<g fill="#5e5e18"><circle cx="70.1" cy="922.4" r="2.6"/><circle cx="164.3" cy="1003.7" r="2.6"/><circle cx="119.4" cy="960.2" r="2.6"/></g>
<line x1="166.6" y1="931.7" x2="213.8" y2="931.7" stroke="#c96eb0" stroke-width="1.3"/>
<path d="M166.6,899.0 L168.7,903.2 L170.9,908.4 L173.0,912.4 L175.1,915.6 L177.3,916.6 L179.4,917.6 L181.5,919.8 L183.7,921.9 L185.8,925.6 L187.9,928.6 L190.1,931.1 L192.2,933.5 L194.3,935.9 L196.4,938.6 L198.6,941.7 L200.7,944.9 L202.8,948.1 L205.0,951.3 L207.1,952.6 L209.2,953.8 L211.4,961.1 L213.5,972.3" fill="none" stroke="#c96eb0" stroke-width="1.3"/>
<g fill="#c96eb0"><circle cx="166.6" cy="899.0" r="2.85"/><circle cx="168.7" cy="903.2" r="2.85"/><circle cx="170.9" cy="908.4" r="2.85"/><circle cx="173.0" cy="912.4" r="2.85"/><circle cx="175.1" cy="915.6" r="2.85"/><circle cx="177.3" cy="916.6" r="2.85"/><circle cx="179.4" cy="917.6" r="2.85"/><circle cx="181.5" cy="919.8" r="2.85"/><circle cx="183.7" cy="921.9" r="2.85"/><circle cx="185.8" cy="925.6" r="2.85"/><circle cx="187.9" cy="928.6" r="2.85"/><circle cx="190.1" cy="931.1" r="2.85"/><circle cx="192.2" cy="933.5" r="2.85"/><circle cx="194.3" cy="935.9" r="2.85"/><circle cx="196.4" cy="938.6" r="2.85"/><circle cx="198.6" cy="941.7" r="2.85"/><circle cx="200.7" cy="944.9" r="2.85"/><circle cx="202.8" cy="948.1" r="2.85"/><circle cx="205.0" cy="951.3" r="2.85"/><circle cx="207.1" cy="952.6" r="2.85"/><circle cx="209.2" cy="953.8" r="2.85"/><circle cx="211.4" cy="961.1" r="2.85"/><circle cx="213.5" cy="972.3" r="2.85"/></g>
<g fill="#64184f"><circle cx="166.6" cy="899.0" r="2.6"/><circle cx="213.5" cy="972.3" r="2.6"/><circle cx="190.0" cy="931.0" r="2.6"/></g>
<line x1="215.6" y1="941.1" x2="416.4" y2="941.1" stroke="#c9853c" stroke-width="1.3"/>
<path d="M215.6,895.5 L217.7,897.7 L219.9,899.8 L222.0,902.0 L224.1,904.1 L226.3,906.3 L228.4,908.4 L230.6,910.6 L232.7,915.7 L234.8,916.9 L237.0,917.3 L239.1,917.8 L241.2,918.2 L243.4,918.6 L245.5,919.2 L247.6,920.1 L249.8,920.9 L251.9,921.7 L254.1,922.6 L256.2,923.4 L258.3,924.3 L260.5,925.1 L262.6,926.0 L264.7,926.8 L266.9,927.7 L269.0,928.6 L271.1,929.5 L273.3,930.4 L275.4,931.3 L277.5,932.2 L279.7,933.1 L281.8,934.0 L284.0,934.5 L286.1,935.0 L288.2,935.4 L290.4,935.9 L292.5,936.3 L294.6,936.8 L296.8,937.3 L298.9,937.7 L301.0,938.2 L303.2,938.7 L305.3,939.1 L307.5,939.6 L309.6,940.1 L311.7,940.6 L313.9,941.0 L316.0,941.6 L318.1,942.2 L320.3,942.8 L322.4,943.4 L324.5,944.0 L326.7,944.6 L328.8,945.1 L331.0,945.5 L333.1,945.9 L335.2,946.3 L337.4,946.8 L339.5,947.6 L341.6,948.7 L343.8,949.7 L345.9,950.8 L348.0,951.7 L350.2,952.0 L352.3,952.3 L354.5,952.6 L356.6,953.0 L358.7,953.3 L360.9,953.7 L363.0,954.0 L365.1,954.3 L367.3,954.7 L369.4,955.0 L371.5,955.3 L373.7,955.6 L375.8,955.8 L377.9,956.1 L380.1,956.7 L382.2,957.4 L384.4,958.0 L386.5,958.6 L388.6,959.3 L390.8,960.1 L392.9,961.2 L395.0,962.2 L397.2,963.3 L399.3,964.4 L401.4,970.6 L403.6,972.0 L405.7,972.8 L407.9,973.5 L410.0,975.5 L412.1,978.3 L414.3,984.4 L416.4,991.3" fill="none" stroke="#c9853c" stroke-width="1.3"/>
<g fill="#c9853c"><circle cx="215.6" cy="895.5" r="2.85"/><circle cx="217.7" cy="897.7" r="2.85"/><circle cx="219.9" cy="899.8" r="2.85"/><circle cx="222.0" cy="902.0" r="2.85"/><circle cx="224.1" cy="904.1" r="2.85"/><circle cx="226.3" cy="906.3" r="2.85"/><circle cx="228.4" cy="908.4" r="2.85"/><circle cx="230.6" cy="910.6" r="2.85"/><circle cx="232.7" cy="915.7" r="2.85"/><circle cx="234.8" cy="916.9" r="2.85"/><circle cx="237.0" cy="917.3" r="2.85"/><circle cx="239.1" cy="917.8" r="2.85"/><circle cx="241.2" cy="918.2" r="2.85"/><circle cx="243.4" cy="918.6" r="2.85"/><circle cx="245.5" cy="919.2" r="2.85"/><circle cx="247.6" cy="920.1" r="2.85"/><circle cx="249.8" cy="920.9" r="2.85"/><circle cx="251.9" cy="921.7" r="2.85"/><circle cx="254.1" cy="922.6" r="2.85"/><circle cx="256.2" cy="923.4" r="2.85"/><circle cx="258.3" cy="924.3" r="2.85"/><circle cx="260.5" cy="925.1" r="2.85"/><circle cx="262.6" cy="926.0" r="2.85"/><circle cx="264.7" cy="926.8" r="2.85"/><circle cx="266.9" cy="927.7" r="2.85"/><circle cx="269.0" cy="928.6" r="2.85"/><circle cx="271.1" cy="929.5" r="2.85"/><circle cx="273.3" cy="930.4" r="2.85"/><circle cx="275.4" cy="931.3" r="2.85"/><circle cx="277.5" cy="932.2" r="2.85"/><circle cx="279.7" cy="933.1" r="2.85"/><circle cx="281.8" cy="934.0" r="2.85"/><circle cx="284.0" cy="934.5" r="2.85"/><circle cx="286.1" cy="935.0" r="2.85"/><circle cx="288.2" cy="935.4" r="2.85"/><circle cx="290.4" cy="935.9" r="2.85"/><circle cx="292.5" cy="936.3" r="2.85"/><circle cx="294.6" cy="936.8" r="2.85"/><circle cx="296.8" cy="937.3" r="2.85"/><circle cx="298.9" cy="937.7" r="2.85"/><circle cx="301.0" cy="938.2" r="2.85"/><circle cx="303.2" cy="938.7" r="2.85"/><circle cx="305.3" cy="939.1" r="2.85"/><circle cx="307.5" cy="939.6" r="2.85"/><circle cx="309.6" cy="940.1" r="2.85"/><circle cx="311.7" cy="940.6" r="2.85"/><circle cx="313.9" cy="941.0" r="2.85"/><circle cx="316.0" cy="941.6" r="2.85"/><circle cx="318.1" cy="942.2" r="2.85"/><circle cx="320.3" cy="942.8" r="2.85"/><circle cx="322.4" cy="943.4" r="2.85"/><circle cx="324.5" cy="944.0" r="2.85"/><circle cx="326.7" cy="944.6" r="2.85"/><circle cx="328.8" cy="945.1" r="2.85"/><circle cx="331.0" cy="945.5" r="2.85"/><circle cx="333.1" cy="945.9" r="2.85"/><circle cx="335.2" cy="946.3" r="2.85"/><circle cx="337.4" cy="946.8" r="2.85"/><circle cx="339.5" cy="947.6" r="2.85"/><circle cx="341.6" cy="948.7" r="2.85"/><circle cx="343.8" cy="949.7" r="2.85"/><circle cx="345.9" cy="950.8" r="2.85"/><circle cx="348.0" cy="951.7" r="2.85"/><circle cx="350.2" cy="952.0" r="2.85"/><circle cx="352.3" cy="952.3" r="2.85"/><circle cx="354.5" cy="952.6" r="2.85"/><circle cx="356.6" cy="953.0" r="2.85"/><circle cx="358.7" cy="953.3" r="2.85"/><circle cx="360.9" cy="953.7" r="2.85"/><circle cx="363.0" cy="954.0" r="2.85"/><circle cx="365.1" cy="954.3" r="2.85"/><circle cx="367.3" cy="954.7" r="2.85"/><circle cx="369.4" cy="955.0" r="2.85"/><circle cx="371.5" cy="955.3" r="2.85"/><circle cx="373.7" cy="955.6" r="2.85"/><circle cx="375.8" cy="955.8" r="2.85"/><circle cx="377.9" cy="956.1" r="2.85"/><circle cx="380.1" cy="956.7" r="2.85"/><circle cx="382.2" cy="957.4" r="2.85"/><circle cx="384.4" cy="958.0" r="2.85"/><circle cx="386.5" cy="958.6" r="2.85"/><circle cx="388.6" cy="959.3" r="2.85"/><circle cx="390.8" cy="960.1" r="2.85"/><circle cx="392.9" cy="961.2" r="2.85"/><circle cx="395.0" cy="962.2" r="2.85"/><circle cx="397.2" cy="963.3" r="2.85"/><circle cx="399.3" cy="964.4" r="2.85"/><circle cx="401.4" cy="970.6" r="2.85"/><circle cx="403.6" cy="972.0" r="2.85"/><circle cx="405.7" cy="972.8" r="2.85"/><circle cx="407.9" cy="973.5" r="2.85"/><circle cx="410.0" cy="975.5" r="2.85"/><circle cx="412.1" cy="978.3" r="2.85"/><circle cx="414.3" cy="984.4" r="2.85"/><circle cx="416.4" cy="991.3" r="2.85"/></g>
<g fill="#52300e"><circle cx="215.6" cy="895.5" r="2.6"/><circle cx="416.4" cy="991.3" r="2.6"/><circle cx="314.1" cy="941.1" r="2.6"/></g>
<line x1="419.2" y1="933.4" x2="488.1" y2="933.4" stroke="#d7641e" stroke-width="1.3"/>
<path d="M419.2,898.3 L421.3,899.5 L423.5,904.6 L425.6,908.9 L427.7,911.0 L429.9,912.7 L432.0,914.5 L434.1,916.3 L436.2,917.4 L438.4,918.5 L440.5,919.6 L442.6,920.8 L444.8,922.3 L446.9,923.7 L449.0,925.5 L451.2,928.1 L453.3,930.8 L455.4,933.4 L457.6,935.0 L459.7,936.6 L461.8,938.2 L464.0,940.2 L466.1,942.3 L468.2,944.4 L470.3,946.4 L472.5,948.2 L474.6,950.0 L476.7,951.9 L478.9,954.7 L481.0,966.9 L483.1,971.3 L485.3,976.3 L487.4,984.3" fill="none" stroke="#d7641e" stroke-width="1.3"/>
<g fill="#d7641e"><circle cx="419.2" cy="898.3" r="2.85"/><circle cx="421.3" cy="899.5" r="2.85"/><circle cx="423.5" cy="904.6" r="2.85"/><circle cx="425.6" cy="908.9" r="2.85"/><circle cx="427.7" cy="911.0" r="2.85"/><circle cx="429.9" cy="912.7" r="2.85"/><circle cx="432.0" cy="914.5" r="2.85"/><circle cx="434.1" cy="916.3" r="2.85"/><circle cx="436.2" cy="917.4" r="2.85"/><circle cx="438.4" cy="918.5" r="2.85"/><circle cx="440.5" cy="919.6" r="2.85"/><circle cx="442.6" cy="920.8" r="2.85"/><circle cx="444.8" cy="922.3" r="2.85"/><circle cx="446.9" cy="923.7" r="2.85"/><circle cx="449.0" cy="925.5" r="2.85"/><circle cx="451.2" cy="928.1" r="2.85"/><circle cx="453.3" cy="930.8" r="2.85"/><circle cx="455.4" cy="933.4" r="2.85"/><circle cx="457.6" cy="935.0" r="2.85"/><circle cx="459.7" cy="936.6" r="2.85"/><circle cx="461.8" cy="938.2" r="2.85"/><circle cx="464.0" cy="940.2" r="2.85"/><circle cx="466.1" cy="942.3" r="2.85"/><circle cx="468.2" cy="944.4" r="2.85"/><circle cx="470.3" cy="946.4" r="2.85"/><circle cx="472.5" cy="948.2" r="2.85"/><circle cx="474.6" cy="950.0" r="2.85"/><circle cx="476.7" cy="951.9" r="2.85"/><circle cx="478.9" cy="954.7" r="2.85"/><circle cx="481.0" cy="966.9" r="2.85"/><circle cx="483.1" cy="971.3" r="2.85"/><circle cx="485.3" cy="976.3" r="2.85"/><circle cx="487.4" cy="984.3" r="2.85"/></g>
<g fill="#66250a"><circle cx="419.2" cy="898.3" r="2.6"/><circle cx="487.4" cy="984.3" r="2.6"/><circle cx="455.4" cy="933.4" r="2.6"/></g>
<line x1="489.8" y1="965.1" x2="584.0" y2="965.1" stroke="#9c9c9c" stroke-width="1.3"/>
<path d="M489.8,908.4 L491.9,908.4 L494.1,919.1 L496.2,925.3 L498.3,927.8 L500.4,929.9 L502.6,932.9 L504.7,936.1 L506.8,939.3 L509.0,942.5 L511.1,945.3 L513.2,947.4 L515.4,949.6 L517.5,951.7 L519.6,953.5 L521.7,955.4 L523.9,957.2 L526.0,959.1 L528.1,961.2 L530.3,963.3 L532.4,965.4 L534.5,967.9 L536.6,970.5 L538.8,972.7 L540.9,973.5 L543.0,974.3 L545.2,975.1 L547.3,975.9 L549.4,977.0 L551.6,978.0 L553.7,979.1 L555.8,980.2 L557.9,981.4 L560.1,982.8 L562.2,984.2 L564.3,985.8 L566.5,989.0 L568.6,992.2 L570.7,993.8 L572.9,995.2 L575.0,996.6 L577.1,998.0 L579.2,999.5 L581.4,1007.9 L583.5,1021.7" fill="none" stroke="#9c9c9c" stroke-width="1.3"/>
<g fill="#9c9c9c"><circle cx="489.8" cy="908.4" r="2.85"/><circle cx="491.9" cy="908.4" r="2.85"/><circle cx="494.1" cy="919.1" r="2.85"/><circle cx="496.2" cy="925.3" r="2.85"/><circle cx="498.3" cy="927.8" r="2.85"/><circle cx="500.4" cy="929.9" r="2.85"/><circle cx="502.6" cy="932.9" r="2.85"/><circle cx="504.7" cy="936.1" r="2.85"/><circle cx="506.8" cy="939.3" r="2.85"/><circle cx="509.0" cy="942.5" r="2.85"/><circle cx="511.1" cy="945.3" r="2.85"/><circle cx="513.2" cy="947.4" r="2.85"/><circle cx="515.4" cy="949.6" r="2.85"/><circle cx="517.5" cy="951.7" r="2.85"/><circle cx="519.6" cy="953.5" r="2.85"/><circle cx="521.7" cy="955.4" r="2.85"/><circle cx="523.9" cy="957.2" r="2.85"/><circle cx="526.0" cy="959.1" r="2.85"/><circle cx="528.1" cy="961.2" r="2.85"/><circle cx="530.3" cy="963.3" r="2.85"/><circle cx="532.4" cy="965.4" r="2.85"/><circle cx="534.5" cy="967.9" r="2.85"/><circle cx="536.6" cy="970.5" r="2.85"/><circle cx="538.8" cy="972.7" r="2.85"/><circle cx="540.9" cy="973.5" r="2.85"/><circle cx="543.0" cy="974.3" r="2.85"/><circle cx="545.2" cy="975.1" r="2.85"/><circle cx="547.3" cy="975.9" r="2.85"/><circle cx="549.4" cy="977.0" r="2.85"/><circle cx="551.6" cy="978.0" r="2.85"/><circle cx="553.7" cy="979.1" r="2.85"/><circle cx="555.8" cy="980.2" r="2.85"/><circle cx="557.9" cy="981.4" r="2.85"/><circle cx="560.1" cy="982.8" r="2.85"/><circle cx="562.2" cy="984.2" r="2.85"/><circle cx="564.3" cy="985.8" r="2.85"/><circle cx="566.5" cy="989.0" r="2.85"/><circle cx="568.6" cy="992.2" r="2.85"/><circle cx="570.7" cy="993.8" r="2.85"/><circle cx="572.9" cy="995.2" r="2.85"/><circle cx="575.0" cy="996.6" r="2.85"/><circle cx="577.1" cy="998.0" r="2.85"/><circle cx="579.2" cy="999.5" r="2.85"/><circle cx="581.4" cy="1007.9" r="2.85"/><circle cx="583.5" cy="1021.7" r="2.85"/></g>
<g fill="#3a3a3a"><circle cx="489.8" cy="908.4" r="2.6"/><circle cx="583.5" cy="1021.7" r="2.6"/><circle cx="532.6" cy="965.6" r="2.6"/></g>
<line x1="585.9" y1="978.1" x2="681.9" y2="978.1" stroke="#387eb9" stroke-width="1.3"/>
<path d="M585.9,926.4 L588.0,946.9 L590.1,949.6 L592.3,951.8 L594.4,953.5 L596.5,955.3 L598.6,956.9 L600.8,958.4 L602.9,960.0 L605.0,962.1 L607.1,964.6 L609.2,967.0 L611.4,968.1 L613.5,969.2 L615.6,970.3 L617.7,971.2 L619.9,972.1 L622.0,972.9 L624.1,973.8 L626.2,974.5 L628.3,975.1 L630.5,975.6 L632.6,976.1 L634.7,976.5 L636.8,977.0 L639.0,977.4 L641.1,979.7 L643.2,982.6 L645.3,984.6 L647.4,986.2 L649.6,987.8 L651.7,989.2 L653.8,990.0 L655.9,990.8 L658.1,991.6 L660.2,993.2 L662.3,994.9 L664.4,996.6 L666.5,997.9 L668.7,999.2 L670.8,1000.6 L672.9,1002.2 L675.0,1004.0 L677.2,1005.5 L679.3,1006.4 L681.4,1007.3" fill="none" stroke="#387eb9" stroke-width="1.3"/>
<g fill="#387eb9"><circle cx="585.9" cy="926.4" r="2.85"/><circle cx="588.0" cy="946.9" r="2.85"/><circle cx="590.1" cy="949.6" r="2.85"/><circle cx="592.3" cy="951.8" r="2.85"/><circle cx="594.4" cy="953.5" r="2.85"/><circle cx="596.5" cy="955.3" r="2.85"/><circle cx="598.6" cy="956.9" r="2.85"/><circle cx="600.8" cy="958.4" r="2.85"/><circle cx="602.9" cy="960.0" r="2.85"/><circle cx="605.0" cy="962.1" r="2.85"/><circle cx="607.1" cy="964.6" r="2.85"/><circle cx="609.2" cy="967.0" r="2.85"/><circle cx="611.4" cy="968.1" r="2.85"/><circle cx="613.5" cy="969.2" r="2.85"/><circle cx="615.6" cy="970.3" r="2.85"/><circle cx="617.7" cy="971.2" r="2.85"/><circle cx="619.9" cy="972.1" r="2.85"/><circle cx="622.0" cy="972.9" r="2.85"/><circle cx="624.1" cy="973.8" r="2.85"/><circle cx="626.2" cy="974.5" r="2.85"/><circle cx="628.3" cy="975.1" r="2.85"/><circle cx="630.5" cy="975.6" r="2.85"/><circle cx="632.6" cy="976.1" r="2.85"/><circle cx="634.7" cy="976.5" r="2.85"/><circle cx="636.8" cy="977.0" r="2.85"/><circle cx="639.0" cy="977.4" r="2.85"/><circle cx="641.1" cy="979.7" r="2.85"/><circle cx="643.2" cy="982.6" r="2.85"/><circle cx="645.3" cy="984.6" r="2.85"/><circle cx="647.4" cy="986.2" r="2.85"/><circle cx="649.6" cy="987.8" r="2.85"/><circle cx="651.7" cy="989.2" r="2.85"/><circle cx="653.8" cy="990.0" r="2.85"/><circle cx="655.9" cy="990.8" r="2.85"/><circle cx="658.1" cy="991.6" r="2.85"/><circle cx="660.2" cy="993.2" r="2.85"/><circle cx="662.3" cy="994.9" r="2.85"/><circle cx="664.4" cy="996.6" r="2.85"/><circle cx="666.5" cy="997.9" r="2.85"/><circle cx="668.7" cy="999.2" r="2.85"/><circle cx="670.8" cy="1000.6" r="2.85"/><circle cx="672.9" cy="1002.2" r="2.85"/><circle cx="675.0" cy="1004.0" r="2.85"/><circle cx="677.2" cy="1005.5" r="2.85"/><circle cx="679.3" cy="1006.4" r="2.85"/><circle cx="681.4" cy="1007.3" r="2.85"/></g>
<g fill="#18324f"><circle cx="585.9" cy="926.4" r="2.6"/><circle cx="681.4" cy="1007.3" r="2.6"/><circle cx="639.4" cy="977.5" r="2.6"/></g>
</g>
<text x="135.1" y="908.8" font-size="13.33" fill="#72225c">Viva</text>
<text x="173.2" y="909.9" font-size="13.33" fill="#6c441c">Win-Mor</text>
<text x="76.7" y="928.6" font-size="13.33" fill="#6f6f1f">Belmineb-Rr-2-1</text>
<text x="197.0" y="941.5" font-size="13.33" fill="#72225c">Pk915</text>
<text x="73.9" y="970.7" font-size="13.33" fill="#6f6f1f">Ui-123</text>
<text x="130.9" y="982.3" font-size="13.33" fill="#72225c">Cdc-Rosalee</text>
<text x="170.8" y="1002.2" font-size="13.33" fill="#6f6f1f">Sawtooth</text>
<text x="272.0" y="952.0" font-size="13.33" fill="#6c441c">Lapaz</text>
<text x="373.7" y="990.5" font-size="13.33" fill="#6c441c">Fisher</text>
<text x="373.7" y="908.8" font-size="13.33" fill="#7c3218">Ui-228</text>
<text x="373.7" y="947.3" font-size="13.33" fill="#7c3218">Tars09-Rr029</text>
<text x="423.2" y="998.7" font-size="13.33" fill="#7c3218">Ibc-301-204</text>
<text x="496.4" y="904.1" font-size="13.33" fill="#3f3f3f">Phantom-1</text>
<text x="537.2" y="960.6" font-size="13.33" fill="#3f3f3f">Pr-0443-151</text>
<text x="564.6" y="1016.8" font-size="13.33" fill="#3f3f3f">Black-Velvet</text>
<text x="592.6" y="923.4" font-size="13.33" fill="#1c3f66">Mackinac</text>
<text x="628.8" y="972.4" font-size="13.33" fill="#1c3f66">Neptune</text>
<text x="647.0" y="1016.8" font-size="13.33" fill="#1c3f66">Vista</text>
<line x1="69.20" y1="889.50" x2="683.40" y2="889.50" stroke="#a0a0a0" stroke-width="1.4"/>
<line x1="683.40" y1="889.50" x2="683.40" y2="1028.10" stroke="#707070" stroke-width="1.3"/>
<line x1="69.20" y1="889.00" x2="69.20" y2="1028.70" stroke="#333" stroke-width="1.6"/>
<line x1="68.50" y1="1028.10" x2="683.90" y2="1028.10" stroke="#1a1a1a" stroke-width="1.4"/>
<text x="179.0" y="1048.8" font-size="17" fill="#1a1a1a">Bean Line (ranked within Market Class and Variable)</text>
</svg></body></html>
